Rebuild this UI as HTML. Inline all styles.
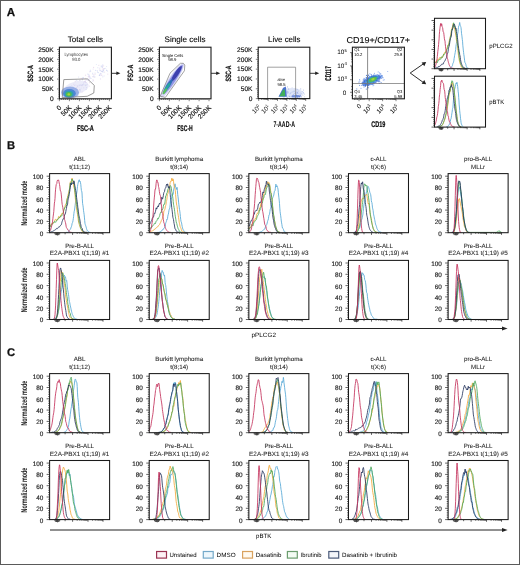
<!DOCTYPE html>
<html><head><meta charset="utf-8"><title>Figure</title>
<style>html,body{margin:0;padding:0;background:#fff;}svg{display:block;}</style></head>
<body><svg style="will-change:transform" width="520" height="565" viewBox="0 0 520 565" font-family='"Liberation Sans", sans-serif' text-rendering="geometricPrecision">
<defs><filter id="bl1" x="-20%" y="-20%" width="140%" height="140%"><feGaussianBlur stdDeviation="0.45"/></filter></defs>
<rect width="520" height="565" fill="#fff"/>
<rect x="0.5" y="0.5" width="519" height="564" fill="none" stroke="#5a5a5a" stroke-width="1"/>
<text x="6.8" y="16" font-size="11.6" font-weight="bold" fill="#111" stroke="#111" stroke-width="0.25">A</text>
<text x="85.4" y="42" font-size="8" text-anchor="middle" textLength="35.4" lengthAdjust="spacingAndGlyphs" stroke="#222" stroke-width="0.12">Total cells</text>
<text x="185" y="42" font-size="8" text-anchor="middle" textLength="41" lengthAdjust="spacingAndGlyphs" stroke="#222" stroke-width="0.12">Single cells</text>
<text x="284.2" y="42" font-size="8" text-anchor="middle" textLength="32.4" lengthAdjust="spacingAndGlyphs" stroke="#222" stroke-width="0.12">Live cells</text>
<text x="378.2" y="42.6" font-size="8.6" text-anchor="middle" textLength="63.5" lengthAdjust="spacingAndGlyphs" stroke="#222" stroke-width="0.12">CD19+/CD117+</text>
<g filter="url(#bl1)">
<circle cx="80.1" cy="90.4" r="0.6" fill="#b8bfec" opacity="0.45"/>
<circle cx="101.8" cy="75.4" r="0.6" fill="#d8b8dc" opacity="0.45"/>
<circle cx="75.7" cy="91.1" r="0.6" fill="#cbbfe8" opacity="0.45"/>
<circle cx="62.8" cy="95.5" r="0.6" fill="#b8bfec" opacity="0.45"/>
<circle cx="101.1" cy="66.0" r="0.6" fill="#b8bfec" opacity="0.45"/>
<circle cx="81.7" cy="85.2" r="0.6" fill="#b8bfec" opacity="0.45"/>
<circle cx="89.5" cy="82.7" r="0.6" fill="#d8b8dc" opacity="0.45"/>
<circle cx="67.0" cy="97.8" r="0.6" fill="#cbbfe8" opacity="0.45"/>
<circle cx="66.6" cy="91.2" r="0.6" fill="#b8bfec" opacity="0.45"/>
<circle cx="88.0" cy="80.7" r="0.6" fill="#cbbfe8" opacity="0.45"/>
<circle cx="79.8" cy="80.4" r="0.6" fill="#c6d0f2" opacity="0.45"/>
<circle cx="86.2" cy="80.0" r="0.6" fill="#cbbfe8" opacity="0.45"/>
<circle cx="93.5" cy="80.7" r="0.6" fill="#d8b8dc" opacity="0.45"/>
<circle cx="83.0" cy="84.8" r="0.6" fill="#d8b8dc" opacity="0.45"/>
<circle cx="107.5" cy="71.0" r="0.6" fill="#aebaea" opacity="0.45"/>
<circle cx="69.5" cy="91.0" r="0.6" fill="#b8bfec" opacity="0.45"/>
<circle cx="90.6" cy="71.2" r="0.6" fill="#aebaea" opacity="0.45"/>
<circle cx="76.2" cy="89.1" r="0.6" fill="#c6d0f2" opacity="0.45"/>
<circle cx="68.9" cy="94.7" r="0.6" fill="#b8bfec" opacity="0.45"/>
<circle cx="65.2" cy="88.5" r="0.6" fill="#c6d0f2" opacity="0.45"/>
<circle cx="72.6" cy="90.7" r="0.6" fill="#b8bfec" opacity="0.45"/>
<circle cx="101.0" cy="73.4" r="0.6" fill="#c6d0f2" opacity="0.45"/>
<circle cx="66.7" cy="91.6" r="0.6" fill="#cbbfe8" opacity="0.45"/>
<circle cx="83.8" cy="82.2" r="0.6" fill="#cbbfe8" opacity="0.45"/>
<circle cx="76.9" cy="80.7" r="0.6" fill="#c6d0f2" opacity="0.45"/>
<circle cx="99.7" cy="75.2" r="0.6" fill="#aebaea" opacity="0.45"/>
<circle cx="91.1" cy="78.3" r="0.6" fill="#b8bfec" opacity="0.45"/>
<circle cx="71.6" cy="92.8" r="0.6" fill="#c6d0f2" opacity="0.45"/>
<circle cx="99.9" cy="75.2" r="0.6" fill="#cbbfe8" opacity="0.45"/>
<circle cx="79.0" cy="87.0" r="0.6" fill="#cbbfe8" opacity="0.45"/>
<circle cx="88.9" cy="75.9" r="0.6" fill="#b8bfec" opacity="0.45"/>
<circle cx="88.3" cy="76.4" r="0.6" fill="#d8b8dc" opacity="0.45"/>
<circle cx="79.4" cy="85.4" r="0.6" fill="#c6d0f2" opacity="0.45"/>
<circle cx="68.5" cy="94.3" r="0.6" fill="#cbbfe8" opacity="0.45"/>
<circle cx="67.5" cy="91.1" r="0.6" fill="#d8b8dc" opacity="0.45"/>
<circle cx="72.6" cy="92.9" r="0.6" fill="#b8bfec" opacity="0.45"/>
<circle cx="67.7" cy="96.4" r="0.6" fill="#aebaea" opacity="0.45"/>
<circle cx="101.4" cy="66.8" r="0.6" fill="#b8bfec" opacity="0.45"/>
<circle cx="103.0" cy="71.9" r="0.6" fill="#c6d0f2" opacity="0.45"/>
<circle cx="80.2" cy="91.2" r="0.6" fill="#aebaea" opacity="0.45"/>
<circle cx="82.8" cy="78.1" r="0.6" fill="#cbbfe8" opacity="0.45"/>
<circle cx="102.3" cy="69.0" r="0.6" fill="#d8b8dc" opacity="0.45"/>
<circle cx="102.5" cy="67.4" r="0.6" fill="#b8bfec" opacity="0.45"/>
<circle cx="93.0" cy="79.5" r="0.6" fill="#cbbfe8" opacity="0.45"/>
<circle cx="79.6" cy="89.7" r="0.6" fill="#d8b8dc" opacity="0.45"/>
<circle cx="78.8" cy="92.4" r="0.6" fill="#cbbfe8" opacity="0.45"/>
<circle cx="99.9" cy="68.0" r="0.6" fill="#cbbfe8" opacity="0.45"/>
<circle cx="67.5" cy="89.9" r="0.6" fill="#b8bfec" opacity="0.45"/>
<circle cx="95.2" cy="74.1" r="0.6" fill="#d8b8dc" opacity="0.45"/>
<circle cx="97.5" cy="71.9" r="0.6" fill="#aebaea" opacity="0.45"/>
<circle cx="102.7" cy="71.1" r="0.6" fill="#cbbfe8" opacity="0.45"/>
<circle cx="81.9" cy="85.7" r="0.6" fill="#d8b8dc" opacity="0.45"/>
<circle cx="95.0" cy="73.0" r="0.6" fill="#b8bfec" opacity="0.45"/>
<circle cx="101.2" cy="74.8" r="0.6" fill="#cbbfe8" opacity="0.45"/>
<circle cx="86.4" cy="87.7" r="0.6" fill="#aebaea" opacity="0.45"/>
<circle cx="72.2" cy="90.8" r="0.6" fill="#c6d0f2" opacity="0.45"/>
<circle cx="85.4" cy="82.3" r="0.6" fill="#cbbfe8" opacity="0.45"/>
<circle cx="81.2" cy="78.4" r="0.6" fill="#d8b8dc" opacity="0.45"/>
<circle cx="103.6" cy="65.8" r="0.6" fill="#d8b8dc" opacity="0.45"/>
<circle cx="92.4" cy="81.0" r="0.6" fill="#b8bfec" opacity="0.45"/>
<circle cx="89.0" cy="79.3" r="0.6" fill="#cbbfe8" opacity="0.45"/>
<circle cx="99.3" cy="75.3" r="0.6" fill="#aebaea" opacity="0.45"/>
<circle cx="85.3" cy="78.4" r="0.6" fill="#d8b8dc" opacity="0.45"/>
<circle cx="86.1" cy="89.3" r="0.6" fill="#aebaea" opacity="0.45"/>
<circle cx="98.8" cy="65.3" r="0.6" fill="#d8b8dc" opacity="0.45"/>
<circle cx="84.7" cy="81.6" r="0.6" fill="#d8b8dc" opacity="0.45"/>
<circle cx="64.3" cy="90.4" r="0.6" fill="#cbbfe8" opacity="0.45"/>
<circle cx="89.8" cy="76.6" r="0.6" fill="#cbbfe8" opacity="0.45"/>
<circle cx="83.3" cy="77.8" r="0.6" fill="#aebaea" opacity="0.45"/>
<circle cx="89.3" cy="75.8" r="0.6" fill="#b8bfec" opacity="0.45"/>
<circle cx="102.9" cy="71.9" r="0.6" fill="#b8bfec" opacity="0.45"/>
<circle cx="92.6" cy="73.9" r="0.6" fill="#b8bfec" opacity="0.45"/>
<circle cx="79.9" cy="80.3" r="0.6" fill="#d8b8dc" opacity="0.45"/>
<circle cx="71.8" cy="93.7" r="0.6" fill="#c6d0f2" opacity="0.45"/>
<circle cx="85.4" cy="85.6" r="0.6" fill="#aebaea" opacity="0.45"/>
<circle cx="104.3" cy="68.6" r="0.6" fill="#c6d0f2" opacity="0.45"/>
<circle cx="72.1" cy="93.9" r="0.6" fill="#b8bfec" opacity="0.45"/>
<circle cx="90.3" cy="77.9" r="0.6" fill="#aebaea" opacity="0.45"/>
<circle cx="98.3" cy="72.6" r="0.6" fill="#aebaea" opacity="0.45"/>
<circle cx="75.8" cy="85.0" r="0.6" fill="#cbbfe8" opacity="0.45"/>
<circle cx="100.5" cy="78.9" r="0.6" fill="#cbbfe8" opacity="0.45"/>
<circle cx="106.5" cy="66.5" r="0.6" fill="#c6d0f2" opacity="0.45"/>
<circle cx="103.2" cy="70.2" r="0.6" fill="#aebaea" opacity="0.45"/>
<circle cx="77.3" cy="85.7" r="0.6" fill="#d8b8dc" opacity="0.45"/>
<circle cx="82.4" cy="79.3" r="0.6" fill="#d8b8dc" opacity="0.45"/>
<circle cx="89.1" cy="78.1" r="0.6" fill="#cbbfe8" opacity="0.45"/>
<circle cx="106.7" cy="70.4" r="0.6" fill="#b8bfec" opacity="0.45"/>
<circle cx="104.1" cy="75.9" r="0.6" fill="#c6d0f2" opacity="0.45"/>
<circle cx="96.4" cy="64.5" r="0.6" fill="#c6d0f2" opacity="0.45"/>
<circle cx="73.7" cy="88.8" r="0.6" fill="#aebaea" opacity="0.45"/>
<circle cx="72.0" cy="94.5" r="0.6" fill="#c6d0f2" opacity="0.45"/>
<circle cx="101.5" cy="71.5" r="0.6" fill="#b8bfec" opacity="0.45"/>
<circle cx="102.8" cy="76.8" r="0.6" fill="#b8bfec" opacity="0.45"/>
<circle cx="75.4" cy="88.2" r="0.6" fill="#d8b8dc" opacity="0.45"/>
<circle cx="85.2" cy="81.2" r="0.6" fill="#b8bfec" opacity="0.45"/>
<circle cx="86.2" cy="82.5" r="0.6" fill="#cbbfe8" opacity="0.45"/>
<circle cx="77.9" cy="95.3" r="0.6" fill="#aebaea" opacity="0.45"/>
<circle cx="87.2" cy="84.3" r="0.6" fill="#cbbfe8" opacity="0.45"/>
<circle cx="78.6" cy="77.0" r="0.6" fill="#b8bfec" opacity="0.45"/>
<circle cx="64.2" cy="90.2" r="0.6" fill="#cbbfe8" opacity="0.45"/>
<circle cx="85.7" cy="84.9" r="0.6" fill="#c6d0f2" opacity="0.45"/>
<circle cx="85.5" cy="75.2" r="0.6" fill="#d8b8dc" opacity="0.45"/>
<circle cx="77.4" cy="89.2" r="0.6" fill="#cbbfe8" opacity="0.45"/>
<circle cx="97.8" cy="67.7" r="0.6" fill="#c6d0f2" opacity="0.45"/>
<circle cx="86.3" cy="85.1" r="0.6" fill="#c6d0f2" opacity="0.45"/>
<circle cx="99.4" cy="69.0" r="0.6" fill="#cbbfe8" opacity="0.45"/>
<circle cx="94.9" cy="76.9" r="0.6" fill="#aebaea" opacity="0.45"/>
<circle cx="82.1" cy="91.9" r="0.6" fill="#d8b8dc" opacity="0.45"/>
<circle cx="83.7" cy="87.8" r="0.6" fill="#cbbfe8" opacity="0.45"/>
<circle cx="81.9" cy="85.4" r="0.6" fill="#c6d0f2" opacity="0.45"/>
<circle cx="74.5" cy="85.3" r="0.6" fill="#b8bfec" opacity="0.45"/>
<circle cx="68.5" cy="90.8" r="0.6" fill="#d8b8dc" opacity="0.45"/>
<circle cx="68.3" cy="94.3" r="0.6" fill="#cbbfe8" opacity="0.45"/>
<circle cx="73.2" cy="90.9" r="0.6" fill="#cbbfe8" opacity="0.45"/>
<circle cx="90.3" cy="70.2" r="0.6" fill="#c6d0f2" opacity="0.45"/>
<circle cx="95.5" cy="70.3" r="0.6" fill="#aebaea" opacity="0.45"/>
<circle cx="93.9" cy="74.6" r="0.6" fill="#d8b8dc" opacity="0.45"/>
<circle cx="89.8" cy="71.7" r="0.6" fill="#cbbfe8" opacity="0.45"/>
<circle cx="102.3" cy="65.9" r="0.6" fill="#b8bfec" opacity="0.45"/>
<circle cx="93.2" cy="69.0" r="0.6" fill="#cbbfe8" opacity="0.45"/>
<circle cx="71.7" cy="94.0" r="0.6" fill="#b8bfec" opacity="0.45"/>
<circle cx="78.9" cy="85.2" r="0.6" fill="#b8bfec" opacity="0.45"/>
<circle cx="88.8" cy="74.4" r="0.6" fill="#b8bfec" opacity="0.45"/>
<circle cx="89.5" cy="86.1" r="0.6" fill="#d8b8dc" opacity="0.45"/>
<circle cx="63.0" cy="91.6" r="0.6" fill="#c6d0f2" opacity="0.45"/>
<circle cx="76.7" cy="89.4" r="0.6" fill="#cbbfe8" opacity="0.45"/>
<circle cx="71.7" cy="85.6" r="0.6" fill="#c6d0f2" opacity="0.45"/>
<circle cx="69.3" cy="91.4" r="0.6" fill="#b8bfec" opacity="0.45"/>
<circle cx="89.2" cy="77.2" r="0.6" fill="#cbbfe8" opacity="0.45"/>
<circle cx="75.3" cy="81.7" r="0.6" fill="#d8b8dc" opacity="0.45"/>
<circle cx="88.9" cy="79.8" r="0.6" fill="#aebaea" opacity="0.45"/>
<circle cx="106.5" cy="70.2" r="0.6" fill="#c6d0f2" opacity="0.45"/>
<circle cx="72.9" cy="86.7" r="0.6" fill="#c6d0f2" opacity="0.45"/>
<circle cx="100.0" cy="74.1" r="0.6" fill="#aebaea" opacity="0.45"/>
<circle cx="105.6" cy="68.3" r="0.6" fill="#c6d0f2" opacity="0.45"/>
<circle cx="100.7" cy="73.3" r="0.6" fill="#cbbfe8" opacity="0.45"/>
<circle cx="71.3" cy="96.1" r="0.6" fill="#aebaea" opacity="0.45"/>
<circle cx="107.8" cy="74.1" r="0.6" fill="#d8b8dc" opacity="0.45"/>
<circle cx="77.9" cy="89.6" r="0.6" fill="#c6d0f2" opacity="0.45"/>
<circle cx="101.0" cy="70.8" r="0.6" fill="#b8bfec" opacity="0.45"/>
<circle cx="102.6" cy="66.1" r="0.6" fill="#cbbfe8" opacity="0.45"/>
<circle cx="80.4" cy="85.0" r="0.6" fill="#aebaea" opacity="0.45"/>
<circle cx="64.1" cy="88.3" r="0.6" fill="#b8bfec" opacity="0.45"/>
<circle cx="103.6" cy="70.1" r="0.6" fill="#aebaea" opacity="0.45"/>
<circle cx="77.4" cy="89.5" r="0.6" fill="#d8b8dc" opacity="0.45"/>
<circle cx="71.7" cy="90.3" r="0.6" fill="#b8bfec" opacity="0.45"/>
<circle cx="80.0" cy="89.1" r="0.6" fill="#cbbfe8" opacity="0.45"/>
<circle cx="74.1" cy="92.4" r="0.6" fill="#cbbfe8" opacity="0.45"/>
<circle cx="97.2" cy="70.5" r="0.6" fill="#b8bfec" opacity="0.45"/>
<circle cx="93.6" cy="67.4" r="0.6" fill="#d8b8dc" opacity="0.45"/>
<circle cx="86.9" cy="79.1" r="0.6" fill="#c6d0f2" opacity="0.45"/>
<circle cx="83.0" cy="77.8" r="0.6" fill="#aebaea" opacity="0.45"/>
<circle cx="87.6" cy="79.6" r="0.6" fill="#cbbfe8" opacity="0.45"/>
<circle cx="82.4" cy="84.7" r="0.6" fill="#aebaea" opacity="0.45"/>
<circle cx="81.3" cy="88.0" r="0.6" fill="#c6d0f2" opacity="0.45"/>
<circle cx="68.3" cy="90.7" r="0.6" fill="#d8b8dc" opacity="0.45"/>
<circle cx="99.9" cy="70.6" r="0.6" fill="#aebaea" opacity="0.45"/>
<circle cx="104.3" cy="68.7" r="0.6" fill="#cbbfe8" opacity="0.45"/>
<circle cx="76.0" cy="92.4" r="0.6" fill="#aebaea" opacity="0.45"/>
<circle cx="73.8" cy="93.1" r="0.6" fill="#b8bfec" opacity="0.45"/>
<circle cx="92.8" cy="76.6" r="0.6" fill="#d8b8dc" opacity="0.45"/>
<circle cx="72.2" cy="95.1" r="0.6" fill="#c6d0f2" opacity="0.45"/>
<circle cx="77.2" cy="87.1" r="0.6" fill="#d8b8dc" opacity="0.45"/>
<circle cx="87.7" cy="74.1" r="0.6" fill="#b8bfec" opacity="0.45"/>
<circle cx="75.4" cy="91.2" r="0.6" fill="#c6d0f2" opacity="0.45"/>
<circle cx="80.0" cy="89.3" r="0.6" fill="#b8bfec" opacity="0.45"/>
<circle cx="64.8" cy="94.3" r="0.6" fill="#c6d0f2" opacity="0.45"/>
<circle cx="103.5" cy="68.9" r="0.6" fill="#d8b8dc" opacity="0.45"/>
<circle cx="102.2" cy="71.4" r="0.6" fill="#b8bfec" opacity="0.45"/>
<circle cx="78.0" cy="96.6" r="0.6" fill="#b8bfec" opacity="0.45"/>
<circle cx="102.8" cy="64.6" r="0.6" fill="#c6d0f2" opacity="0.45"/>
<circle cx="67.6" cy="92.5" r="0.6" fill="#cbbfe8" opacity="0.45"/>
<circle cx="77.6" cy="86.3" r="0.6" fill="#aebaea" opacity="0.45"/>
<circle cx="101.8" cy="66.0" r="0.6" fill="#c6d0f2" opacity="0.45"/>
<circle cx="94.2" cy="77.0" r="0.6" fill="#d8b8dc" opacity="0.45"/>
<circle cx="104.5" cy="72.1" r="0.6" fill="#d8b8dc" opacity="0.45"/>
<circle cx="73.4" cy="93.6" r="0.6" fill="#cbbfe8" opacity="0.45"/>
<circle cx="84.2" cy="84.8" r="0.6" fill="#c6d0f2" opacity="0.45"/>
<circle cx="93.4" cy="76.7" r="0.6" fill="#c6d0f2" opacity="0.45"/>
<circle cx="100.4" cy="70.0" r="0.6" fill="#cbbfe8" opacity="0.45"/>
<circle cx="93.9" cy="75.8" r="0.6" fill="#b8bfec" opacity="0.45"/>
<circle cx="92.7" cy="73.0" r="0.6" fill="#c6d0f2" opacity="0.45"/>
<circle cx="73.8" cy="84.2" r="0.6" fill="#d8b8dc" opacity="0.45"/>
<circle cx="64.8" cy="93.2" r="0.6" fill="#cbbfe8" opacity="0.45"/>
<circle cx="74.6" cy="94.6" r="0.6" fill="#aebaea" opacity="0.45"/>
<circle cx="65.6" cy="88.7" r="0.6" fill="#cbbfe8" opacity="0.45"/>
<circle cx="85.2" cy="81.3" r="0.6" fill="#d8b8dc" opacity="0.45"/>
<circle cx="68.5" cy="92.6" r="0.6" fill="#d8b8dc" opacity="0.45"/>
<circle cx="71.0" cy="91.6" r="0.6" fill="#c6d0f2" opacity="0.45"/>
<circle cx="82.3" cy="79.9" r="0.6" fill="#b8bfec" opacity="0.45"/>
<circle cx="76.4" cy="87.7" r="0.6" fill="#b8bfec" opacity="0.45"/>
<circle cx="76.2" cy="80.0" r="0.6" fill="#aebaea" opacity="0.45"/>
<circle cx="83.5" cy="83.9" r="0.6" fill="#b8bfec" opacity="0.45"/>
<circle cx="80.2" cy="85.0" r="0.6" fill="#cbbfe8" opacity="0.45"/>
<ellipse cx="76" cy="88" rx="13" ry="6.5" fill="#d4d4f2" opacity="0.45" transform="rotate(-15 76 88)"/>
<ellipse cx="70" cy="92.6" rx="9" ry="6" fill="#7d9ce0" opacity="0.75"/>
<ellipse cx="69.4" cy="93.4" rx="6.4" ry="4.5" fill="#4a84d4" opacity="0.95"/>
<ellipse cx="69" cy="94" rx="4.4" ry="3.2" fill="#2fa0b0"/>
<ellipse cx="68.8" cy="94.3" rx="2.9" ry="2.2" fill="#52bd4e"/>
<ellipse cx="68.8" cy="94.4" rx="1.4" ry="1.1" fill="#a6d43a"/>
</g>
<path d="M63.8 79.6 L87.4 78.9 L94.3 85.4 L93.8 93 L87.2 96.3 L62.2 97.6 Z" fill="none" stroke="#7a7a7a" stroke-width="0.75"/>
<text x="76.2" y="55.9" font-size="4.6" text-anchor="middle" textLength="23.5" lengthAdjust="spacingAndGlyphs" fill="#333" >Lymphocytes</text>
<text x="76.3" y="60.9" font-size="4.6" text-anchor="middle" textLength="8.3" lengthAdjust="spacingAndGlyphs" fill="#333" >93.0</text>
<rect x="59.4" y="47.2" width="52" height="51.6" fill="none" stroke="#1a1a1a" stroke-width="1.1"/>
<text x="53.7" y="101.1" font-size="6.6" text-anchor="end" stroke="#222" stroke-width="0.15">0</text>
<text x="53.7" y="91.24" font-size="6.6" text-anchor="end" stroke="#222" stroke-width="0.15">50K</text>
<text x="53.7" y="81.38" font-size="6.6" text-anchor="end" stroke="#222" stroke-width="0.15">100K</text>
<text x="53.7" y="71.52" font-size="6.6" text-anchor="end" stroke="#222" stroke-width="0.15">150K</text>
<text x="53.7" y="61.66" font-size="6.6" text-anchor="end" stroke="#222" stroke-width="0.15">200K</text>
<text x="53.7" y="51.8" font-size="6.6" text-anchor="end" stroke="#222" stroke-width="0.15">250K</text>
<text transform="translate(62,108.2) rotate(-45)" x="0" y="0" font-size="6.7" text-anchor="end" stroke="#222" stroke-width="0.15">0</text>
<text transform="translate(72,108.2) rotate(-45)" x="0" y="0" font-size="6.7" text-anchor="end" stroke="#222" stroke-width="0.15">50K</text>
<text transform="translate(82,108.2) rotate(-45)" x="0" y="0" font-size="6.7" text-anchor="end" stroke="#222" stroke-width="0.15">100K</text>
<text transform="translate(92,108.2) rotate(-45)" x="0" y="0" font-size="6.7" text-anchor="end" stroke="#222" stroke-width="0.15">150K</text>
<text transform="translate(102,108.2) rotate(-45)" x="0" y="0" font-size="6.7" text-anchor="end" stroke="#222" stroke-width="0.15">200K</text>
<text transform="translate(112,108.2) rotate(-45)" x="0" y="0" font-size="6.7" text-anchor="end" stroke="#222" stroke-width="0.15">250K</text>
<path d="M57 98.8H59.4M58.2 96.83H59.4M58.2 94.86H59.4M58.2 92.88H59.4M58.2 90.91H59.4M57 88.94H59.4M58.2 86.97H59.4M58.2 85H59.4M58.2 83.02H59.4M58.2 81.05H59.4M57 79.08H59.4M58.2 77.11H59.4M58.2 75.14H59.4M58.2 73.16H59.4M58.2 71.19H59.4M57 69.22H59.4M58.2 67.25H59.4M58.2 65.28H59.4M58.2 63.3H59.4M58.2 61.33H59.4M57 59.36H59.4M58.2 57.39H59.4M58.2 55.42H59.4M58.2 53.44H59.4M58.2 51.47H59.4M57 49.5H59.4M59.4 98.8V101.2M61.4 98.8V100M63.4 98.8V100M65.4 98.8V100M67.4 98.8V100M69.4 98.8V101.2M71.4 98.8V100M73.4 98.8V100M75.4 98.8V100M77.4 98.8V100M79.4 98.8V101.2M81.4 98.8V100M83.4 98.8V100M85.4 98.8V100M87.4 98.8V100M89.4 98.8V101.2M91.4 98.8V100M93.4 98.8V100M95.4 98.8V100M97.4 98.8V100M99.4 98.8V101.2M101.4 98.8V100M103.4 98.8V100M105.4 98.8V100M107.4 98.8V100M109.4 98.8V101.2" stroke="#222" stroke-width="0.55" fill="none"/>
<text transform="translate(33.2,73.5) rotate(-90)" x="0" y="0" font-size="7.8" text-anchor="middle" font-weight="bold" textLength="16.5" lengthAdjust="spacingAndGlyphs" stroke="#222" stroke-width="0.2">SSC-A</text>
<text x="85.4" y="130.9" font-size="8.2" text-anchor="middle" font-weight="bold" textLength="17" lengthAdjust="spacingAndGlyphs" stroke="#222" stroke-width="0.2">FSC-A</text>
<line x1="111.4" y1="73.3" x2="117.2" y2="73.3" stroke="#222" stroke-width="0.9" />
<path d="M116.4 71.5 L120.4 73.3 L116.4 75.1 Z" fill="#222"/>
<g filter="url(#bl1)">
<ellipse cx="172.2" cy="80.4" rx="20.5" ry="4" fill="#cfd0f4" opacity="0.85" transform="rotate(-56.3 172.2 80.4)"/>
<ellipse cx="172.8" cy="79.6" rx="17.5" ry="2.9" fill="#8a8fe0" opacity="0.9" transform="rotate(-56.3 172.8 79.6)"/>
<ellipse cx="176.6" cy="73.6" rx="9" ry="2" fill="#3d3fae" opacity="1" transform="rotate(-56.3 176.6 73.6)"/>
<ellipse cx="168.6" cy="85" rx="7" ry="1.7" fill="#2f6fb8" opacity="1" transform="rotate(-56.3 168.6 85)"/>
<ellipse cx="167" cy="87.5" rx="5.5" ry="1.5" fill="#29a3a2" opacity="1" transform="rotate(-56.3 167 87.5)"/>
<ellipse cx="164.8" cy="91.4" rx="3.4" ry="1.2" fill="#5cc05a" opacity="1" transform="rotate(-56.3 164.8 91.4)"/>
</g>
<path d="M160.2 96.3 L170 73.2 L180.4 63.3 L183.3 63.3 L184.8 65 L184.4 70.8 L165.4 97.4 Z" fill="none" stroke="#7a7a7a" stroke-width="0.7"/>
<text x="172.6" y="56.6" font-size="4.3" text-anchor="middle" textLength="21.4" lengthAdjust="spacingAndGlyphs" >Single Cells</text>
<text x="172.3" y="61.4" font-size="4.3" text-anchor="middle" textLength="8.3" lengthAdjust="spacingAndGlyphs" >98.9</text>
<rect x="159.4" y="47.2" width="51.6" height="51.6" fill="none" stroke="#1a1a1a" stroke-width="1.1"/>
<text x="153.7" y="101.1" font-size="6.6" text-anchor="end" stroke="#222" stroke-width="0.15">0</text>
<text x="153.7" y="91.24" font-size="6.6" text-anchor="end" stroke="#222" stroke-width="0.15">50K</text>
<text x="153.7" y="81.38" font-size="6.6" text-anchor="end" stroke="#222" stroke-width="0.15">100K</text>
<text x="153.7" y="71.52" font-size="6.6" text-anchor="end" stroke="#222" stroke-width="0.15">150K</text>
<text x="153.7" y="61.66" font-size="6.6" text-anchor="end" stroke="#222" stroke-width="0.15">200K</text>
<text x="153.7" y="51.8" font-size="6.6" text-anchor="end" stroke="#222" stroke-width="0.15">250K</text>
<text transform="translate(162,108.2) rotate(-45)" x="0" y="0" font-size="6.7" text-anchor="end" stroke="#222" stroke-width="0.15">0</text>
<text transform="translate(171.92,108.2) rotate(-45)" x="0" y="0" font-size="6.7" text-anchor="end" stroke="#222" stroke-width="0.15">50K</text>
<text transform="translate(181.84,108.2) rotate(-45)" x="0" y="0" font-size="6.7" text-anchor="end" stroke="#222" stroke-width="0.15">100K</text>
<text transform="translate(191.76,108.2) rotate(-45)" x="0" y="0" font-size="6.7" text-anchor="end" stroke="#222" stroke-width="0.15">150K</text>
<text transform="translate(201.68,108.2) rotate(-45)" x="0" y="0" font-size="6.7" text-anchor="end" stroke="#222" stroke-width="0.15">200K</text>
<text transform="translate(211.6,108.2) rotate(-45)" x="0" y="0" font-size="6.7" text-anchor="end" stroke="#222" stroke-width="0.15">250K</text>
<path d="M157 98.8H159.4M158.2 96.83H159.4M158.2 94.86H159.4M158.2 92.88H159.4M158.2 90.91H159.4M157 88.94H159.4M158.2 86.97H159.4M158.2 85H159.4M158.2 83.02H159.4M158.2 81.05H159.4M157 79.08H159.4M158.2 77.11H159.4M158.2 75.14H159.4M158.2 73.16H159.4M158.2 71.19H159.4M157 69.22H159.4M158.2 67.25H159.4M158.2 65.28H159.4M158.2 63.3H159.4M158.2 61.33H159.4M157 59.36H159.4M158.2 57.39H159.4M158.2 55.42H159.4M158.2 53.44H159.4M158.2 51.47H159.4M157 49.5H159.4M159.4 98.8V101.2M161.38 98.8V100M163.37 98.8V100M165.35 98.8V100M167.34 98.8V100M169.32 98.8V101.2M171.3 98.8V100M173.29 98.8V100M175.27 98.8V100M177.26 98.8V100M179.24 98.8V101.2M181.22 98.8V100M183.21 98.8V100M185.19 98.8V100M187.18 98.8V100M189.16 98.8V101.2M191.14 98.8V100M193.13 98.8V100M195.11 98.8V100M197.1 98.8V100M199.08 98.8V101.2M201.06 98.8V100M203.05 98.8V100M205.03 98.8V100M207.02 98.8V100M209 98.8V101.2" stroke="#222" stroke-width="0.55" fill="none"/>
<text transform="translate(133.1,72.8) rotate(-90)" x="0" y="0" font-size="7.8" text-anchor="middle" font-weight="bold" textLength="16" lengthAdjust="spacingAndGlyphs" stroke="#222" stroke-width="0.2">FSC-A</text>
<text x="185" y="130.7" font-size="8.2" text-anchor="middle" font-weight="bold" textLength="15.5" lengthAdjust="spacingAndGlyphs" stroke="#222" stroke-width="0.2">FSC-H</text>
<line x1="211" y1="73.3" x2="217" y2="73.3" stroke="#222" stroke-width="0.9" />
<path d="M216.2 71.5 L220.2 73.3 L216.2 75.1 Z" fill="#222"/>
<g filter="url(#bl1)">
<ellipse cx="292" cy="93" rx="11" ry="5" fill="#c6d2f2" opacity="0.55"/>
<circle cx="291.4" cy="96.1" r="0.55" fill="#b4c2ee" opacity="0.5"/>
<circle cx="301.1" cy="93.6" r="0.55" fill="#8fa8e0" opacity="0.5"/>
<circle cx="298.5" cy="91.1" r="0.55" fill="#a9b6e8" opacity="0.5"/>
<circle cx="287.2" cy="92.9" r="0.55" fill="#a9b6e8" opacity="0.5"/>
<circle cx="283.7" cy="93.4" r="0.55" fill="#a9b6e8" opacity="0.5"/>
<circle cx="283.9" cy="88.1" r="0.55" fill="#8fa8e0" opacity="0.5"/>
<circle cx="300.7" cy="88.9" r="0.55" fill="#6d8ad8" opacity="0.5"/>
<circle cx="299.4" cy="96.9" r="0.55" fill="#b4c2ee" opacity="0.5"/>
<circle cx="291.0" cy="92.7" r="0.55" fill="#8fa8e0" opacity="0.5"/>
<circle cx="288.8" cy="95.7" r="0.55" fill="#b4c2ee" opacity="0.5"/>
<circle cx="303.3" cy="92.3" r="0.55" fill="#8fa8e0" opacity="0.5"/>
<circle cx="283.5" cy="91.6" r="0.55" fill="#a9b6e8" opacity="0.5"/>
<circle cx="298.7" cy="93.8" r="0.55" fill="#a9b6e8" opacity="0.5"/>
<circle cx="300.4" cy="97.0" r="0.55" fill="#a9b6e8" opacity="0.5"/>
<circle cx="285.9" cy="94.1" r="0.55" fill="#8fa8e0" opacity="0.5"/>
<circle cx="300.7" cy="95.9" r="0.55" fill="#6d8ad8" opacity="0.5"/>
<circle cx="296.4" cy="92.6" r="0.55" fill="#b4c2ee" opacity="0.5"/>
<circle cx="293.1" cy="96.2" r="0.55" fill="#8fa8e0" opacity="0.5"/>
<circle cx="294.3" cy="93.2" r="0.55" fill="#6d8ad8" opacity="0.5"/>
<circle cx="288.4" cy="88.9" r="0.55" fill="#8fa8e0" opacity="0.5"/>
<circle cx="293.6" cy="94.5" r="0.55" fill="#6d8ad8" opacity="0.5"/>
<circle cx="304.6" cy="96.8" r="0.55" fill="#8fa8e0" opacity="0.5"/>
<circle cx="288.8" cy="89.3" r="0.55" fill="#8fa8e0" opacity="0.5"/>
<circle cx="292.3" cy="97.4" r="0.55" fill="#a9b6e8" opacity="0.5"/>
<circle cx="286.8" cy="90.2" r="0.55" fill="#a9b6e8" opacity="0.5"/>
<circle cx="296.6" cy="95.4" r="0.55" fill="#8fa8e0" opacity="0.5"/>
<circle cx="300.2" cy="92.2" r="0.55" fill="#b4c2ee" opacity="0.5"/>
<circle cx="295.5" cy="93.0" r="0.55" fill="#b4c2ee" opacity="0.5"/>
<circle cx="287.4" cy="91.7" r="0.55" fill="#6d8ad8" opacity="0.5"/>
<circle cx="288.2" cy="92.1" r="0.55" fill="#6d8ad8" opacity="0.5"/>
<circle cx="290.2" cy="93.2" r="0.55" fill="#6d8ad8" opacity="0.5"/>
<circle cx="294.2" cy="91.5" r="0.55" fill="#8fa8e0" opacity="0.5"/>
<circle cx="297.4" cy="97.4" r="0.55" fill="#8fa8e0" opacity="0.5"/>
<circle cx="283.1" cy="96.8" r="0.55" fill="#6d8ad8" opacity="0.5"/>
<circle cx="301.5" cy="97.0" r="0.55" fill="#8fa8e0" opacity="0.5"/>
<circle cx="302.3" cy="91.5" r="0.55" fill="#8fa8e0" opacity="0.5"/>
<circle cx="287.2" cy="97.3" r="0.55" fill="#6d8ad8" opacity="0.5"/>
<circle cx="303.5" cy="93.0" r="0.55" fill="#6d8ad8" opacity="0.5"/>
<circle cx="292.9" cy="91.9" r="0.55" fill="#8fa8e0" opacity="0.5"/>
<circle cx="285.3" cy="94.9" r="0.55" fill="#b4c2ee" opacity="0.5"/>
<circle cx="287.8" cy="93.0" r="0.55" fill="#6d8ad8" opacity="0.5"/>
<circle cx="284.0" cy="97.5" r="0.55" fill="#8fa8e0" opacity="0.5"/>
<circle cx="296.2" cy="95.3" r="0.55" fill="#6d8ad8" opacity="0.5"/>
<circle cx="300.9" cy="96.4" r="0.55" fill="#a9b6e8" opacity="0.5"/>
<circle cx="297.9" cy="90.9" r="0.55" fill="#b4c2ee" opacity="0.5"/>
<circle cx="284.7" cy="88.0" r="0.55" fill="#a9b6e8" opacity="0.5"/>
<circle cx="295.1" cy="88.9" r="0.55" fill="#8fa8e0" opacity="0.5"/>
<circle cx="300.5" cy="95.4" r="0.55" fill="#6d8ad8" opacity="0.5"/>
<circle cx="297.1" cy="89.5" r="0.55" fill="#6d8ad8" opacity="0.5"/>
<circle cx="291.8" cy="92.0" r="0.55" fill="#b4c2ee" opacity="0.5"/>
<circle cx="297.7" cy="93.4" r="0.55" fill="#8fa8e0" opacity="0.5"/>
<circle cx="289.9" cy="94.7" r="0.55" fill="#b4c2ee" opacity="0.5"/>
<circle cx="292.1" cy="87.6" r="0.55" fill="#b4c2ee" opacity="0.5"/>
<circle cx="297.2" cy="93.2" r="0.55" fill="#a9b6e8" opacity="0.5"/>
<circle cx="287.5" cy="86.9" r="0.55" fill="#6d8ad8" opacity="0.5"/>
<circle cx="292.3" cy="96.4" r="0.55" fill="#a9b6e8" opacity="0.5"/>
<circle cx="295.7" cy="92.9" r="0.55" fill="#6d8ad8" opacity="0.5"/>
<circle cx="285.9" cy="88.6" r="0.55" fill="#6d8ad8" opacity="0.5"/>
<circle cx="297.1" cy="97.0" r="0.55" fill="#8fa8e0" opacity="0.5"/>
<circle cx="295.6" cy="97.1" r="0.55" fill="#6d8ad8" opacity="0.5"/>
<circle cx="286.2" cy="92.1" r="0.55" fill="#6d8ad8" opacity="0.5"/>
<circle cx="303.4" cy="89.8" r="0.55" fill="#a9b6e8" opacity="0.5"/>
<circle cx="299.6" cy="96.2" r="0.55" fill="#6d8ad8" opacity="0.5"/>
<circle cx="289.6" cy="96.5" r="0.55" fill="#8fa8e0" opacity="0.5"/>
<circle cx="304.5" cy="94.0" r="0.55" fill="#8fa8e0" opacity="0.5"/>
<circle cx="296.4" cy="95.2" r="0.55" fill="#8fa8e0" opacity="0.5"/>
<circle cx="302.9" cy="95.1" r="0.55" fill="#6d8ad8" opacity="0.5"/>
<circle cx="297.1" cy="96.6" r="0.55" fill="#a9b6e8" opacity="0.5"/>
<circle cx="296.5" cy="91.1" r="0.55" fill="#a9b6e8" opacity="0.5"/>
<circle cx="287.0" cy="91.4" r="0.55" fill="#a9b6e8" opacity="0.5"/>
<circle cx="303.6" cy="90.5" r="0.55" fill="#b4c2ee" opacity="0.5"/>
<circle cx="285.7" cy="91.7" r="0.55" fill="#6d8ad8" opacity="0.5"/>
<circle cx="283.9" cy="94.6" r="0.55" fill="#8fa8e0" opacity="0.5"/>
<circle cx="297.7" cy="92.5" r="0.55" fill="#a9b6e8" opacity="0.5"/>
<circle cx="296.2" cy="94.5" r="0.55" fill="#b4c2ee" opacity="0.5"/>
<circle cx="297.3" cy="92.4" r="0.55" fill="#6d8ad8" opacity="0.5"/>
<circle cx="292.4" cy="95.3" r="0.55" fill="#a9b6e8" opacity="0.5"/>
<circle cx="294.1" cy="90.9" r="0.55" fill="#8fa8e0" opacity="0.5"/>
<circle cx="296.6" cy="94.0" r="0.55" fill="#6d8ad8" opacity="0.5"/>
<circle cx="292.8" cy="95.0" r="0.55" fill="#a9b6e8" opacity="0.5"/>
<circle cx="301.4" cy="96.4" r="0.55" fill="#a9b6e8" opacity="0.5"/>
<circle cx="285.4" cy="90.1" r="0.55" fill="#a9b6e8" opacity="0.5"/>
<circle cx="291.0" cy="96.3" r="0.55" fill="#8fa8e0" opacity="0.5"/>
<circle cx="283.9" cy="90.2" r="0.55" fill="#b4c2ee" opacity="0.5"/>
<circle cx="300.1" cy="94.2" r="0.55" fill="#8fa8e0" opacity="0.5"/>
<circle cx="299.5" cy="96.9" r="0.55" fill="#6d8ad8" opacity="0.5"/>
<circle cx="283.6" cy="89.0" r="0.55" fill="#8fa8e0" opacity="0.5"/>
<circle cx="287.3" cy="97.4" r="0.55" fill="#a9b6e8" opacity="0.5"/>
<circle cx="289.3" cy="96.4" r="0.55" fill="#6d8ad8" opacity="0.5"/>
<circle cx="298.1" cy="95.8" r="0.55" fill="#6d8ad8" opacity="0.5"/>
<path d="M278.5 96.8 L283 88 L285.8 86.6 L286.8 96.8 Z" fill="#4a6fd0"/>
<path d="M279.4 96.3 L283 89.8 L284.8 89.5 L285.3 96.3 Z" fill="#3fae5a"/>
<ellipse cx="296" cy="96.3" rx="4.5" ry="1.3" fill="#4a6fd0" opacity="0.7"/>
</g>
<path d="M267.6 98.6 V67.2 H295.6 V98.6" fill="none" stroke="#7a7a7a" stroke-width="0.7"/>
<text x="281.3" y="81.3" font-size="4.3" text-anchor="middle" textLength="7.5" lengthAdjust="spacingAndGlyphs" >alive</text>
<text x="281.5" y="86.2" font-size="4.3" text-anchor="middle" textLength="8.1" lengthAdjust="spacingAndGlyphs" >98.5</text>
<rect x="258.2" y="47.2" width="51.6" height="51.4" fill="none" stroke="#1a1a1a" stroke-width="1.1"/>
<text x="252.5" y="100.9" font-size="6.6" text-anchor="end" stroke="#222" stroke-width="0.15">0</text>
<text x="252.5" y="91.08" font-size="6.6" text-anchor="end" stroke="#222" stroke-width="0.15">50K</text>
<text x="252.5" y="81.26" font-size="6.6" text-anchor="end" stroke="#222" stroke-width="0.15">100K</text>
<text x="252.5" y="71.44" font-size="6.6" text-anchor="end" stroke="#222" stroke-width="0.15">150K</text>
<text x="252.5" y="61.62" font-size="6.6" text-anchor="end" stroke="#222" stroke-width="0.15">200K</text>
<text x="252.5" y="51.8" font-size="6.6" text-anchor="end" stroke="#222" stroke-width="0.15">250K</text>
<path d="M255.8 98.6H258.2M257 96.64H258.2M257 94.67H258.2M257 92.71H258.2M257 90.74H258.2M255.8 88.78H258.2M257 86.82H258.2M257 84.85H258.2M257 82.89H258.2M257 80.92H258.2M255.8 78.96H258.2M257 77H258.2M257 75.03H258.2M257 73.07H258.2M257 71.1H258.2M255.8 69.14H258.2M257 67.18H258.2M257 65.21H258.2M257 63.25H258.2M257 61.28H258.2M255.8 59.32H258.2M257 57.36H258.2M257 55.39H258.2M257 53.43H258.2M257 51.46H258.2M255.8 49.5H258.2" stroke="#222" stroke-width="0.55" fill="none"/>
<text transform="translate(261.1,107.4) rotate(-45)" x="0" y="0" font-size="6.4" text-anchor="end" fill="#2a2a2a">10<tspan dy="-2.43" font-size="4.3">0</tspan></text>
<text transform="translate(270.5,107.4) rotate(-45)" x="0" y="0" font-size="6.4" text-anchor="end" fill="#2a2a2a">10<tspan dy="-2.43" font-size="4.3">1</tspan></text>
<text transform="translate(279.9,107.4) rotate(-45)" x="0" y="0" font-size="6.4" text-anchor="end" fill="#2a2a2a">10<tspan dy="-2.43" font-size="4.3">2</tspan></text>
<text transform="translate(289.3,107.4) rotate(-45)" x="0" y="0" font-size="6.4" text-anchor="end" fill="#2a2a2a">10<tspan dy="-2.43" font-size="4.3">3</tspan></text>
<text transform="translate(298.7,107.4) rotate(-45)" x="0" y="0" font-size="6.4" text-anchor="end" fill="#2a2a2a">10<tspan dy="-2.43" font-size="4.3">4</tspan></text>
<text transform="translate(308.1,107.4) rotate(-45)" x="0" y="0" font-size="6.4" text-anchor="end" fill="#2a2a2a">10<tspan dy="-2.43" font-size="4.3">5</tspan></text>
<path d="M258.7 98.6V101M261.53 98.6V99.8M263.18 98.6V99.8M264.36 98.6V99.8M265.27 98.6V99.8M266.01 98.6V99.8M266.64 98.6V99.8M267.19 98.6V99.8M267.67 98.6V99.8M268.1 98.6V101M270.93 98.6V99.8M272.58 98.6V99.8M273.76 98.6V99.8M274.67 98.6V99.8M275.41 98.6V99.8M276.04 98.6V99.8M276.59 98.6V99.8M277.07 98.6V99.8M277.5 98.6V101M280.33 98.6V99.8M281.98 98.6V99.8M283.16 98.6V99.8M284.07 98.6V99.8M284.81 98.6V99.8M285.44 98.6V99.8M285.99 98.6V99.8M286.47 98.6V99.8M286.9 98.6V101M289.73 98.6V99.8M291.38 98.6V99.8M292.56 98.6V99.8M293.47 98.6V99.8M294.21 98.6V99.8M294.84 98.6V99.8M295.39 98.6V99.8M295.87 98.6V99.8M296.3 98.6V101M299.13 98.6V99.8M300.78 98.6V99.8M301.96 98.6V99.8M302.87 98.6V99.8M303.61 98.6V99.8M304.24 98.6V99.8M304.79 98.6V99.8M305.27 98.6V99.8M305.7 98.6V101" stroke="#222" stroke-width="0.55" fill="none"/>
<text transform="translate(230.8,73.5) rotate(-90)" x="0" y="0" font-size="7.8" text-anchor="middle" font-weight="bold" textLength="16" lengthAdjust="spacingAndGlyphs" stroke="#222" stroke-width="0.2">SSC-A</text>
<text x="284.2" y="127.3" font-size="8.2" text-anchor="middle" font-weight="bold" textLength="21.5" lengthAdjust="spacingAndGlyphs" >7-AAD-A</text>
<line x1="309.8" y1="73.3" x2="316" y2="73.3" stroke="#222" stroke-width="0.9" />
<path d="M315.2 71.5 L319.2 73.3 L315.2 75.1 Z" fill="#222"/>
<g filter="url(#bl1)">
<ellipse cx="371.5" cy="80.2" rx="10.5" ry="4.3" fill="#5a86dc" opacity="0.75" transform="rotate(-24 371.5 80.2)"/>
<ellipse cx="372.3" cy="79.6" rx="6.8" ry="3.0" fill="#3aa0c0" transform="rotate(-24 372.3 79.6)"/>
<ellipse cx="372.8" cy="79.3" rx="4.2" ry="2.1" fill="#58bf50" transform="rotate(-24 372.8 79.3)"/>
<ellipse cx="373" cy="79.2" rx="1.8" ry="1.1" fill="#a4d23c" transform="rotate(-24 373 79.2)"/>
<circle cx="359.6" cy="85.4" r="0.55" fill="#5f8fe6" opacity="0.85"/>
<circle cx="364.6" cy="81.3" r="0.55" fill="#3a6fd6" opacity="0.85"/>
<circle cx="378.2" cy="71.9" r="0.55" fill="#86a6ee" opacity="0.85"/>
<circle cx="364.5" cy="82.1" r="0.55" fill="#3a6fd6" opacity="0.85"/>
<circle cx="378.9" cy="76.7" r="0.55" fill="#3a6fd6" opacity="0.85"/>
<circle cx="365.1" cy="85.9" r="0.55" fill="#86a6ee" opacity="0.85"/>
<circle cx="359.9" cy="81.0" r="0.55" fill="#86a6ee" opacity="0.85"/>
<circle cx="359.6" cy="79.7" r="0.55" fill="#3a6fd6" opacity="0.85"/>
<circle cx="380.7" cy="73.7" r="0.55" fill="#3a6fd6" opacity="0.85"/>
<circle cx="376.9" cy="80.7" r="0.55" fill="#3a6fd6" opacity="0.85"/>
<circle cx="366.2" cy="83.9" r="0.55" fill="#3a6fd6" opacity="0.85"/>
<circle cx="374.0" cy="82.9" r="0.55" fill="#3a6fd6" opacity="0.85"/>
<circle cx="364.7" cy="81.5" r="0.55" fill="#3a6fd6" opacity="0.85"/>
<circle cx="374.9" cy="82.2" r="0.55" fill="#3a6fd6" opacity="0.85"/>
<circle cx="363.1" cy="79.9" r="0.55" fill="#86a6ee" opacity="0.85"/>
<circle cx="379.2" cy="77.0" r="0.55" fill="#3a6fd6" opacity="0.85"/>
<circle cx="378.8" cy="75.3" r="0.55" fill="#3a6fd6" opacity="0.85"/>
<circle cx="373.7" cy="84.9" r="0.55" fill="#5f8fe6" opacity="0.85"/>
<circle cx="364.7" cy="80.7" r="0.55" fill="#3a6fd6" opacity="0.85"/>
<circle cx="363.8" cy="83.2" r="0.55" fill="#3a6fd6" opacity="0.85"/>
<circle cx="366.0" cy="80.6" r="0.55" fill="#3a6fd6" opacity="0.85"/>
<circle cx="378.9" cy="78.4" r="0.55" fill="#3a6fd6" opacity="0.85"/>
<circle cx="379.9" cy="76.3" r="0.55" fill="#3a6fd6" opacity="0.85"/>
<circle cx="365.1" cy="83.5" r="0.55" fill="#3a6fd6" opacity="0.85"/>
<circle cx="379.5" cy="72.9" r="0.55" fill="#86a6ee" opacity="0.85"/>
<circle cx="371.9" cy="76.9" r="0.55" fill="#3a6fd6" opacity="0.85"/>
<circle cx="372.2" cy="83.7" r="0.55" fill="#3a6fd6" opacity="0.85"/>
<circle cx="368.7" cy="75.1" r="0.55" fill="#3a6fd6" opacity="0.85"/>
<circle cx="366.9" cy="84.6" r="0.55" fill="#3a6fd6" opacity="0.85"/>
<circle cx="365.3" cy="86.5" r="0.55" fill="#3a6fd6" opacity="0.85"/>
<circle cx="381.4" cy="75.2" r="0.55" fill="#3a6fd6" opacity="0.85"/>
<circle cx="361.9" cy="85.4" r="0.55" fill="#3a6fd6" opacity="0.85"/>
<circle cx="377.4" cy="74.5" r="0.55" fill="#86a6ee" opacity="0.85"/>
<circle cx="379.7" cy="77.6" r="0.55" fill="#3a6fd6" opacity="0.85"/>
<circle cx="364.9" cy="80.1" r="0.55" fill="#3a6fd6" opacity="0.85"/>
<circle cx="373.9" cy="74.7" r="0.55" fill="#3a6fd6" opacity="0.85"/>
<circle cx="382.0" cy="77.6" r="0.55" fill="#3a6fd6" opacity="0.85"/>
<circle cx="381.9" cy="76.6" r="0.55" fill="#3a6fd6" opacity="0.85"/>
<circle cx="379.9" cy="78.8" r="0.55" fill="#3a6fd6" opacity="0.85"/>
<circle cx="366.6" cy="80.2" r="0.55" fill="#3a6fd6" opacity="0.85"/>
<circle cx="379.1" cy="80.3" r="0.55" fill="#3a6fd6" opacity="0.85"/>
<circle cx="367.9" cy="87.9" r="0.55" fill="#3a6fd6" opacity="0.85"/>
<circle cx="369.5" cy="76.4" r="0.55" fill="#5f8fe6" opacity="0.85"/>
<circle cx="363.7" cy="85.4" r="0.55" fill="#3a6fd6" opacity="0.85"/>
<circle cx="368.0" cy="85.1" r="0.55" fill="#3a6fd6" opacity="0.85"/>
<circle cx="369.9" cy="73.7" r="0.55" fill="#5f8fe6" opacity="0.85"/>
<circle cx="366.4" cy="77.8" r="0.55" fill="#86a6ee" opacity="0.85"/>
<circle cx="359.0" cy="82.1" r="0.55" fill="#3a6fd6" opacity="0.85"/>
<circle cx="373.0" cy="85.8" r="0.55" fill="#86a6ee" opacity="0.85"/>
<circle cx="374.4" cy="73.2" r="0.55" fill="#5f8fe6" opacity="0.85"/>
<circle cx="372.0" cy="76.0" r="0.55" fill="#3a6fd6" opacity="0.85"/>
<circle cx="371.9" cy="76.4" r="0.55" fill="#3a6fd6" opacity="0.85"/>
<circle cx="364.0" cy="86.9" r="0.55" fill="#5f8fe6" opacity="0.85"/>
<circle cx="365.4" cy="84.7" r="0.55" fill="#3a6fd6" opacity="0.85"/>
<circle cx="366.1" cy="84.1" r="0.55" fill="#3a6fd6" opacity="0.85"/>
<circle cx="381.1" cy="82.5" r="0.55" fill="#3a6fd6" opacity="0.85"/>
<circle cx="373.2" cy="82.4" r="0.55" fill="#3a6fd6" opacity="0.85"/>
<circle cx="362.5" cy="83.4" r="0.55" fill="#3a6fd6" opacity="0.85"/>
<circle cx="370.2" cy="77.0" r="0.55" fill="#3a6fd6" opacity="0.85"/>
<circle cx="378.8" cy="81.2" r="0.55" fill="#3a6fd6" opacity="0.85"/>
<circle cx="364.0" cy="84.5" r="0.55" fill="#3a6fd6" opacity="0.85"/>
<circle cx="368.9" cy="84.6" r="0.55" fill="#3a6fd6" opacity="0.85"/>
<circle cx="368.3" cy="78.7" r="0.55" fill="#3a6fd6" opacity="0.85"/>
<circle cx="372.2" cy="84.3" r="0.55" fill="#3a6fd6" opacity="0.85"/>
<circle cx="373.7" cy="76.0" r="0.55" fill="#3a6fd6" opacity="0.85"/>
<circle cx="366.5" cy="75.4" r="0.55" fill="#3a6fd6" opacity="0.85"/>
<circle cx="369.6" cy="83.9" r="0.55" fill="#3a6fd6" opacity="0.85"/>
<circle cx="379.3" cy="83.3" r="0.55" fill="#3a6fd6" opacity="0.85"/>
<circle cx="375.2" cy="76.6" r="0.55" fill="#3a6fd6" opacity="0.85"/>
<circle cx="382.0" cy="75.9" r="0.55" fill="#86a6ee" opacity="0.85"/>
<circle cx="368.2" cy="78.7" r="0.55" fill="#3a6fd6" opacity="0.85"/>
<circle cx="366.7" cy="80.2" r="0.55" fill="#3a6fd6" opacity="0.85"/>
<circle cx="377.1" cy="80.5" r="0.55" fill="#3a6fd6" opacity="0.85"/>
<circle cx="365.2" cy="85.4" r="0.55" fill="#3a6fd6" opacity="0.85"/>
<circle cx="362.9" cy="82.1" r="0.55" fill="#3a6fd6" opacity="0.85"/>
<circle cx="367.6" cy="76.6" r="0.55" fill="#3a6fd6" opacity="0.85"/>
<circle cx="366.5" cy="77.5" r="0.55" fill="#3a6fd6" opacity="0.85"/>
<circle cx="366.1" cy="77.3" r="0.55" fill="#5f8fe6" opacity="0.85"/>
<circle cx="371.7" cy="76.1" r="0.55" fill="#3a6fd6" opacity="0.85"/>
<circle cx="366.8" cy="83.6" r="0.55" fill="#3a6fd6" opacity="0.85"/>
<circle cx="364.0" cy="78.2" r="0.55" fill="#5f8fe6" opacity="0.85"/>
<circle cx="381.6" cy="76.0" r="0.55" fill="#5f8fe6" opacity="0.85"/>
<circle cx="378.2" cy="78.0" r="0.55" fill="#3a6fd6" opacity="0.85"/>
<circle cx="377.9" cy="81.3" r="0.55" fill="#5f8fe6" opacity="0.85"/>
<circle cx="365.0" cy="81.6" r="0.55" fill="#3a6fd6" opacity="0.85"/>
<circle cx="369.1" cy="78.2" r="0.55" fill="#3a6fd6" opacity="0.85"/>
<circle cx="363.7" cy="79.9" r="0.55" fill="#3a6fd6" opacity="0.85"/>
<circle cx="368.0" cy="85.4" r="0.55" fill="#3a6fd6" opacity="0.85"/>
<circle cx="356.8" cy="88.9" r="0.55" fill="#5f8fe6" opacity="0.85"/>
<circle cx="365.5" cy="85.6" r="0.55" fill="#3a6fd6" opacity="0.85"/>
<circle cx="384.4" cy="79.7" r="0.55" fill="#86a6ee" opacity="0.85"/>
<circle cx="383.0" cy="77.7" r="0.55" fill="#3a6fd6" opacity="0.85"/>
<circle cx="368.5" cy="75.3" r="0.55" fill="#3a6fd6" opacity="0.85"/>
<circle cx="387.7" cy="71.5" r="0.55" fill="#86a6ee" opacity="0.85"/>
<circle cx="365.0" cy="79.8" r="0.55" fill="#3a6fd6" opacity="0.85"/>
<circle cx="364.9" cy="78.9" r="0.55" fill="#86a6ee" opacity="0.85"/>
<circle cx="380.0" cy="76.5" r="0.55" fill="#3a6fd6" opacity="0.85"/>
<circle cx="370.6" cy="83.4" r="0.55" fill="#3a6fd6" opacity="0.85"/>
<circle cx="365.3" cy="84.6" r="0.55" fill="#3a6fd6" opacity="0.85"/>
<circle cx="380.0" cy="74.2" r="0.55" fill="#5f8fe6" opacity="0.85"/>
<circle cx="378.0" cy="79.0" r="0.55" fill="#3a6fd6" opacity="0.85"/>
<circle cx="367.9" cy="87.4" r="0.55" fill="#3a6fd6" opacity="0.85"/>
<circle cx="374.0" cy="75.9" r="0.55" fill="#3a6fd6" opacity="0.85"/>
<circle cx="378.5" cy="76.0" r="0.55" fill="#3a6fd6" opacity="0.85"/>
<circle cx="379.8" cy="81.2" r="0.55" fill="#3a6fd6" opacity="0.85"/>
<circle cx="378.8" cy="81.8" r="0.55" fill="#3a6fd6" opacity="0.85"/>
<circle cx="376.2" cy="76.2" r="0.55" fill="#3a6fd6" opacity="0.85"/>
<circle cx="381.3" cy="78.2" r="0.55" fill="#3a6fd6" opacity="0.85"/>
<circle cx="375.7" cy="76.1" r="0.55" fill="#3a6fd6" opacity="0.85"/>
<circle cx="376.3" cy="80.4" r="0.55" fill="#3a6fd6" opacity="0.85"/>
<circle cx="377.4" cy="78.6" r="0.55" fill="#3a6fd6" opacity="0.85"/>
<circle cx="376.2" cy="80.5" r="0.55" fill="#3a6fd6" opacity="0.85"/>
<circle cx="364.9" cy="83.2" r="0.55" fill="#3a6fd6" opacity="0.85"/>
<circle cx="373.8" cy="76.7" r="0.55" fill="#3a6fd6" opacity="0.85"/>
<circle cx="363.7" cy="82.2" r="0.55" fill="#3a6fd6" opacity="0.85"/>
<circle cx="361.0" cy="88.2" r="0.55" fill="#5f8fe6" opacity="0.85"/>
<circle cx="380.3" cy="77.5" r="0.55" fill="#3a6fd6" opacity="0.85"/>
<circle cx="381.1" cy="75.9" r="0.55" fill="#5f8fe6" opacity="0.85"/>
<circle cx="365.3" cy="82.7" r="0.55" fill="#3a6fd6" opacity="0.85"/>
<circle cx="368.7" cy="77.8" r="0.55" fill="#3a6fd6" opacity="0.85"/>
<circle cx="367.6" cy="86.4" r="0.55" fill="#86a6ee" opacity="0.85"/>
<circle cx="367.9" cy="85.6" r="0.55" fill="#3a6fd6" opacity="0.85"/>
<circle cx="361.5" cy="83.0" r="0.55" fill="#86a6ee" opacity="0.85"/>
<circle cx="368.6" cy="83.9" r="0.55" fill="#3a6fd6" opacity="0.85"/>
<circle cx="366.3" cy="89.1" r="0.55" fill="#3a6fd6" opacity="0.85"/>
<circle cx="375.9" cy="82.1" r="0.55" fill="#3a6fd6" opacity="0.85"/>
<circle cx="383.3" cy="80.0" r="0.55" fill="#5f8fe6" opacity="0.85"/>
<circle cx="367.6" cy="76.5" r="0.55" fill="#3a6fd6" opacity="0.85"/>
<circle cx="373.1" cy="76.8" r="0.55" fill="#3a6fd6" opacity="0.85"/>
<circle cx="364.9" cy="83.1" r="0.55" fill="#3a6fd6" opacity="0.85"/>
<circle cx="366.4" cy="78.9" r="0.55" fill="#3a6fd6" opacity="0.85"/>
<circle cx="379.1" cy="77.7" r="0.55" fill="#3a6fd6" opacity="0.85"/>
<circle cx="364.3" cy="78.9" r="0.55" fill="#86a6ee" opacity="0.85"/>
<circle cx="371.2" cy="74.6" r="0.55" fill="#3a6fd6" opacity="0.85"/>
<circle cx="382.4" cy="75.8" r="0.55" fill="#5f8fe6" opacity="0.85"/>
</g>
<line x1="367.6" y1="47.2" x2="367.6" y2="98.8" stroke="#666" stroke-width="0.75" />
<line x1="352.4" y1="83.5" x2="404.4" y2="83.5" stroke="#777" stroke-width="0.75" />
<text x="354.2" y="51.4" font-size="4.2" >Q1</text>
<text x="354.2" y="55.8" font-size="4.2" >10.2</text>
<text x="402.3" y="51.4" font-size="4.2" text-anchor="end" >Q2</text>
<text x="402.3" y="55.8" font-size="4.2" text-anchor="end" >29.8</text>
<text x="354.2" y="93.4" font-size="4.2" >Q4</text>
<text x="354.2" y="97.6" font-size="4.2" >3.45</text>
<text x="402.3" y="93.4" font-size="4.2" text-anchor="end" >Q3</text>
<text x="402.3" y="97.6" font-size="4.2" text-anchor="end" >5.98</text>
<rect x="352.4" y="47.2" width="52" height="51.6" fill="none" stroke="#1a1a1a" stroke-width="1.1"/>
<text x="346.4" y="94.5" font-size="6.4" text-anchor="end" >0</text>
<text x="346.8" y="81.3" font-size="6.4" text-anchor="end">10<tspan dy="-2.43" font-size="4.3">3</tspan></text>
<text x="346.8" y="67.5" font-size="6.4" text-anchor="end">10<tspan dy="-2.43" font-size="4.3">4</tspan></text>
<text x="346.8" y="54.2" font-size="6.4" text-anchor="end">10<tspan dy="-2.43" font-size="4.3">5</tspan></text>
<text transform="translate(361.8,106.4) rotate(-45)" x="0" y="0" font-size="6.4" text-anchor="end" >0</text>
<text transform="translate(372.4,107.2) rotate(-45)" x="0" y="0" font-size="6.4" text-anchor="end">10<tspan dy="-2.43" font-size="4.3">3</tspan></text>
<text transform="translate(385.8,107.2) rotate(-45)" x="0" y="0" font-size="6.4" text-anchor="end">10<tspan dy="-2.43" font-size="4.3">4</tspan></text>
<text transform="translate(399.2,107.2) rotate(-45)" x="0" y="0" font-size="6.4" text-anchor="end">10<tspan dy="-2.43" font-size="4.3">5</tspan></text>
<path d="M350 92.3H352.4M350 79.7H352.4M350 65.9H352.4M350 52.6H352.4M351.2 95.5H352.4M351.2 89.5H352.4M351.2 86.5H352.4M351.2 75.55H352.4M351.2 73.12H352.4M351.2 71.39H352.4M351.2 70.05H352.4M351.2 68.96H352.4M351.2 68.04H352.4M351.2 67.24H352.4M351.2 66.53H352.4M351.2 61.9H352.4M351.2 59.55H352.4M351.2 57.89H352.4M351.2 56.6H352.4M351.2 55.55H352.4M351.2 54.66H352.4M351.2 53.89H352.4M351.2 53.21H352.4M359 98.8V101.2M369.2 98.8V101.2M382.6 98.8V101.2M396 98.8V101.2M354.5 98.8V100M356 98.8V100M357.5 98.8V100M360.5 98.8V100M362 98.8V100M364 98.8V100M373.23 98.8V100M375.59 98.8V100M377.27 98.8V100M378.57 98.8V100M379.63 98.8V100M380.52 98.8V100M381.3 98.8V100M381.99 98.8V100M386.63 98.8V100M388.99 98.8V100M390.67 98.8V100M391.97 98.8V100M393.03 98.8V100M393.92 98.8V100M394.7 98.8V100M395.39 98.8V100" stroke="#222" stroke-width="0.55" fill="none"/>
<text transform="translate(330.9,73.5) rotate(-90)" x="0" y="0" font-size="8.4" text-anchor="middle" font-weight="bold" textLength="14.6" lengthAdjust="spacingAndGlyphs" stroke="#222" stroke-width="0.2">CD117</text>
<text x="378.3" y="127.3" font-size="8.2" text-anchor="middle" font-weight="bold" textLength="14.2" lengthAdjust="spacingAndGlyphs" stroke="#222" stroke-width="0.2">CD19</text>
<path d="M410.2 73 L424.5 63.1 M410.2 73 L424.5 83.3" stroke="#222" stroke-width="0.95" fill="none"/>
<path d="M426.2 62 L421.6 62.6 L424.3 66.3 Z M426.2 84.3 L421.6 83.7 L424.3 80 Z" fill="#222"/>
<g fill="none" stroke-linejoin="round">
<polyline points="448.5,68.4 448.8,68.4 449.0,68.4 449.3,68.4 449.5,68.3 449.8,68.3 450.1,68.2 450.3,68.0 450.6,67.8 450.8,67.5 451.1,67.4 451.3,67.4 451.6,67.1 451.8,66.5 452.1,66.0 452.4,65.6 452.6,64.7 452.9,63.4 453.1,62.8 453.4,62.6 453.6,61.8 453.9,60.3 454.1,58.6 454.4,57.0 454.6,55.5 454.9,54.2 455.2,52.5 455.4,51.0 455.7,49.6 455.9,46.8 456.2,44.5 456.4,43.4 456.7,41.5 456.9,38.6 457.2,36.4 457.4,35.2 457.7,33.7 458.0,31.7 458.2,29.3 458.5,27.5 458.7,26.1 459.0,25.4 459.2,25.3 459.5,23.3 459.7,22.5 460.0,24.3 460.3,25.6 460.5,26.2 460.8,26.7 461.0,27.7 461.3,30.3 461.5,33.3 461.8,35.1 462.0,36.9 462.3,39.4 462.6,41.8 462.8,45.2 463.1,48.0 463.3,50.1 463.6,52.4 463.8,54.5 464.1,56.1 464.3,57.9 464.6,60.3 464.8,62.1 465.1,62.7 465.4,63.0 465.6,63.7 465.9,64.6 466.1,65.7 466.4,66.5 466.6,66.9 466.9,67.4 467.1,67.9 467.4,68.1 467.6,68.2 467.9,68.4 468.2,68.4 468.4,68.4 468.7,68.4 468.9,68.4" stroke="#55a8d6" stroke-width="0.85"/>
<polyline points="434.5,63.8 434.8,63.0 435.0,62.8 435.3,62.6 435.5,61.9 435.8,61.7 436.0,61.8 436.3,61.5 436.5,60.9 436.8,60.4 437.1,60.5 437.3,60.5 437.6,60.2 437.8,59.5 438.1,58.8 438.3,59.0 438.6,59.6 438.8,59.4 439.1,58.9 439.3,58.5 439.6,57.8 439.9,57.4 440.1,57.9 440.4,58.2 440.6,57.9 440.9,57.4 441.1,57.1 441.4,57.5 441.6,58.0 441.9,58.0 442.1,57.0 442.4,56.7 442.7,56.8 442.9,55.9 443.2,55.3 443.4,54.8 443.7,54.0 443.9,54.1 444.2,54.1 444.4,53.2 444.7,52.3 445.0,51.9 445.2,51.9 445.5,51.9 445.7,51.6 446.0,50.7 446.2,50.0 446.5,49.8 446.7,48.9 447.0,47.9 447.2,47.7 447.5,47.1 447.8,45.9 448.0,45.0 448.3,44.9 448.5,45.4 448.8,44.6 449.0,42.6 449.3,40.8 449.5,39.4 449.8,38.5 450.1,38.0 450.3,36.7 450.6,34.9 450.8,34.3 451.1,32.9 451.3,30.4 451.6,29.2 451.8,29.1 452.1,28.0 452.4,26.9 452.6,26.8 452.9,25.1 453.1,23.4 453.4,23.6 453.6,24.4 453.9,25.7 454.1,27.8 454.4,29.0 454.6,28.8 454.9,29.8 455.2,32.1 455.4,32.9 455.7,34.0 455.9,35.6 456.2,37.3 456.4,39.7 456.7,41.4 456.9,42.1 457.2,43.1 457.4,45.6 457.7,48.6 458.0,50.9 458.2,53.3 458.5,55.7 458.7,56.5 459.0,57.9 459.2,60.1 459.5,61.3 459.7,62.2 460.0,63.5 460.3,64.3 460.5,64.6 460.8,65.2 461.0,66.1 461.3,67.0 461.5,67.3 461.8,67.1 462.0,67.3 462.3,67.6 462.6,67.5 462.8,67.7 463.1,68.1 463.3,68.3 463.6,68.4 463.8,68.4 464.1,68.4 464.3,68.4 464.6,68.4 464.8,68.4" stroke="#f2a93a" stroke-width="0.85"/>
<polyline points="434.5,63.1 434.8,63.1 435.0,62.6 435.3,62.3 435.5,62.5 435.8,62.4 436.0,62.2 436.3,62.1 436.5,62.1 436.8,61.9 437.1,62.1 437.3,62.7 437.6,62.1 437.8,60.6 438.1,60.5 438.3,60.6 438.6,60.5 438.8,60.4 439.1,59.9 439.3,59.5 439.6,59.3 439.9,59.3 440.1,59.0 440.4,59.0 440.6,59.3 440.9,59.0 441.1,57.6 441.4,56.8 441.6,56.9 441.9,57.0 442.1,57.3 442.4,57.4 442.7,56.7 442.9,56.2 443.2,56.0 443.4,55.1 443.7,54.2 443.9,54.4 444.2,54.6 444.4,54.2 444.7,53.8 445.0,53.3 445.2,53.2 445.5,52.9 445.7,52.1 446.0,52.2 446.2,52.0 446.5,50.8 446.7,49.6 447.0,49.1 447.2,49.1 447.5,48.7 447.8,47.2 448.0,45.6 448.3,44.9 448.5,45.2 448.8,45.1 449.0,43.9 449.3,42.5 449.5,41.4 449.8,40.5 450.1,39.2 450.3,37.3 450.6,35.9 450.8,35.7 451.1,35.2 451.3,33.0 451.6,30.8 451.8,29.4 452.1,29.4 452.4,29.8 452.6,28.9 452.9,27.4 453.1,25.5 453.4,23.8 453.6,22.8 453.9,24.4 454.1,27.1 454.4,26.9 454.6,25.8 454.9,26.8 455.2,28.0 455.4,28.6 455.7,29.9 455.9,31.4 456.2,33.4 456.4,35.5 456.7,37.2 456.9,39.6 457.2,41.6 457.4,43.3 457.7,45.7 458.0,47.2 458.2,48.7 458.5,50.9 458.7,52.9 459.0,55.4 459.2,57.5 459.5,58.8 459.7,60.2 460.0,61.5 460.3,62.3 460.5,63.1 460.8,63.9 461.0,64.7 461.3,65.2 461.5,65.5 461.8,65.9 462.0,66.7 462.3,67.2 462.6,67.3 462.8,67.4 463.1,67.5 463.3,67.8 463.6,68.2 463.8,68.3 464.1,68.3 464.3,68.4 464.6,68.4 464.8,68.4" stroke="#4aa85a" stroke-width="0.85"/>
<polyline points="434.5,68.1 434.8,68.0 435.0,68.0 435.3,68.0 435.5,67.9 435.8,67.8 436.0,67.6 436.3,67.3 436.5,67.3 436.8,67.3 437.1,67.2 437.3,67.2 437.6,67.5 437.8,67.6 438.1,67.4 438.3,67.0 438.6,66.4 438.8,66.6 439.1,66.9 439.3,66.6 439.6,66.5 439.9,66.3 440.1,65.8 440.4,65.5 440.6,65.7 440.9,65.3 441.1,64.8 441.4,64.6 441.6,64.3 441.9,63.9 442.1,63.9 442.4,64.1 442.7,64.2 442.9,64.0 443.2,64.1 443.4,63.8 443.7,62.6 443.9,62.0 444.2,61.7 444.4,61.5 444.7,61.2 445.0,60.7 445.2,60.1 445.5,59.4 445.7,59.0 446.0,58.6 446.2,58.0 446.5,57.4 446.7,56.1 447.0,54.9 447.2,54.4 447.5,53.6 447.8,52.9 448.0,51.8 448.3,49.8 448.5,48.3 448.8,47.1 449.0,46.5 449.3,45.9 449.5,44.2 449.8,42.3 450.1,40.2 450.3,38.9 450.6,38.2 450.8,37.5 451.1,37.2 451.3,36.1 451.6,33.2 451.8,31.1 452.1,30.3 452.4,29.1 452.6,28.3 452.9,27.6 453.1,26.1 453.4,24.9 453.6,24.7 453.9,24.3 454.1,24.1 454.4,24.1 454.6,24.8 454.9,26.0 455.2,26.6 455.4,28.5 455.7,29.2 455.9,28.2 456.2,29.1 456.4,31.5 456.7,33.3 456.9,34.3 457.2,35.8 457.4,37.5 457.7,39.7 458.0,42.8 458.2,45.1 458.5,47.0 458.7,48.7 459.0,50.5 459.2,51.8 459.5,53.1 459.7,54.6 460.0,55.8 460.3,57.5 460.5,59.5 460.8,61.1 461.0,62.1 461.3,63.2 461.5,64.0 461.8,64.6 462.0,65.2 462.3,65.6 462.6,66.1 462.8,66.5 463.1,66.7 463.3,66.9 463.6,67.2 463.8,67.6 464.1,67.9 464.3,68.1 464.6,68.0 464.8,68.1 465.1,68.2 465.4,68.4 465.6,68.4 465.9,68.4 466.1,68.4 466.4,68.4 466.6,68.4 466.9,68.4" stroke="#27365e" stroke-width="0.85"/>
<polyline points="434.5,67.4 434.8,67.3 435.0,67.1 435.3,66.4 435.5,65.6 435.8,65.1 436.0,64.1 436.3,62.6 436.5,61.4 436.8,60.4 437.1,58.6 437.3,56.4 437.6,54.1 437.8,51.5 438.1,49.5 438.3,47.5 438.6,44.6 438.8,41.9 439.1,38.9 439.3,34.8 439.6,31.3 439.9,28.9 440.1,27.1 440.4,25.0 440.6,23.5 440.9,24.4 441.1,25.7 441.4,24.8 441.6,23.7 441.9,24.8 442.1,27.0 442.4,27.4 442.7,27.7 442.9,30.0 443.2,31.9 443.4,32.2 443.7,32.4 443.9,34.2 444.2,36.8 444.4,38.8 444.7,40.0 445.0,41.1 445.2,43.7 445.5,46.3 445.7,48.1 446.0,50.2 446.2,51.4 446.5,52.2 446.7,54.0 447.0,56.3 447.2,58.0 447.5,58.7 447.8,59.5 448.0,60.7 448.3,61.8 448.5,62.7 448.8,63.5 449.0,64.4 449.3,65.0 449.5,65.6 449.8,66.3 450.1,66.5 450.3,66.7 450.6,67.0 450.8,67.3 451.1,67.6 451.3,67.8 451.6,68.1 451.8,68.3 452.1,68.2 452.4,68.1 452.6,68.3 452.9,68.4 453.1,68.4 453.4,68.4 453.6,68.4" stroke="#c4325c" stroke-width="0.85"/>
</g>
<rect x="434.5" y="18.3" width="51" height="50.4" fill="none" stroke="#1a1a1a" stroke-width="1.05"/>
<path d="M431.5 68.7H434.5M433.1 66.77H434.5M433.1 64.85H434.5M433.1 62.92H434.5M433.1 60.99H434.5M431.5 59.06H434.5M433.1 57.14H434.5M433.1 55.21H434.5M433.1 53.28H434.5M433.1 51.35H434.5M431.5 49.43H434.5M433.1 47.5H434.5M433.1 45.57H434.5M433.1 43.65H434.5M433.1 41.72H434.5M431.5 39.79H434.5M433.1 37.86H434.5M433.1 35.94H434.5M433.1 34.01H434.5M433.1 32.08H434.5M431.5 30.15H434.5M433.1 28.23H434.5M433.1 26.3H434.5M433.1 24.37H434.5M433.1 22.44H434.5M431.5 20.52H434.5M441.3 68.7V71.5M454.05 68.7V70.9M467.14 68.7V70.9M479.89 68.7V70.9M439 68.7V70.3M439.69 68.7V71.1M440.37 68.7V71.1M440.88 68.7V71.1M441.81 68.7V71.1M442.4 68.7V71.1M443.08 68.7V70.3M447.68 68.7V70.3M457.94 68.7V69.8M460.21 68.7V69.8M461.83 68.7V69.8M463.08 68.7V69.8M464.1 68.7V69.8M464.97 68.7V69.8M465.72 68.7V69.8M466.38 68.7V69.8M471.03 68.7V69.8M473.3 68.7V69.8M474.92 68.7V69.8M476.17 68.7V69.8M477.19 68.7V69.8M478.06 68.7V69.8M478.81 68.7V69.8M479.47 68.7V69.8" stroke="#222" stroke-width="0.7" fill="none"/>
<g fill="none" stroke-linejoin="round">
<polyline points="446.2,126.8 446.5,126.8 446.7,126.8 447.0,126.8 447.2,126.8 447.5,126.7 447.8,126.5 448.0,126.2 448.3,125.9 448.5,125.4 448.8,124.8 449.0,124.6 449.3,124.6 449.5,124.4 449.8,124.0 450.1,122.9 450.3,121.3 450.6,119.9 450.8,119.0 451.1,118.5 451.3,117.2 451.6,115.3 451.8,113.9 452.1,112.2 452.4,109.6 452.6,108.4 452.9,107.9 453.1,104.9 453.4,100.6 453.6,98.6 453.9,97.3 454.1,94.0 454.4,91.0 454.6,89.2 454.9,88.3 455.2,87.5 455.4,86.4 455.7,84.9 455.9,83.3 456.2,83.4 456.4,84.0 456.7,83.2 456.9,82.3 457.2,83.2 457.4,84.6 457.7,86.5 458.0,89.6 458.2,91.8 458.5,93.9 458.7,97.3 459.0,101.0 459.2,104.9 459.5,108.0 459.7,110.6 460.0,113.5 460.3,116.1 460.5,118.3 460.8,120.3 461.0,122.3 461.3,123.9 461.5,124.5 461.8,124.6 462.0,125.3 462.3,125.8 462.6,126.1 462.8,126.6 463.1,126.8" stroke="#55a8d6" stroke-width="0.85"/>
<polyline points="438.6,126.8 438.8,126.8 439.1,126.8 439.3,126.8 439.6,126.8 439.9,126.6 440.1,126.4 440.4,126.3 440.6,126.3 440.9,126.3 441.1,126.2 441.4,125.8 441.6,125.6 441.9,125.5 442.1,125.2 442.4,124.9 442.7,124.5 442.9,124.1 443.2,123.7 443.4,123.1 443.7,122.2 443.9,121.5 444.2,121.0 444.4,120.3 444.7,119.7 445.0,119.1 445.2,117.7 445.5,116.2 445.7,115.3 446.0,114.1 446.2,112.5 446.5,111.7 446.7,110.3 447.0,109.3 447.2,108.7 447.5,106.8 447.8,104.9 448.0,103.1 448.3,100.7 448.5,99.0 448.8,96.9 449.0,94.9 449.3,94.7 449.5,93.9 449.8,91.9 450.1,91.4 450.3,91.2 450.6,88.4 450.8,85.9 451.1,85.2 451.3,83.7 451.6,82.8 451.8,82.9 452.1,82.7 452.4,82.6 452.6,83.9 452.9,85.4 453.1,86.1 453.4,87.2 453.6,87.1 453.9,87.7 454.1,90.6 454.4,93.2 454.6,95.3 454.9,98.0 455.2,100.8 455.4,103.8 455.7,106.5 455.9,108.8 456.2,111.0 456.4,113.1 456.7,115.1 456.9,116.9 457.2,118.9 457.4,120.7 457.7,122.1 458.0,122.9 458.2,123.5 458.5,123.9 458.7,124.5 459.0,125.3 459.2,125.8 459.5,126.2 459.7,126.4 460.0,126.5 460.3,126.6 460.5,126.6 460.8,126.8 461.0,126.8 461.3,126.8" stroke="#f2a93a" stroke-width="0.85"/>
<polyline points="438.1,126.8 438.3,126.8 438.6,126.8 438.8,126.8 439.1,126.8 439.3,126.7 439.6,126.8 439.9,126.8 440.1,126.6 440.4,126.4 440.6,126.4 440.9,126.3 441.1,125.9 441.4,125.6 441.6,125.5 441.9,125.6 442.1,125.1 442.4,124.6 442.7,124.2 442.9,123.6 443.2,123.2 443.4,122.6 443.7,122.0 443.9,121.3 444.2,120.5 444.4,119.7 444.7,118.7 445.0,118.1 445.2,117.6 445.5,116.7 445.7,115.2 446.0,114.1 446.2,113.7 446.5,112.6 446.7,109.9 447.0,107.3 447.2,105.9 447.5,104.8 447.8,102.7 448.0,100.9 448.3,99.7 448.5,96.7 448.8,94.4 449.0,93.6 449.3,92.3 449.5,91.3 449.8,91.7 450.1,90.8 450.3,88.1 450.6,87.0 450.8,86.9 451.1,85.8 451.3,83.7 451.6,81.8 451.8,80.8 452.1,81.2 452.4,81.1 452.6,81.2 452.9,82.8 453.1,83.4 453.4,83.7 453.6,84.7 453.9,86.7 454.1,90.1 454.4,92.8 454.6,94.7 454.9,97.3 455.2,100.2 455.4,102.5 455.7,104.8 455.9,108.1 456.2,110.9 456.4,112.4 456.7,114.1 456.9,116.6 457.2,118.4 457.4,119.8 457.7,121.4 458.0,122.5 458.2,123.4 458.5,124.5 458.7,124.9 459.0,124.9 459.2,125.3 459.5,125.8 459.7,126.1 460.0,126.3 460.3,126.5 460.5,126.7 460.8,126.7 461.0,126.7 461.3,126.8 461.5,126.8" stroke="#4aa85a" stroke-width="0.85"/>
<polyline points="436.8,126.8 437.1,126.8 437.3,126.8 437.6,126.7 437.8,126.5 438.1,126.3 438.3,126.1 438.6,126.1 438.8,126.0 439.1,125.8 439.3,125.8 439.6,126.1 439.9,125.7 440.1,125.1 440.4,124.7 440.6,124.1 440.9,123.8 441.1,123.5 441.4,122.9 441.6,122.4 441.9,121.7 442.1,120.9 442.4,120.2 442.7,119.9 442.9,119.4 443.2,118.5 443.4,118.0 443.7,117.1 443.9,115.2 444.2,113.7 444.4,113.6 444.7,113.3 445.0,112.0 445.2,110.5 445.5,108.2 445.7,106.5 446.0,105.4 446.2,104.0 446.5,103.4 446.7,102.6 447.0,100.0 447.2,98.4 447.5,98.4 447.8,97.1 448.0,95.7 448.3,95.2 448.5,94.5 448.8,92.4 449.0,90.1 449.3,90.1 449.5,90.1 449.8,88.4 450.1,87.3 450.3,87.0 450.6,86.7 450.8,87.0 451.1,87.2 451.3,85.5 451.6,84.6 451.8,86.7 452.1,87.4 452.4,87.3 452.6,88.8 452.9,90.2 453.1,92.3 453.4,95.4 453.6,97.7 453.9,99.3 454.1,101.3 454.4,103.6 454.6,106.1 454.9,109.0 455.2,110.7 455.4,111.6 455.7,113.4 455.9,115.8 456.2,118.0 456.4,119.5 456.7,120.7 456.9,121.7 457.2,122.2 457.4,123.0 457.7,123.7 458.0,124.3 458.2,124.8 458.5,125.2 458.7,125.7 459.0,126.2 459.2,126.4 459.5,126.6 459.7,126.8 460.0,126.8 460.3,126.8 460.5,126.8" stroke="#27365e" stroke-width="0.85"/>
<polyline points="434.5,125.4 434.8,125.0 435.0,124.5 435.3,124.0 435.5,123.2 435.8,122.4 436.0,121.6 436.3,120.8 436.5,119.2 436.8,117.1 437.1,116.4 437.3,115.5 437.6,113.5 437.8,112.0 438.1,109.6 438.3,106.7 438.6,105.1 438.8,103.4 439.1,100.6 439.3,97.2 439.6,94.7 439.9,92.5 440.1,89.6 440.4,87.4 440.6,85.4 440.9,82.1 441.1,81.1 441.4,81.4 441.6,80.3 441.9,80.0 442.1,81.1 442.4,82.2 442.7,82.6 442.9,82.8 443.2,83.2 443.4,83.4 443.7,84.9 443.9,87.8 444.2,89.6 444.4,89.8 444.7,91.1 445.0,94.5 445.2,97.5 445.5,99.5 445.7,101.4 446.0,103.0 446.2,104.9 446.5,106.5 446.7,108.3 447.0,110.4 447.2,111.0 447.5,111.6 447.8,114.1 448.0,115.9 448.3,116.2 448.5,117.3 448.8,119.0 449.0,120.1 449.3,121.0 449.5,121.8 449.8,122.1 450.1,122.6 450.3,123.6 450.6,124.1 450.8,124.3 451.1,124.8 451.3,125.4 451.6,125.9 451.8,126.1 452.1,126.2 452.4,126.3 452.6,126.4 452.9,126.5 453.1,126.6 453.4,126.7 453.6,126.7 453.9,126.7 454.1,126.8 454.4,126.8" stroke="#c4325c" stroke-width="0.85"/>
</g>
<rect x="434.5" y="76.2" width="51" height="50.9" fill="none" stroke="#1a1a1a" stroke-width="1.05"/>
<path d="M431.5 127.1H434.5M433.1 125.15H434.5M433.1 123.21H434.5M433.1 121.26H434.5M433.1 119.31H434.5M431.5 117.37H434.5M433.1 115.42H434.5M433.1 113.48H434.5M433.1 111.53H434.5M433.1 109.58H434.5M431.5 107.64H434.5M433.1 105.69H434.5M433.1 103.74H434.5M433.1 101.8H434.5M433.1 99.85H434.5M431.5 97.9H434.5M433.1 95.96H434.5M433.1 94.01H434.5M433.1 92.06H434.5M433.1 90.12H434.5M431.5 88.17H434.5M433.1 86.23H434.5M433.1 84.28H434.5M433.1 82.33H434.5M433.1 80.39H434.5M431.5 78.44H434.5M441.3 127.1V129.9M454.05 127.1V129.3M467.14 127.1V129.3M479.89 127.1V129.3M439 127.1V128.7M439.69 127.1V129.5M440.37 127.1V129.5M440.88 127.1V129.5M441.81 127.1V129.5M442.4 127.1V129.5M443.08 127.1V128.7M447.68 127.1V128.7M457.94 127.1V128.2M460.21 127.1V128.2M461.83 127.1V128.2M463.08 127.1V128.2M464.1 127.1V128.2M464.97 127.1V128.2M465.72 127.1V128.2M466.38 127.1V128.2M471.03 127.1V128.2M473.3 127.1V128.2M474.92 127.1V128.2M476.17 127.1V128.2M477.19 127.1V128.2M478.06 127.1V128.2M478.81 127.1V128.2M479.47 127.1V128.2" stroke="#222" stroke-width="0.7" fill="none"/>
<text x="489.3" y="48" font-size="6.2" textLength="23.3" lengthAdjust="spacingAndGlyphs" >pPLCG2</text>
<text x="489.3" y="104.2" font-size="6.2" textLength="14.8" lengthAdjust="spacingAndGlyphs" >pBTK</text>
<text x="6.9" y="148.8" font-size="11.2" font-weight="bold" fill="#111" stroke="#111" stroke-width="0.25">B</text>
<g fill="none" stroke-linejoin="round">
<polyline points="66.1,232.4 66.4,232.4 66.7,232.4 67.0,232.4 67.3,232.4 67.6,232.4 67.9,232.3 68.2,232.2 68.5,231.9 68.8,231.4 69.1,230.9 69.4,230.4 69.7,230.0 70.0,229.6 70.3,229.3 70.6,228.9 70.9,227.9 71.2,227.0 71.5,226.4 71.8,225.3 72.1,223.5 72.4,222.7 72.7,222.3 73.0,220.6 73.3,218.6 73.6,216.4 73.9,213.4 74.2,211.4 74.5,210.1 74.8,208.0 75.1,205.5 75.4,203.1 75.7,200.7 76.0,198.1 76.3,195.4 76.6,193.8 76.9,192.0 77.2,188.9 77.5,186.5 77.8,184.5 78.1,183.2 78.4,181.9 78.7,180.6 79.0,179.9 79.3,179.8 79.6,181.5 79.9,181.8 80.2,181.3 80.5,182.8 80.8,184.5 81.1,187.7 81.4,190.5 81.7,190.9 82.0,193.0 82.3,198.7 82.6,203.5 82.9,205.2 83.2,207.2 83.5,210.3 83.8,212.3 84.1,214.3 84.4,217.1 84.7,220.6 85.0,223.5 85.3,224.6 85.6,225.4 85.9,226.3 86.2,227.2 86.5,228.6 86.8,229.6 87.1,230.3 87.4,230.8 87.7,230.9 88.0,231.2 88.3,231.5 88.6,231.7 88.9,231.8 89.2,232.1 89.5,232.3 89.8,232.4 90.1,232.4 90.4,232.4" stroke="#55a8d6" stroke-width="0.85"/>
<polyline points="49.6,225.5 49.9,225.1 50.2,225.8 50.5,225.5 50.8,224.7 51.1,224.4 51.4,223.8 51.7,223.7 52.0,224.0 52.3,224.2 52.6,223.9 52.9,223.1 53.2,222.7 53.5,222.9 53.8,222.6 54.1,221.8 54.4,221.5 54.7,220.6 55.0,219.6 55.3,219.4 55.6,219.5 55.9,219.6 56.2,220.1 56.5,220.9 56.8,220.3 57.1,219.2 57.4,219.3 57.7,219.3 58.0,218.8 58.3,217.7 58.6,216.5 58.9,216.7 59.2,217.5 59.5,217.8 59.8,217.1 60.1,216.9 60.4,216.2 60.7,215.1 61.0,215.1 61.3,215.1 61.6,214.4 61.9,213.4 62.2,213.3 62.5,213.9 62.8,213.4 63.1,212.8 63.4,212.2 63.7,210.4 64.0,209.1 64.3,208.6 64.6,207.9 64.9,206.7 65.2,205.4 65.5,204.5 65.8,203.9 66.1,203.7 66.4,202.8 66.7,200.8 67.0,199.2 67.3,198.0 67.6,197.2 67.9,195.8 68.2,194.1 68.5,193.2 68.8,191.9 69.1,190.5 69.4,189.3 69.7,187.5 70.0,184.2 70.3,181.8 70.6,181.6 70.9,181.2 71.2,180.8 71.5,180.5 71.8,179.0 72.1,178.1 72.4,180.2 72.7,181.6 73.0,181.6 73.3,183.4 73.6,185.8 73.9,187.4 74.2,188.2 74.5,189.5 74.8,192.1 75.1,195.9 75.4,199.2 75.7,200.7 76.0,202.9 76.3,206.4 76.6,209.1 76.9,210.8 77.2,212.6 77.5,214.4 77.8,216.1 78.1,218.5 78.4,221.0 78.7,222.2 79.0,223.1 79.3,224.7 79.6,225.8 79.9,226.5 80.2,227.3 80.5,227.9 80.8,228.6 81.1,229.4 81.4,229.9 81.7,230.6 82.0,231.3 82.3,231.4 82.6,231.4 82.9,231.5 83.2,231.9 83.5,232.1 83.8,232.2 84.1,232.4 84.4,232.4" stroke="#f2a93a" stroke-width="0.85"/>
<polyline points="49.6,226.9 49.9,226.2 50.2,225.9 50.5,226.5 50.8,226.3 51.1,225.3 51.4,224.6 51.7,224.1 52.0,223.8 52.3,223.9 52.6,223.8 52.9,223.6 53.2,223.1 53.5,222.7 53.8,222.9 54.1,222.5 54.4,221.6 54.7,221.5 55.0,221.9 55.3,222.0 55.6,222.3 55.9,221.9 56.2,221.1 56.5,220.9 56.8,220.4 57.1,219.7 57.4,219.7 57.7,219.2 58.0,219.0 58.3,219.1 58.6,218.6 58.9,217.7 59.2,217.5 59.5,217.5 59.8,217.1 60.1,217.1 60.4,217.1 60.7,216.1 61.0,215.7 61.3,215.9 61.6,216.1 61.9,215.7 62.2,214.6 62.5,214.1 62.8,213.7 63.1,213.1 63.4,212.2 63.7,210.6 64.0,209.7 64.3,209.1 64.6,207.9 64.9,207.3 65.2,207.1 65.5,206.9 65.8,206.7 66.1,206.3 66.4,204.4 66.7,201.8 67.0,200.3 67.3,198.7 67.6,198.1 67.9,197.2 68.2,195.8 68.5,196.1 68.8,195.0 69.1,192.4 69.4,190.2 69.7,188.2 70.0,185.4 70.3,183.0 70.6,182.8 70.9,183.8 71.2,184.5 71.5,182.9 71.8,179.8 72.1,179.0 72.4,179.8 72.7,180.5 73.0,180.6 73.3,181.1 73.6,181.8 73.9,181.7 74.2,183.3 74.5,187.2 74.8,190.6 75.1,192.4 75.4,194.3 75.7,197.3 76.0,199.0 76.3,201.0 76.6,204.3 76.9,206.3 77.2,208.1 77.5,210.6 77.8,212.8 78.1,214.8 78.4,216.5 78.7,218.0 79.0,220.8 79.3,223.4 79.6,224.0 79.9,224.3 80.2,225.9 80.5,227.7 80.8,228.5 81.1,228.7 81.4,229.0 81.7,229.9 82.0,230.4 82.3,230.6 82.6,231.0 82.9,231.4 83.2,231.6 83.5,231.8 83.8,232.1 84.1,232.3 84.4,232.4 84.7,232.4 85.0,232.4 85.3,232.4 85.6,232.4" stroke="#4aa85a" stroke-width="0.85"/>
<polyline points="49.6,232.0 49.9,232.1 50.2,232.2 50.5,232.0 50.8,231.9 51.1,231.7 51.4,231.6 51.7,231.6 52.0,231.6 52.3,231.5 52.6,231.4 52.9,231.2 53.2,231.0 53.5,230.9 53.8,230.8 54.1,230.6 54.4,230.2 54.7,230.1 55.0,229.8 55.3,229.6 55.6,229.7 55.9,229.5 56.2,228.9 56.5,228.4 56.8,228.5 57.1,228.6 57.4,228.6 57.7,228.4 58.0,227.9 58.3,227.3 58.6,227.1 58.9,227.1 59.2,227.2 59.5,226.9 59.8,226.2 60.1,225.8 60.4,225.6 60.7,225.4 61.0,225.1 61.3,224.7 61.6,223.7 61.9,222.3 62.2,221.3 62.5,220.5 62.8,219.5 63.1,219.0 63.4,218.7 63.7,219.1 64.0,219.0 64.3,216.7 64.6,214.7 64.9,214.7 65.2,214.3 65.5,213.1 65.8,211.6 66.1,209.9 66.4,208.7 66.7,206.7 67.0,204.9 67.3,205.1 67.6,204.2 67.9,200.9 68.2,198.9 68.5,198.0 68.8,196.5 69.1,194.7 69.4,193.2 69.7,191.5 70.0,189.3 70.3,187.6 70.6,184.9 70.9,183.3 71.2,184.4 71.5,184.8 71.8,183.4 72.1,182.6 72.4,182.9 72.7,183.1 73.0,183.7 73.3,184.0 73.6,182.3 73.9,180.8 74.2,181.6 74.5,183.9 74.8,185.6 75.1,186.7 75.4,188.9 75.7,190.7 76.0,192.0 76.3,194.5 76.6,197.5 76.9,199.9 77.2,201.7 77.5,204.2 77.8,207.2 78.1,209.0 78.4,211.2 78.7,214.0 79.0,215.7 79.3,217.1 79.6,218.4 79.9,219.9 80.2,222.0 80.5,223.5 80.8,224.8 81.1,226.4 81.4,227.4 81.7,227.7 82.0,228.0 82.3,228.8 82.6,230.2 82.9,230.8 83.2,230.9 83.5,231.2 83.8,231.5 84.1,231.7 84.4,232.0 84.7,232.1 85.0,232.3 85.3,232.3 85.6,232.3 85.9,232.4 86.2,232.3 86.5,232.3 86.8,232.4 87.1,232.4" stroke="#27365e" stroke-width="0.85"/>
<polyline points="49.6,230.9 49.9,230.6 50.2,230.3 50.5,230.2 50.8,229.3 51.1,228.1 51.4,227.1 51.7,225.9 52.0,224.5 52.3,223.0 52.6,221.1 52.9,218.7 53.2,216.1 53.5,213.9 53.8,211.3 54.1,207.1 54.4,203.1 54.7,201.5 55.0,198.5 55.3,192.9 55.6,189.2 55.9,186.9 56.2,184.6 56.5,184.1 56.8,183.6 57.1,181.3 57.4,180.5 57.7,181.0 58.0,180.3 58.3,179.8 58.6,180.1 58.9,181.3 59.2,183.0 59.5,184.5 59.8,186.2 60.1,189.1 60.4,191.0 60.7,191.3 61.0,192.5 61.3,194.9 61.6,198.1 61.9,201.8 62.2,204.5 62.5,205.8 62.8,207.5 63.1,209.8 63.4,211.8 63.7,213.7 64.0,216.1 64.3,218.5 64.6,219.7 64.9,220.5 65.2,221.7 65.5,222.7 65.8,224.0 66.1,226.2 66.4,227.5 66.7,227.8 67.0,228.3 67.3,228.9 67.6,229.6 67.9,230.0 68.2,230.0 68.5,230.1 68.8,230.6 69.1,231.5 69.4,231.9 69.7,232.0 70.0,232.1 70.3,232.2 70.6,232.3 70.9,232.2 71.2,232.3 71.5,232.4 71.8,232.4" stroke="#c4325c" stroke-width="0.85"/>
</g>
<rect x="49.6" y="173.6" width="60" height="59.1" fill="none" stroke="#1a1a1a" stroke-width="1.05"/>
<path d="M46.6 232.7H49.6M48.2 230.44H49.6M48.2 228.18H49.6M48.2 225.92H49.6M48.2 223.66H49.6M46.6 221.4H49.6M48.2 219.14H49.6M48.2 216.88H49.6M48.2 214.62H49.6M48.2 212.36H49.6M46.6 210.1H49.6M48.2 207.84H49.6M48.2 205.58H49.6M48.2 203.32H49.6M48.2 201.06H49.6M46.6 198.8H49.6M48.2 196.54H49.6M48.2 194.28H49.6M48.2 192.02H49.6M48.2 189.76H49.6M46.6 187.5H49.6M48.2 185.24H49.6M48.2 182.98H49.6M48.2 180.72H49.6M48.2 178.46H49.6M46.6 176.2H49.6M57.6 232.7V235.5M72.6 232.7V234.9M88 232.7V234.9M103 232.7V234.9M54.9 232.7V234.3M55.7 232.7V235.1M56.5 232.7V235.1M57.1 232.7V235.1M58.2 232.7V235.1M58.9 232.7V235.1M59.7 232.7V234.3M65.1 232.7V234.3M77.18 232.7V233.8M79.85 232.7V233.8M81.75 232.7V233.8M83.22 232.7V233.8M84.43 232.7V233.8M85.45 232.7V233.8M86.33 232.7V233.8M87.1 232.7V233.8M92.58 232.7V233.8M95.25 232.7V233.8M97.15 232.7V233.8M98.62 232.7V233.8M99.83 232.7V233.8M100.85 232.7V233.8M101.73 232.7V233.8M102.5 232.7V233.8" stroke="#222" stroke-width="0.7" fill="none"/>
<text x="43.3" y="235.6" font-size="6.4" text-anchor="end" fill="#2a2a2a" stroke="#2a2a2a" stroke-width="0.18">0</text>
<text x="43.3" y="224.3" font-size="6.4" text-anchor="end" fill="#2a2a2a" stroke="#2a2a2a" stroke-width="0.18">20</text>
<text x="43.3" y="213" font-size="6.4" text-anchor="end" fill="#2a2a2a" stroke="#2a2a2a" stroke-width="0.18">40</text>
<text x="43.3" y="201.7" font-size="6.4" text-anchor="end" fill="#2a2a2a" stroke="#2a2a2a" stroke-width="0.18">60</text>
<text x="43.3" y="190.4" font-size="6.4" text-anchor="end" fill="#2a2a2a" stroke="#2a2a2a" stroke-width="0.18">80</text>
<text x="43.3" y="179.1" font-size="6.4" text-anchor="end" fill="#2a2a2a" stroke="#2a2a2a" stroke-width="0.18">100</text>
<text x="79.6" y="161.2" font-size="6.2" text-anchor="middle" fill="#2a2a2a" stroke="#2a2a2a" stroke-width="0.08">ABL</text>
<text x="79.6" y="168.6" font-size="6.2" text-anchor="middle" fill="#2a2a2a" stroke="#2a2a2a" stroke-width="0.08">t(11;12)</text>
<g fill="none" stroke-linejoin="round">
<polyline points="157.3,232.4 157.6,232.4 157.9,232.4 158.2,232.4 158.5,232.4 158.8,232.3 159.1,232.1 159.4,232.1 159.7,232.2 160.0,232.1 160.3,231.7 160.6,231.6 160.9,231.6 161.2,231.4 161.5,231.0 161.8,230.5 162.1,230.0 162.4,229.7 162.7,229.9 163.0,229.8 163.3,229.3 163.6,228.5 163.9,228.2 164.2,228.2 164.5,227.5 164.8,227.0 165.1,226.5 165.4,224.9 165.7,223.2 166.0,222.3 166.3,221.7 166.6,220.5 166.9,219.1 167.2,219.4 167.5,218.7 167.8,216.2 168.1,214.8 168.4,214.0 168.7,212.2 169.0,210.2 169.3,209.1 169.6,208.3 169.9,207.3 170.2,204.7 170.5,201.1 170.8,199.3 171.1,199.5 171.4,199.4 171.7,196.7 172.0,193.9 172.3,193.9 172.6,194.3 172.9,194.6 173.2,194.2 173.5,191.4 173.8,188.7 174.1,187.7 174.4,186.7 174.7,184.9 175.0,183.8 175.3,185.1 175.6,186.9 175.9,187.7 176.2,189.0 176.5,189.4 176.8,187.7 177.1,187.3 177.4,190.7 177.7,194.5 178.0,196.7 178.3,199.0 178.6,202.2 178.9,204.8 179.2,207.1 179.5,209.4 179.8,211.1 180.1,213.5 180.4,216.6 180.7,219.3 181.0,221.3 181.3,222.1 181.6,223.0 181.9,224.9 182.2,226.5 182.5,227.9 182.8,228.9 183.1,229.6 183.4,230.2 183.7,230.4 184.0,230.8 184.3,231.4 184.6,231.9 184.9,232.2 185.2,232.3 185.5,232.3 185.8,232.3 186.1,232.4 186.4,232.4 186.7,232.4 187.0,232.4 187.3,232.4" stroke="#55a8d6" stroke-width="0.85"/>
<polyline points="149.2,231.7 149.5,231.7 149.8,231.8 150.1,231.8 150.4,231.6 150.7,231.4 151.0,231.3 151.3,231.3 151.6,231.1 151.9,230.9 152.2,231.0 152.5,230.8 152.8,230.6 153.1,230.5 153.4,230.3 153.7,230.3 154.0,229.8 154.3,229.3 154.6,229.3 154.9,229.4 155.2,228.9 155.5,228.4 155.8,228.3 156.1,228.2 156.4,227.6 156.7,227.3 157.0,227.1 157.3,227.0 157.6,227.0 157.9,226.5 158.2,225.8 158.5,225.5 158.8,225.3 159.1,225.0 159.4,224.8 159.7,224.4 160.0,223.5 160.3,222.8 160.6,222.5 160.9,221.9 161.2,220.8 161.5,220.3 161.8,219.9 162.1,219.2 162.4,218.4 162.7,217.2 163.0,216.2 163.3,215.8 163.6,213.3 163.9,210.9 164.2,210.7 164.5,210.2 164.8,209.4 165.1,208.4 165.4,206.0 165.7,205.5 166.0,204.4 166.3,201.3 166.6,200.6 166.9,199.3 167.2,196.2 167.5,194.3 167.8,193.9 168.1,192.9 168.4,190.8 168.7,190.3 169.0,189.5 169.3,187.9 169.6,186.8 169.9,184.5 170.2,182.2 170.5,181.5 170.8,181.8 171.1,181.6 171.4,180.2 171.7,178.2 172.0,178.6 172.3,181.0 172.6,180.4 172.9,178.8 173.2,179.3 173.5,181.2 173.8,184.1 174.1,185.7 174.4,187.2 174.7,188.5 175.0,188.8 175.3,190.6 175.6,194.4 175.9,197.9 176.2,201.2 176.5,204.0 176.8,205.4 177.1,206.7 177.4,209.5 177.7,212.5 178.0,214.0 178.3,215.7 178.6,217.7 178.9,219.8 179.2,222.1 179.5,223.7 179.8,224.9 180.1,226.4 180.4,227.3 180.7,227.6 181.0,228.4 181.3,229.6 181.6,230.6 181.9,231.1 182.2,231.1 182.5,231.2 182.8,231.5 183.1,231.8 183.4,231.8 183.7,231.9 184.0,232.1 184.3,232.3 184.6,232.4 184.9,232.3 185.2,232.4 185.5,232.4" stroke="#f2a93a" stroke-width="0.85"/>
<polyline points="149.2,229.2 149.5,229.1 149.8,229.1 150.1,228.8 150.4,228.7 150.7,228.1 151.0,227.1 151.3,227.0 151.6,227.4 151.9,226.8 152.2,226.0 152.5,226.2 152.8,226.0 153.1,225.3 153.4,225.0 153.7,224.9 154.0,224.4 154.3,223.6 154.6,223.2 154.9,223.4 155.2,223.9 155.5,223.5 155.8,222.2 156.1,221.3 156.4,221.0 156.7,220.9 157.0,220.4 157.3,219.6 157.6,218.5 157.9,218.4 158.2,219.1 158.5,218.4 158.8,217.5 159.1,216.9 159.4,216.5 159.7,215.6 160.0,214.0 160.3,213.3 160.6,212.6 160.9,212.0 161.2,212.4 161.5,210.9 161.8,208.9 162.1,209.3 162.4,209.7 162.7,209.2 163.0,208.4 163.3,206.6 163.6,204.8 163.9,204.2 164.2,204.3 164.5,204.3 164.8,203.0 165.1,201.1 165.4,198.4 165.7,196.0 166.0,195.9 166.3,195.1 166.6,193.3 166.9,193.0 167.2,192.6 167.5,190.9 167.8,189.5 168.1,189.0 168.4,188.3 168.7,187.7 169.0,187.9 169.3,188.2 169.6,187.9 169.9,186.7 170.2,185.5 170.5,185.7 170.8,186.3 171.1,186.8 171.4,188.8 171.7,191.1 172.0,192.4 172.3,194.2 172.6,196.2 172.9,198.3 173.2,201.5 173.5,204.2 173.8,205.7 174.1,207.6 174.4,209.2 174.7,211.4 175.0,214.2 175.3,216.2 175.6,218.0 175.9,219.8 176.2,221.8 176.5,223.0 176.8,223.7 177.1,225.1 177.4,226.2 177.7,227.2 178.0,228.4 178.3,229.1 178.6,229.3 178.9,229.8 179.2,230.7 179.5,231.3 179.8,231.7 180.1,231.8 180.4,231.9 180.7,232.2 181.0,232.3 181.3,232.3 181.6,232.2 181.9,232.3 182.2,232.4" stroke="#4aa85a" stroke-width="0.85"/>
<polyline points="149.2,224.7 149.5,224.4 149.8,224.3 150.1,223.6 150.4,223.0 150.7,222.6 151.0,221.6 151.3,220.9 151.6,220.4 151.9,219.7 152.2,218.6 152.5,217.8 152.8,217.4 153.1,217.3 153.4,217.2 153.7,216.2 154.0,214.4 154.3,213.1 154.6,213.0 154.9,213.4 155.2,212.6 155.5,211.3 155.8,209.9 156.1,207.8 156.4,207.9 156.7,209.1 157.0,208.3 157.3,207.5 157.6,206.6 157.9,205.9 158.2,207.0 158.5,206.5 158.8,204.8 159.1,204.3 159.4,203.4 159.7,203.4 160.0,204.2 160.3,203.5 160.6,202.6 160.9,202.5 161.2,201.6 161.5,199.3 161.8,197.2 162.1,197.9 162.4,199.2 162.7,198.5 163.0,197.4 163.3,195.8 163.6,193.8 163.9,192.4 164.2,192.2 164.5,191.6 164.8,189.9 165.1,188.7 165.4,188.4 165.7,188.0 166.0,186.9 166.3,185.0 166.6,184.3 166.9,185.1 167.2,185.3 167.5,183.9 167.8,184.1 168.1,186.9 168.4,187.8 168.7,186.5 169.0,186.5 169.3,186.6 169.6,187.0 169.9,190.2 170.2,194.2 170.5,197.6 170.8,199.6 171.1,200.6 171.4,203.9 171.7,207.3 172.0,209.6 172.3,211.9 172.6,214.8 172.9,217.4 173.2,218.4 173.5,219.6 173.8,221.8 174.1,223.6 174.4,225.0 174.7,227.0 175.0,228.7 175.3,229.2 175.6,229.2 175.9,229.8 176.2,230.8 176.5,231.2 176.8,231.4 177.1,231.9 177.4,232.1 177.7,232.1 178.0,232.2 178.3,232.1 178.6,232.2 178.9,232.4 179.2,232.4" stroke="#27365e" stroke-width="0.85"/>
<polyline points="149.2,232.1 149.5,231.9 149.8,231.8 150.1,231.6 150.4,230.6 150.7,229.4 151.0,228.8 151.3,227.8 151.6,226.1 151.9,223.9 152.2,222.4 152.5,220.7 152.8,217.3 153.1,214.1 153.4,210.2 153.7,205.0 154.0,200.9 154.3,197.9 154.6,194.9 154.9,191.0 155.2,189.0 155.5,189.1 155.8,187.1 156.1,183.5 156.4,181.3 156.7,180.1 157.0,179.8 157.3,181.2 157.6,182.3 157.9,182.2 158.2,184.0 158.5,186.5 158.8,187.6 159.1,189.3 159.4,191.6 159.7,193.7 160.0,194.9 160.3,195.4 160.6,196.7 160.9,200.2 161.2,203.6 161.5,206.1 161.8,209.8 162.1,212.9 162.4,212.8 162.7,213.5 163.0,216.9 163.3,219.3 163.6,221.2 163.9,222.8 164.2,223.3 164.5,224.7 164.8,226.3 165.1,226.8 165.4,227.6 165.7,228.6 166.0,229.2 166.3,229.7 166.6,230.3 166.9,230.7 167.2,230.9 167.5,231.1 167.8,231.4 168.1,231.7 168.4,231.8 168.7,232.0 169.0,232.4 169.3,232.4 169.6,232.4 169.9,232.3 170.2,232.4 170.5,232.4 170.8,232.4" stroke="#c4325c" stroke-width="0.85"/>
</g>
<rect x="149.23" y="173.6" width="60" height="59.1" fill="none" stroke="#1a1a1a" stroke-width="1.05"/>
<path d="M146.23 232.7H149.23M147.83 230.44H149.23M147.83 228.18H149.23M147.83 225.92H149.23M147.83 223.66H149.23M146.23 221.4H149.23M147.83 219.14H149.23M147.83 216.88H149.23M147.83 214.62H149.23M147.83 212.36H149.23M146.23 210.1H149.23M147.83 207.84H149.23M147.83 205.58H149.23M147.83 203.32H149.23M147.83 201.06H149.23M146.23 198.8H149.23M147.83 196.54H149.23M147.83 194.28H149.23M147.83 192.02H149.23M147.83 189.76H149.23M146.23 187.5H149.23M147.83 185.24H149.23M147.83 182.98H149.23M147.83 180.72H149.23M147.83 178.46H149.23M146.23 176.2H149.23M157.23 232.7V235.5M172.23 232.7V234.9M187.63 232.7V234.9M202.63 232.7V234.9M154.53 232.7V234.3M155.33 232.7V235.1M156.13 232.7V235.1M156.73 232.7V235.1M157.83 232.7V235.1M158.53 232.7V235.1M159.33 232.7V234.3M164.73 232.7V234.3M176.81 232.7V233.8M179.48 232.7V233.8M181.38 232.7V233.8M182.85 232.7V233.8M184.06 232.7V233.8M185.08 232.7V233.8M185.96 232.7V233.8M186.73 232.7V233.8M192.21 232.7V233.8M194.88 232.7V233.8M196.78 232.7V233.8M198.25 232.7V233.8M199.46 232.7V233.8M200.48 232.7V233.8M201.36 232.7V233.8M202.13 232.7V233.8" stroke="#222" stroke-width="0.7" fill="none"/>
<text x="142.93" y="235.6" font-size="6.4" text-anchor="end" fill="#2a2a2a" stroke="#2a2a2a" stroke-width="0.18">0</text>
<text x="142.93" y="224.3" font-size="6.4" text-anchor="end" fill="#2a2a2a" stroke="#2a2a2a" stroke-width="0.18">20</text>
<text x="142.93" y="213" font-size="6.4" text-anchor="end" fill="#2a2a2a" stroke="#2a2a2a" stroke-width="0.18">40</text>
<text x="142.93" y="201.7" font-size="6.4" text-anchor="end" fill="#2a2a2a" stroke="#2a2a2a" stroke-width="0.18">60</text>
<text x="142.93" y="190.4" font-size="6.4" text-anchor="end" fill="#2a2a2a" stroke="#2a2a2a" stroke-width="0.18">80</text>
<text x="142.93" y="179.1" font-size="6.4" text-anchor="end" fill="#2a2a2a" stroke="#2a2a2a" stroke-width="0.18">100</text>
<text x="179.23" y="161.2" font-size="6.2" text-anchor="middle" fill="#2a2a2a" stroke="#2a2a2a" stroke-width="0.08">Burkitt lymphoma</text>
<text x="179.23" y="168.6" font-size="6.2" text-anchor="middle" fill="#2a2a2a" stroke="#2a2a2a" stroke-width="0.08">t(8;14)</text>
<g fill="none" stroke-linejoin="round">
<polyline points="258.5,232.4 258.8,232.4 259.1,232.3 259.4,232.3 259.7,232.2 260.0,232.0 260.3,231.9 260.6,232.0 260.9,231.9 261.2,231.7 261.5,231.6 261.8,231.4 262.1,231.1 262.4,230.8 262.7,230.7 263.0,230.5 263.3,230.3 263.6,230.0 263.9,229.5 264.2,229.2 264.5,229.1 264.8,229.1 265.1,228.2 265.4,226.8 265.7,226.3 266.0,225.7 266.3,225.1 266.6,224.8 266.9,224.1 267.2,223.0 267.5,221.6 267.8,220.6 268.1,220.0 268.4,218.8 268.7,216.7 269.0,215.0 269.3,214.7 269.6,214.0 269.9,211.7 270.2,209.5 270.5,208.5 270.8,208.1 271.1,206.0 271.4,202.8 271.7,201.3 272.0,201.2 272.3,199.6 272.6,197.8 272.9,197.5 273.2,196.7 273.5,195.9 273.8,194.9 274.1,193.0 274.4,191.4 274.7,191.1 275.0,190.9 275.3,188.6 275.6,185.5 275.9,184.2 276.2,185.3 276.5,186.8 276.8,186.2 277.1,185.8 277.4,187.2 277.7,187.7 278.0,189.1 278.3,192.3 278.6,195.0 278.9,197.7 279.2,200.1 279.5,203.5 279.8,208.1 280.1,211.6 280.4,213.9 280.7,215.8 281.0,218.3 281.3,221.0 281.6,222.9 281.9,224.6 282.2,226.8 282.5,228.1 282.8,228.3 283.1,228.5 283.4,229.3 283.7,230.2 284.0,231.1 284.3,231.8 284.6,232.0 284.9,232.0 285.2,232.2 285.5,232.3 285.8,232.3 286.1,232.4 286.4,232.4" stroke="#55a8d6" stroke-width="0.85"/>
<polyline points="248.9,229.1 249.2,228.5 249.5,227.7 249.8,227.2 250.1,227.4 250.4,227.4 250.7,227.3 251.0,226.7 251.3,225.2 251.6,224.3 251.9,224.2 252.2,223.8 252.5,223.3 252.8,223.0 253.1,222.7 253.4,221.8 253.7,220.6 254.0,220.0 254.3,220.2 254.6,220.4 254.9,219.6 255.2,218.4 255.5,218.6 255.8,218.9 256.1,217.6 256.4,215.6 256.7,214.3 257.0,213.6 257.3,213.4 257.6,213.8 257.9,213.3 258.2,212.1 258.5,211.7 258.8,210.7 259.1,209.9 259.4,209.1 259.7,207.9 260.0,207.7 260.3,206.9 260.6,204.9 260.9,203.3 261.2,203.3 261.5,203.8 261.8,202.4 262.1,199.5 262.4,198.8 262.7,200.2 263.0,199.4 263.3,196.7 263.6,194.9 263.9,193.8 264.2,192.7 264.5,192.6 264.8,192.1 265.1,191.1 265.4,189.6 265.7,187.1 266.0,186.7 266.3,187.2 266.6,185.7 266.9,184.5 267.2,183.8 267.5,182.5 267.8,181.8 268.1,182.9 268.4,183.7 268.7,182.7 269.0,182.5 269.3,183.5 269.6,184.3 269.9,185.8 270.2,188.1 270.5,190.1 270.8,191.5 271.1,193.6 271.4,195.9 271.7,197.4 272.0,199.5 272.3,202.7 272.6,206.8 272.9,210.4 273.2,213.0 273.5,215.4 273.8,217.2 274.1,218.7 274.4,220.1 274.7,221.2 275.0,223.0 275.3,225.7 275.6,227.2 275.9,227.3 276.2,227.9 276.5,229.1 276.8,229.9 277.1,230.6 277.4,231.1 277.7,231.5 278.0,231.8 278.3,231.9 278.6,232.1 278.9,232.2 279.2,232.2 279.5,232.2 279.8,232.4 280.1,232.4" stroke="#f2a93a" stroke-width="0.85"/>
<polyline points="248.9,229.2 249.2,228.9 249.5,228.7 249.8,228.5 250.1,228.2 250.4,227.8 250.7,227.6 251.0,227.1 251.3,226.6 251.6,225.9 251.9,224.9 252.2,224.6 252.5,225.0 252.8,225.6 253.1,225.7 253.4,224.7 253.7,222.8 254.0,221.9 254.3,222.0 254.6,221.7 254.9,221.1 255.2,220.8 255.5,220.5 255.8,220.3 256.1,220.0 256.4,219.3 256.7,218.3 257.0,217.0 257.3,216.4 257.6,215.9 257.9,215.2 258.2,214.8 258.5,214.3 258.8,213.6 259.1,212.1 259.4,210.0 259.7,210.2 260.0,210.4 260.3,208.4 260.6,207.7 260.9,207.7 261.2,207.1 261.5,205.9 261.8,203.6 262.1,203.1 262.4,203.0 262.7,201.1 263.0,199.4 263.3,198.3 263.6,198.2 263.9,197.5 264.2,195.7 264.5,195.3 264.8,195.0 265.1,194.0 265.4,194.3 265.7,193.1 266.0,190.9 266.3,189.2 266.6,187.9 266.9,187.3 267.2,186.9 267.5,186.9 267.8,186.3 268.1,185.3 268.4,184.7 268.7,183.7 269.0,184.7 269.3,186.2 269.6,185.6 269.9,187.2 270.2,190.9 270.5,192.5 270.8,192.9 271.1,193.1 271.4,194.3 271.7,197.3 272.0,200.2 272.3,202.7 272.6,205.8 272.9,209.2 273.2,212.0 273.5,214.1 273.8,215.5 274.1,217.0 274.4,219.6 274.7,221.8 275.0,223.2 275.3,224.4 275.6,225.5 275.9,226.5 276.2,227.7 276.5,228.9 276.8,229.5 277.1,230.2 277.4,231.0 277.7,231.4 278.0,231.5 278.3,231.6 278.6,231.9 278.9,232.1 279.2,232.2 279.5,232.3 279.8,232.4 280.1,232.4" stroke="#4aa85a" stroke-width="0.85"/>
<polyline points="248.9,226.1 249.2,225.8 249.5,225.8 249.8,225.0 250.1,223.3 250.4,222.6 250.7,222.2 251.0,220.9 251.3,220.3 251.6,220.6 251.9,220.2 252.2,219.3 252.5,218.4 252.8,218.0 253.1,217.6 253.4,216.2 253.7,214.6 254.0,214.4 254.3,214.3 254.6,213.0 254.9,211.6 255.2,211.3 255.5,211.2 255.8,210.7 256.1,210.3 256.4,210.6 256.7,210.9 257.0,210.0 257.3,209.3 257.6,209.0 257.9,207.1 258.2,205.0 258.5,204.1 258.8,203.8 259.1,203.7 259.4,203.3 259.7,202.3 260.0,202.0 260.3,202.7 260.6,202.2 260.9,201.5 261.2,200.8 261.5,199.7 261.8,198.9 262.1,197.5 262.4,195.4 262.7,193.0 263.0,191.9 263.3,192.8 263.6,192.9 263.9,191.6 264.2,189.8 264.5,188.4 264.8,188.3 265.1,187.0 265.4,185.6 265.7,186.2 266.0,184.6 266.3,181.6 266.6,181.1 266.9,182.8 267.2,184.3 267.5,184.6 267.8,184.3 268.1,184.3 268.4,184.3 268.7,184.3 269.0,187.2 269.3,191.1 269.6,192.9 269.9,194.9 270.2,198.1 270.5,200.6 270.8,202.2 271.1,204.6 271.4,206.2 271.7,207.1 272.0,208.8 272.3,211.3 272.6,214.6 272.9,217.1 273.2,218.8 273.5,220.2 273.8,222.0 274.1,224.1 274.4,225.3 274.7,226.5 275.0,227.7 275.3,227.8 275.6,228.3 275.9,229.8 276.2,230.5 276.5,230.5 276.8,230.9 277.1,231.5 277.4,232.0 277.7,232.2 278.0,232.2 278.3,232.3 278.6,232.4 278.9,232.4 279.2,232.4" stroke="#27365e" stroke-width="0.85"/>
<polyline points="248.9,232.4 249.2,232.1 249.5,231.9 249.8,231.6 250.1,231.3 250.4,230.9 250.7,230.7 251.0,230.1 251.3,229.0 251.6,227.8 251.9,226.3 252.2,224.7 252.5,223.4 252.8,221.1 253.1,218.0 253.4,214.9 253.7,211.8 254.0,209.4 254.3,207.0 254.6,203.6 254.9,199.2 255.2,194.6 255.5,190.5 255.8,186.7 256.1,183.3 256.4,179.8 256.7,178.4 257.0,178.6 257.3,178.2 257.6,178.8 257.9,179.8 258.2,181.0 258.5,182.1 258.8,182.4 259.1,184.0 259.4,186.1 259.7,187.5 260.0,189.2 260.3,190.7 260.6,192.5 260.9,196.2 261.2,198.9 261.5,200.2 261.8,203.5 262.1,207.6 262.4,210.0 262.7,211.5 263.0,212.9 263.3,215.0 263.6,217.0 263.9,218.7 264.2,220.8 264.5,223.0 264.8,224.5 265.1,225.1 265.4,225.5 265.7,225.9 266.0,226.9 266.3,228.5 266.6,229.6 266.9,230.1 267.2,230.6 267.5,230.7 267.8,230.9 268.1,231.4 268.4,231.8 268.7,232.0 269.0,232.1 269.3,232.2 269.6,232.3 269.9,232.3 270.2,232.3 270.5,232.3 270.8,232.4" stroke="#c4325c" stroke-width="0.85"/>
</g>
<rect x="248.86" y="173.6" width="60" height="59.1" fill="none" stroke="#1a1a1a" stroke-width="1.05"/>
<path d="M245.86 232.7H248.86M247.46 230.44H248.86M247.46 228.18H248.86M247.46 225.92H248.86M247.46 223.66H248.86M245.86 221.4H248.86M247.46 219.14H248.86M247.46 216.88H248.86M247.46 214.62H248.86M247.46 212.36H248.86M245.86 210.1H248.86M247.46 207.84H248.86M247.46 205.58H248.86M247.46 203.32H248.86M247.46 201.06H248.86M245.86 198.8H248.86M247.46 196.54H248.86M247.46 194.28H248.86M247.46 192.02H248.86M247.46 189.76H248.86M245.86 187.5H248.86M247.46 185.24H248.86M247.46 182.98H248.86M247.46 180.72H248.86M247.46 178.46H248.86M245.86 176.2H248.86M256.86 232.7V235.5M271.86 232.7V234.9M287.26 232.7V234.9M302.26 232.7V234.9M254.16 232.7V234.3M254.96 232.7V235.1M255.76 232.7V235.1M256.36 232.7V235.1M257.46 232.7V235.1M258.16 232.7V235.1M258.96 232.7V234.3M264.36 232.7V234.3M276.44 232.7V233.8M279.11 232.7V233.8M281.01 232.7V233.8M282.48 232.7V233.8M283.69 232.7V233.8M284.71 232.7V233.8M285.59 232.7V233.8M286.36 232.7V233.8M291.84 232.7V233.8M294.51 232.7V233.8M296.41 232.7V233.8M297.88 232.7V233.8M299.09 232.7V233.8M300.11 232.7V233.8M300.99 232.7V233.8M301.76 232.7V233.8" stroke="#222" stroke-width="0.7" fill="none"/>
<text x="242.56" y="235.6" font-size="6.4" text-anchor="end" fill="#2a2a2a" stroke="#2a2a2a" stroke-width="0.18">0</text>
<text x="242.56" y="224.3" font-size="6.4" text-anchor="end" fill="#2a2a2a" stroke="#2a2a2a" stroke-width="0.18">20</text>
<text x="242.56" y="213" font-size="6.4" text-anchor="end" fill="#2a2a2a" stroke="#2a2a2a" stroke-width="0.18">40</text>
<text x="242.56" y="201.7" font-size="6.4" text-anchor="end" fill="#2a2a2a" stroke="#2a2a2a" stroke-width="0.18">60</text>
<text x="242.56" y="190.4" font-size="6.4" text-anchor="end" fill="#2a2a2a" stroke="#2a2a2a" stroke-width="0.18">80</text>
<text x="242.56" y="179.1" font-size="6.4" text-anchor="end" fill="#2a2a2a" stroke="#2a2a2a" stroke-width="0.18">100</text>
<text x="278.86" y="161.2" font-size="6.2" text-anchor="middle" fill="#2a2a2a" stroke="#2a2a2a" stroke-width="0.08">Burkitt lymphoma</text>
<text x="278.86" y="168.6" font-size="6.2" text-anchor="middle" fill="#2a2a2a" stroke="#2a2a2a" stroke-width="0.08">t(8;14)</text>
<g fill="none" stroke-linejoin="round">
<polyline points="353.9,232.4 354.2,232.4 354.5,232.4 354.8,232.4 355.1,232.4 355.4,232.3 355.7,232.3 356.0,232.3 356.3,232.2 356.6,231.8 356.9,231.6 357.2,231.6 357.5,231.3 357.8,230.9 358.1,230.3 358.4,229.6 358.7,229.4 359.0,229.1 359.3,228.8 359.6,228.1 359.9,227.0 360.2,225.9 360.5,224.9 360.8,224.0 361.1,222.6 361.4,220.6 361.7,219.5 362.0,218.8 362.3,217.5 362.6,216.1 362.9,214.1 363.2,211.4 363.5,208.7 363.8,205.9 364.1,204.0 364.4,202.9 364.7,201.2 365.0,198.4 365.3,196.2 365.6,195.5 365.9,195.0 366.2,193.1 366.5,191.5 366.8,191.3 367.1,189.4 367.4,187.4 367.7,186.6 368.0,186.2 368.3,186.7 368.6,187.3 368.9,188.2 369.2,189.4 369.5,190.9 369.8,192.3 370.1,193.2 370.4,193.6 370.7,194.7 371.0,197.1 371.3,200.4 371.6,202.1 371.9,202.3 372.2,204.8 372.5,207.9 372.8,208.9 373.1,210.4 373.4,213.2 373.7,214.9 374.0,216.2 374.3,218.0 374.6,219.4 374.9,220.7 375.2,222.3 375.5,223.9 375.8,224.9 376.1,225.5 376.4,226.3 376.7,227.5 377.0,228.6 377.3,229.1 377.6,229.7 377.9,230.1 378.2,230.5 378.5,231.2 378.8,231.5 379.1,231.6 379.4,231.7 379.7,232.1 380.0,232.3 380.3,232.1 380.6,232.2 380.9,232.3 381.2,232.3 381.5,232.4" stroke="#55a8d6" stroke-width="0.85"/>
<polyline points="355.7,232.4 356.0,232.4 356.3,232.3 356.6,232.4 356.9,232.1 357.2,231.4 357.5,230.5 357.8,229.6 358.1,228.3 358.4,226.6 358.7,224.5 359.0,222.2 359.3,218.8 359.6,215.4 359.9,212.0 360.2,209.1 360.5,207.1 360.8,204.3 361.1,201.9 361.4,200.8 361.7,199.9 362.0,199.0 362.3,198.6 362.6,198.9 362.9,198.5 363.2,198.3 363.5,198.8 363.8,198.4 364.1,197.7 364.4,196.4 364.7,195.1 365.0,195.2 365.3,195.3 365.6,195.2 365.9,195.2 366.2,195.0 366.5,194.4 366.8,194.4 367.1,196.7 367.4,198.8 367.7,200.0 368.0,202.7 368.3,204.0 368.6,203.4 368.9,204.4 369.2,206.0 369.5,208.1 369.8,211.4 370.1,214.0 370.4,215.8 370.7,217.1 371.0,217.6 371.3,218.5 371.6,220.3 371.9,222.4 372.2,224.7 372.5,226.3 372.8,227.0 373.1,227.7 373.4,228.8 373.7,229.5 374.0,230.0 374.3,230.6 374.6,231.0 374.9,231.3 375.2,231.5 375.5,231.7 375.8,231.8 376.1,232.1 376.4,232.3 376.7,232.2 377.0,232.3 377.3,232.4 377.6,232.4 377.9,232.4" stroke="#f2a93a" stroke-width="0.85"/>
<polyline points="355.4,232.4 355.7,232.4 356.0,232.4 356.3,232.4 356.6,232.1 356.9,232.0 357.2,231.9 357.5,231.7 357.8,230.9 358.1,229.7 358.4,228.9 358.7,228.5 359.0,228.1 359.3,227.0 359.6,225.3 359.9,223.8 360.2,222.7 360.5,221.1 360.8,218.5 361.1,215.3 361.4,212.0 361.7,209.9 362.0,207.7 362.3,204.5 362.6,202.8 362.9,200.2 363.2,196.1 363.5,192.3 363.8,188.7 364.1,185.7 364.4,184.1 364.7,184.0 365.0,183.9 365.3,184.7 365.6,185.9 365.9,185.8 366.2,185.4 366.5,185.0 366.8,185.5 367.1,188.1 367.4,191.0 367.7,192.3 368.0,193.2 368.3,195.4 368.6,197.9 368.9,200.0 369.2,202.4 369.5,205.6 369.8,209.4 370.1,212.5 370.4,214.3 370.7,216.2 371.0,218.6 371.3,220.5 371.6,222.1 371.9,223.4 372.2,224.4 372.5,225.5 372.8,227.0 373.1,228.3 373.4,229.1 373.7,229.5 374.0,230.0 374.3,230.7 374.6,231.0 374.9,231.5 375.2,231.8 375.5,231.9 375.8,232.0 376.1,232.2 376.4,232.2 376.7,232.3 377.0,232.4 377.3,232.4 377.6,232.4 377.9,232.4" stroke="#4aa85a" stroke-width="0.85"/>
<polyline points="354.5,232.4 354.8,232.4 355.1,232.1 355.4,231.6 355.7,231.5 356.0,231.4 356.3,230.9 356.6,229.9 356.9,228.4 357.2,226.3 357.5,224.9 357.8,223.3 358.1,220.1 358.4,216.9 358.7,213.9 359.0,209.9 359.3,207.3 359.6,204.7 359.9,200.4 360.2,195.2 360.5,189.9 360.8,186.6 361.1,184.2 361.4,182.9 361.7,183.8 362.0,184.2 362.3,182.7 362.6,181.8 362.9,184.2 363.2,187.8 363.5,189.6 363.8,189.6 364.1,191.4 364.4,195.3 364.7,197.8 365.0,199.4 365.3,202.3 365.6,204.7 365.9,206.3 366.2,208.8 366.5,212.5 366.8,215.2 367.1,216.4 367.4,217.8 367.7,219.9 368.0,221.9 368.3,223.9 368.6,225.4 368.9,226.6 369.2,227.6 369.5,228.6 369.8,229.4 370.1,229.9 370.4,230.4 370.7,230.7 371.0,230.9 371.3,231.1 371.6,231.5 371.9,231.9 372.2,232.0 372.5,232.2 372.8,232.4 373.1,232.4" stroke="#27365e" stroke-width="0.85"/>
<polyline points="355.7,232.4 356.0,232.1 356.3,231.0 356.6,228.7 356.9,224.3 357.2,217.5 357.5,208.8 357.8,198.5 358.1,189.2 358.4,182.8 358.7,180.1 359.0,180.4 359.3,182.4 359.6,187.1 359.9,194.3 360.2,202.7 360.5,211.2 360.8,218.1 361.1,222.5 361.4,226.0 361.7,228.7 362.0,230.4 362.3,231.5 362.6,232.1 362.9,232.3 363.2,232.4 363.5,232.4" stroke="#c4325c" stroke-width="0.85"/>
</g>
<rect x="348.49" y="173.6" width="60" height="59.1" fill="none" stroke="#1a1a1a" stroke-width="1.05"/>
<path d="M345.49 232.7H348.49M347.09 230.44H348.49M347.09 228.18H348.49M347.09 225.92H348.49M347.09 223.66H348.49M345.49 221.4H348.49M347.09 219.14H348.49M347.09 216.88H348.49M347.09 214.62H348.49M347.09 212.36H348.49M345.49 210.1H348.49M347.09 207.84H348.49M347.09 205.58H348.49M347.09 203.32H348.49M347.09 201.06H348.49M345.49 198.8H348.49M347.09 196.54H348.49M347.09 194.28H348.49M347.09 192.02H348.49M347.09 189.76H348.49M345.49 187.5H348.49M347.09 185.24H348.49M347.09 182.98H348.49M347.09 180.72H348.49M347.09 178.46H348.49M345.49 176.2H348.49M356.49 232.7V235.5M371.49 232.7V234.9M386.89 232.7V234.9M401.89 232.7V234.9M353.79 232.7V234.3M354.59 232.7V235.1M355.39 232.7V235.1M355.99 232.7V235.1M357.09 232.7V235.1M357.79 232.7V235.1M358.59 232.7V234.3M363.99 232.7V234.3M376.07 232.7V233.8M378.74 232.7V233.8M380.64 232.7V233.8M382.11 232.7V233.8M383.32 232.7V233.8M384.34 232.7V233.8M385.22 232.7V233.8M385.99 232.7V233.8M391.47 232.7V233.8M394.14 232.7V233.8M396.04 232.7V233.8M397.51 232.7V233.8M398.72 232.7V233.8M399.74 232.7V233.8M400.62 232.7V233.8M401.39 232.7V233.8" stroke="#222" stroke-width="0.7" fill="none"/>
<text x="342.19" y="235.6" font-size="6.4" text-anchor="end" fill="#2a2a2a" stroke="#2a2a2a" stroke-width="0.18">0</text>
<text x="342.19" y="224.3" font-size="6.4" text-anchor="end" fill="#2a2a2a" stroke="#2a2a2a" stroke-width="0.18">20</text>
<text x="342.19" y="213" font-size="6.4" text-anchor="end" fill="#2a2a2a" stroke="#2a2a2a" stroke-width="0.18">40</text>
<text x="342.19" y="201.7" font-size="6.4" text-anchor="end" fill="#2a2a2a" stroke="#2a2a2a" stroke-width="0.18">60</text>
<text x="342.19" y="190.4" font-size="6.4" text-anchor="end" fill="#2a2a2a" stroke="#2a2a2a" stroke-width="0.18">80</text>
<text x="342.19" y="179.1" font-size="6.4" text-anchor="end" fill="#2a2a2a" stroke="#2a2a2a" stroke-width="0.18">100</text>
<text x="378.49" y="161.2" font-size="6.2" text-anchor="middle" fill="#2a2a2a" stroke="#2a2a2a" stroke-width="0.08">c-ALL</text>
<text x="378.49" y="168.6" font-size="6.2" text-anchor="middle" fill="#2a2a2a" stroke="#2a2a2a" stroke-width="0.08">t(X;6)</text>
<g fill="none" stroke-linejoin="round">
<polyline points="452.0,232.4 452.3,232.4 452.6,232.3 452.9,232.2 453.2,231.6 453.5,230.8 453.8,230.1 454.1,229.6 454.4,228.8 454.7,226.9 455.0,224.3 455.3,221.8 455.6,218.9 455.9,215.8 456.2,213.3 456.5,210.6 456.8,208.2 457.1,204.3 457.4,199.4 457.7,195.8 458.0,192.3 458.3,189.7 458.6,189.2 458.9,188.8 459.2,187.4 459.5,187.2 459.8,188.5 460.1,189.9 460.4,191.7 460.7,194.0 461.0,196.0 461.3,197.3 461.6,199.4 461.9,202.4 462.2,205.6 462.5,209.0 462.8,211.7 463.1,213.7 463.4,216.1 463.7,218.1 464.0,220.2 464.3,222.7 464.6,224.8 464.9,226.1 465.2,226.9 465.5,227.8 465.8,229.0 466.1,229.6 466.4,230.0 466.7,230.5 467.0,230.9 467.3,231.3 467.6,231.6 467.9,231.9 468.2,232.1 468.5,232.4 468.8,232.3 469.1,232.3 469.4,232.4 469.7,232.4" stroke="#55a8d6" stroke-width="0.85"/>
<polyline points="452.6,232.4 452.9,232.4 453.2,232.3 453.5,232.4 453.8,232.1 454.1,231.6 454.4,230.7 454.7,229.6 455.0,228.4 455.3,226.8 455.6,224.8 455.9,223.2 456.2,221.3 456.5,218.3 456.8,215.1 457.1,211.9 457.4,208.6 457.7,206.9 458.0,205.1 458.3,201.9 458.6,199.7 458.9,199.0 459.2,198.6 459.5,198.7 459.8,200.4 460.1,202.0 460.4,203.2 460.7,205.0 461.0,206.4 461.3,208.1 461.6,209.7 461.9,210.8 462.2,212.2 462.5,214.8 462.8,217.5 463.1,219.3 463.4,220.7 463.7,222.0 464.0,223.7 464.3,226.1 464.6,226.8 464.9,227.1 465.2,228.0 465.5,228.6 465.8,229.5 466.1,230.4 466.4,231.1 466.7,231.5 467.0,231.5 467.3,231.7 467.6,232.0 467.9,232.2 468.2,232.3 468.5,232.4 468.8,232.4 469.1,232.4" stroke="#f2a93a" stroke-width="0.85"/>
<polyline points="452.6,232.4 452.9,232.3 453.2,232.1 453.5,231.9 453.8,231.5 454.1,230.9 454.4,230.2 454.7,228.9 455.0,227.2 455.3,224.8 455.6,221.9 455.9,218.8 456.2,215.5 456.5,211.2 456.8,206.0 457.1,201.4 457.4,197.6 457.7,194.0 458.0,190.3 458.3,187.0 458.6,184.4 458.9,181.9 459.2,181.5 459.5,182.5 459.8,183.5 460.1,185.5 460.4,187.9 460.7,190.2 461.0,192.1 461.3,194.8 461.6,196.9 461.9,199.1 462.2,204.0 462.5,207.1 462.8,208.6 463.1,211.1 463.4,213.7 463.7,216.2 464.0,218.4 464.3,220.6 464.6,223.2 464.9,225.2 465.2,227.1 465.5,228.1 465.8,228.4 466.1,229.1 466.4,229.8 466.7,230.5 467.0,231.2 467.3,231.5 467.6,231.7 467.9,231.9 468.2,232.2 468.5,232.4 468.8,232.4 469.1,232.4 469.4,232.4 469.7,232.4 470.0,232.4 470.3,232.4 470.6,232.4 470.9,232.4 471.2,232.4 471.5,232.4 471.8,232.4 472.1,232.4 472.4,232.4 472.7,232.4 473.0,232.4 473.3,232.4 473.6,232.4 473.9,232.4 474.2,232.4 474.5,232.4 474.8,232.4 475.1,232.4 475.4,232.4 475.7,232.4 476.0,232.4 476.3,232.4 476.6,232.4 476.9,232.4 477.2,232.4 477.5,232.4 477.8,232.4 478.1,232.4 478.4,232.4 478.7,232.4 479.0,232.4 479.3,232.4 479.6,232.4 479.9,232.4 480.2,232.4 480.5,232.4 480.8,232.4 481.1,232.4 481.4,232.4 481.7,232.4 482.0,232.4 482.3,232.4 482.6,232.4 482.9,232.4 483.2,232.4 483.5,232.4 483.8,232.4 484.1,232.4 484.4,232.4 484.7,232.4 485.0,232.4 485.3,232.4 485.6,232.4 485.9,232.4 486.2,232.4 486.5,232.4 486.8,232.4 487.1,232.4 487.4,232.4 487.7,232.4 488.0,232.4 488.3,232.4 488.6,232.4 488.9,232.4 489.2,232.4 489.5,232.4 489.8,232.4 490.1,232.4 490.4,232.4 490.7,232.4 491.0,232.4 491.3,232.4 491.6,232.4 491.9,232.4 492.2,232.4 492.5,232.4 492.8,232.4 493.1,232.4 493.4,232.4 493.7,232.4 494.0,232.4 494.3,232.4 494.6,232.4 494.9,232.4 495.2,232.4 495.5,232.4 495.8,232.4 496.1,232.4 496.4,232.3 496.7,232.2 497.0,231.9 497.3,231.6 497.6,231.4 497.9,231.4 498.2,231.3 498.5,231.2 498.8,231.0 499.1,230.7 499.4,230.9 499.7,231.5 500.0,231.9 500.3,231.8 500.6,231.8 500.9,232.0 501.2,232.2 501.5,232.4 501.8,232.4" stroke="#4aa85a" stroke-width="0.85"/>
<polyline points="451.7,232.4 452.0,232.4 452.3,232.4 452.6,232.3 452.9,232.2 453.2,231.9 453.5,231.4 453.8,230.7 454.1,229.7 454.4,228.7 454.7,227.2 455.0,225.1 455.3,222.6 455.6,219.5 455.9,216.5 456.2,213.8 456.5,209.4 456.8,203.2 457.1,197.7 457.4,193.4 457.7,188.9 458.0,184.8 458.3,182.9 458.6,181.8 458.9,180.8 459.2,181.3 459.5,182.0 459.8,181.7 460.1,182.5 460.4,185.6 460.7,189.2 461.0,191.6 461.3,194.1 461.6,198.3 461.9,201.8 462.2,203.7 462.5,206.4 462.8,209.2 463.1,211.6 463.4,215.7 463.7,219.1 464.0,220.3 464.3,221.4 464.6,223.0 464.9,224.6 465.2,225.8 465.5,226.9 465.8,228.3 466.1,229.6 466.4,230.5 466.7,231.1 467.0,231.4 467.3,231.6 467.6,231.9 467.9,231.9 468.2,232.2 468.5,232.3 468.8,232.4 469.1,232.4" stroke="#27365e" stroke-width="0.85"/>
<polyline points="452.9,232.4 453.2,232.4 453.5,232.0 453.8,231.0 454.1,228.4 454.4,223.3 454.7,216.3 455.0,206.7 455.3,195.3 455.6,185.1 455.9,177.7 456.2,175.4 456.5,177.8 456.8,182.7 457.1,189.0 457.4,196.5 457.7,203.3 458.0,209.5 458.3,216.0 458.6,221.4 458.9,224.8 459.2,227.5 459.5,229.4 459.8,230.8 460.1,231.8 460.4,232.3 460.7,232.4 461.0,232.4 461.3,232.4" stroke="#c4325c" stroke-width="0.85"/>
</g>
<rect x="448.12" y="173.6" width="60" height="59.1" fill="none" stroke="#1a1a1a" stroke-width="1.05"/>
<path d="M445.12 232.7H448.12M446.72 230.44H448.12M446.72 228.18H448.12M446.72 225.92H448.12M446.72 223.66H448.12M445.12 221.4H448.12M446.72 219.14H448.12M446.72 216.88H448.12M446.72 214.62H448.12M446.72 212.36H448.12M445.12 210.1H448.12M446.72 207.84H448.12M446.72 205.58H448.12M446.72 203.32H448.12M446.72 201.06H448.12M445.12 198.8H448.12M446.72 196.54H448.12M446.72 194.28H448.12M446.72 192.02H448.12M446.72 189.76H448.12M445.12 187.5H448.12M446.72 185.24H448.12M446.72 182.98H448.12M446.72 180.72H448.12M446.72 178.46H448.12M445.12 176.2H448.12M456.12 232.7V235.5M471.12 232.7V234.9M486.52 232.7V234.9M501.52 232.7V234.9M453.42 232.7V234.3M454.22 232.7V235.1M455.02 232.7V235.1M455.62 232.7V235.1M456.72 232.7V235.1M457.42 232.7V235.1M458.22 232.7V234.3M463.62 232.7V234.3M475.7 232.7V233.8M478.37 232.7V233.8M480.27 232.7V233.8M481.74 232.7V233.8M482.95 232.7V233.8M483.97 232.7V233.8M484.85 232.7V233.8M485.62 232.7V233.8M491.1 232.7V233.8M493.77 232.7V233.8M495.67 232.7V233.8M497.14 232.7V233.8M498.35 232.7V233.8M499.37 232.7V233.8M500.25 232.7V233.8M501.02 232.7V233.8" stroke="#222" stroke-width="0.7" fill="none"/>
<text x="441.82" y="235.6" font-size="6.4" text-anchor="end" fill="#2a2a2a" stroke="#2a2a2a" stroke-width="0.18">0</text>
<text x="441.82" y="224.3" font-size="6.4" text-anchor="end" fill="#2a2a2a" stroke="#2a2a2a" stroke-width="0.18">20</text>
<text x="441.82" y="213" font-size="6.4" text-anchor="end" fill="#2a2a2a" stroke="#2a2a2a" stroke-width="0.18">40</text>
<text x="441.82" y="201.7" font-size="6.4" text-anchor="end" fill="#2a2a2a" stroke="#2a2a2a" stroke-width="0.18">60</text>
<text x="441.82" y="190.4" font-size="6.4" text-anchor="end" fill="#2a2a2a" stroke="#2a2a2a" stroke-width="0.18">80</text>
<text x="441.82" y="179.1" font-size="6.4" text-anchor="end" fill="#2a2a2a" stroke="#2a2a2a" stroke-width="0.18">100</text>
<text x="478.12" y="161.2" font-size="6.2" text-anchor="middle" fill="#2a2a2a" stroke="#2a2a2a" stroke-width="0.08">pro-B-ALL</text>
<text x="478.12" y="168.6" font-size="6.2" text-anchor="middle" fill="#2a2a2a" stroke="#2a2a2a" stroke-width="0.08">MLLr</text>
<text transform="translate(27.2,203.15) rotate(-90)" x="0" y="0" font-size="8.4" text-anchor="middle" font-weight="bold" textLength="44.8" lengthAdjust="spacingAndGlyphs" fill="#2a2a2a" >Normalized mode</text>
<g fill="none" stroke-linejoin="round">
<polyline points="53.2,319.2 53.5,319.2 53.8,319.2 54.1,319.2 54.4,319.0 54.7,318.7 55.0,318.5 55.3,318.3 55.6,317.9 55.9,317.5 56.2,317.1 56.5,316.6 56.8,316.4 57.1,316.1 57.4,315.1 57.7,313.9 58.0,312.5 58.3,311.4 58.6,310.3 58.9,308.2 59.2,305.4 59.5,303.6 59.8,302.1 60.1,300.6 60.4,299.2 60.7,296.1 61.0,293.1 61.3,291.2 61.6,289.4 61.9,288.3 62.2,287.5 62.5,285.3 62.8,281.5 63.1,278.9 63.4,279.2 63.7,279.0 64.0,276.7 64.3,275.2 64.6,275.8 64.9,276.5 65.2,276.6 65.5,277.0 65.8,278.8 66.1,281.1 66.4,281.1 66.7,280.6 67.0,283.0 67.3,286.9 67.6,289.3 67.9,290.8 68.2,292.7 68.5,294.4 68.8,296.7 69.1,299.8 69.4,301.6 69.7,302.4 70.0,304.1 70.3,305.9 70.6,307.1 70.9,308.3 71.2,309.9 71.5,311.2 71.8,312.3 72.1,313.7 72.4,314.7 72.7,315.1 73.0,315.7 73.3,316.5 73.6,317.1 73.9,317.4 74.2,317.9 74.5,318.3 74.8,318.5 75.1,318.6 75.4,318.7 75.7,318.8 76.0,318.9 76.3,319.0 76.6,319.1 76.9,319.2 77.2,319.2" stroke="#55a8d6" stroke-width="0.85"/>
<polyline points="55.0,319.2 55.3,319.1 55.6,319.0 55.9,318.9 56.2,318.5 56.5,317.9 56.8,316.9 57.1,315.6 57.4,313.9 57.7,312.2 58.0,309.9 58.3,306.7 58.6,303.6 58.9,299.8 59.2,295.2 59.5,290.4 59.8,284.9 60.1,281.7 60.4,281.3 60.7,277.7 61.0,272.1 61.3,270.6 61.6,271.9 61.9,273.0 62.2,272.7 62.5,272.6 62.8,274.3 63.1,275.8 63.4,276.2 63.7,277.4 64.0,280.4 64.3,283.8 64.6,285.8 64.9,287.3 65.2,290.7 65.5,294.6 65.8,297.0 66.1,298.9 66.4,300.6 66.7,302.6 67.0,304.4 67.3,305.6 67.6,307.2 67.9,308.7 68.2,310.3 68.5,312.4 68.8,313.7 69.1,314.7 69.4,316.2 69.7,317.3 70.0,317.5 70.3,317.4 70.6,317.8 70.9,318.2 71.2,318.2 71.5,318.4 71.8,319.0 72.1,319.2 72.4,319.1 72.7,319.2 73.0,319.2 73.3,319.1 73.6,319.2 73.9,319.2" stroke="#f2a93a" stroke-width="0.85"/>
<polyline points="53.8,319.2 54.1,319.2 54.4,319.2 54.7,319.2 55.0,319.2 55.3,318.9 55.6,318.6 55.9,318.5 56.2,318.5 56.5,318.2 56.8,317.6 57.1,316.5 57.4,315.5 57.7,314.8 58.0,313.2 58.3,311.6 58.6,310.2 58.9,307.7 59.2,304.1 59.5,299.9 59.8,296.8 60.1,294.8 60.4,292.3 60.7,289.6 61.0,286.0 61.3,282.3 61.6,279.6 61.9,277.0 62.2,274.9 62.5,273.4 62.8,272.8 63.1,274.0 63.4,275.8 63.7,276.8 64.0,277.3 64.3,278.5 64.6,280.3 64.9,281.7 65.2,283.5 65.5,285.1 65.8,287.2 66.1,290.1 66.4,292.5 66.7,294.9 67.0,296.7 67.3,298.1 67.6,301.3 67.9,304.2 68.2,305.0 68.5,306.3 68.8,308.4 69.1,310.3 69.4,311.8 69.7,312.5 70.0,312.8 70.3,313.5 70.6,315.1 70.9,316.4 71.2,317.1 71.5,317.6 71.8,318.1 72.1,318.4 72.4,318.5 72.7,318.7 73.0,318.9 73.3,319.0 73.6,319.1 73.9,319.2 74.2,319.2 74.5,319.2" stroke="#4aa85a" stroke-width="0.85"/>
<polyline points="55.6,319.2 55.9,319.2 56.2,318.6 56.5,317.5 56.8,316.5 57.1,315.3 57.4,312.8 57.7,308.8 58.0,304.3 58.3,299.6 58.6,294.5 58.9,288.5 59.2,282.2 59.5,275.8 59.8,271.0 60.1,269.1 60.4,268.2 60.7,268.0 61.0,269.4 61.3,271.1 61.6,272.7 61.9,274.4 62.2,276.7 62.5,280.3 62.8,284.4 63.1,287.3 63.4,289.9 63.7,293.3 64.0,297.0 64.3,299.9 64.6,302.2 64.9,304.7 65.2,307.1 65.5,308.9 65.8,310.5 66.1,312.6 66.4,314.9 66.7,316.1 67.0,316.6 67.3,317.1 67.6,317.8 67.9,318.3 68.2,318.4 68.5,318.5 68.8,318.7 69.1,319.1 69.4,319.2 69.7,319.2" stroke="#27365e" stroke-width="0.85"/>
<polyline points="53.5,319.2 53.8,319.2 54.1,318.9 54.4,318.2 54.7,316.9 55.0,314.7 55.3,310.7 55.6,305.1 55.9,297.5 56.2,288.6 56.5,279.7 56.8,270.1 57.1,263.6 57.4,263.0 57.7,265.0 58.0,267.1 58.3,268.7 58.6,270.3 58.9,273.1 59.2,277.0 59.5,281.8 59.8,285.9 60.1,289.2 60.4,292.7 60.7,296.6 61.0,300.6 61.3,303.9 61.6,306.2 61.9,308.6 62.2,310.9 62.5,312.9 62.8,314.8 63.1,316.0 63.4,316.8 63.7,317.4 64.0,318.0 64.3,318.6 64.6,319.0 64.9,319.2" stroke="#c4325c" stroke-width="0.85"/>
</g>
<rect x="49.6" y="260.4" width="60" height="59.1" fill="none" stroke="#1a1a1a" stroke-width="1.05"/>
<path d="M46.6 319.5H49.6M48.2 317.24H49.6M48.2 314.98H49.6M48.2 312.72H49.6M48.2 310.46H49.6M46.6 308.2H49.6M48.2 305.94H49.6M48.2 303.68H49.6M48.2 301.42H49.6M48.2 299.16H49.6M46.6 296.9H49.6M48.2 294.64H49.6M48.2 292.38H49.6M48.2 290.12H49.6M48.2 287.86H49.6M46.6 285.6H49.6M48.2 283.34H49.6M48.2 281.08H49.6M48.2 278.82H49.6M48.2 276.56H49.6M46.6 274.3H49.6M48.2 272.04H49.6M48.2 269.78H49.6M48.2 267.52H49.6M48.2 265.26H49.6M46.6 263H49.6M57.6 319.5V322.3M72.6 319.5V321.7M88 319.5V321.7M103 319.5V321.7M54.9 319.5V321.1M55.7 319.5V321.9M56.5 319.5V321.9M57.1 319.5V321.9M58.2 319.5V321.9M58.9 319.5V321.9M59.7 319.5V321.1M65.1 319.5V321.1M77.18 319.5V320.6M79.85 319.5V320.6M81.75 319.5V320.6M83.22 319.5V320.6M84.43 319.5V320.6M85.45 319.5V320.6M86.33 319.5V320.6M87.1 319.5V320.6M92.58 319.5V320.6M95.25 319.5V320.6M97.15 319.5V320.6M98.62 319.5V320.6M99.83 319.5V320.6M100.85 319.5V320.6M101.73 319.5V320.6M102.5 319.5V320.6" stroke="#222" stroke-width="0.7" fill="none"/>
<text x="43.3" y="322.4" font-size="6.4" text-anchor="end" fill="#2a2a2a" stroke="#2a2a2a" stroke-width="0.18">0</text>
<text x="43.3" y="311.1" font-size="6.4" text-anchor="end" fill="#2a2a2a" stroke="#2a2a2a" stroke-width="0.18">20</text>
<text x="43.3" y="299.8" font-size="6.4" text-anchor="end" fill="#2a2a2a" stroke="#2a2a2a" stroke-width="0.18">40</text>
<text x="43.3" y="288.5" font-size="6.4" text-anchor="end" fill="#2a2a2a" stroke="#2a2a2a" stroke-width="0.18">60</text>
<text x="43.3" y="277.2" font-size="6.4" text-anchor="end" fill="#2a2a2a" stroke="#2a2a2a" stroke-width="0.18">80</text>
<text x="43.3" y="265.9" font-size="6.4" text-anchor="end" fill="#2a2a2a" stroke="#2a2a2a" stroke-width="0.18">100</text>
<text x="79.6" y="248" font-size="6.2" text-anchor="middle" fill="#2a2a2a" stroke="#2a2a2a" stroke-width="0.08">Pre-B-ALL</text>
<text x="79.6" y="255.4" font-size="6.3" text-anchor="middle" textLength="59.5" lengthAdjust="spacingAndGlyphs" fill="#2a2a2a" stroke="#2a2a2a" stroke-width="0.08">E2A-PBX1 t(1;19) #1</text>
<g fill="none" stroke-linejoin="round">
<polyline points="153.7,319.2 154.0,319.1 154.3,318.9 154.6,318.8 154.9,318.7 155.2,318.3 155.5,317.6 155.8,317.1 156.1,316.6 156.4,315.9 156.7,315.3 157.0,314.4 157.3,312.5 157.6,310.5 157.9,308.8 158.2,306.9 158.5,304.4 158.8,301.4 159.1,298.8 159.4,295.5 159.7,291.4 160.0,288.9 160.3,287.3 160.6,284.1 160.9,280.2 161.2,277.9 161.5,275.2 161.8,271.8 162.1,270.4 162.4,270.7 162.7,271.9 163.0,272.6 163.3,272.5 163.6,273.8 163.9,275.4 164.2,275.5 164.5,275.0 164.8,277.9 165.1,282.4 165.4,284.3 165.7,285.3 166.0,287.6 166.3,291.1 166.6,294.0 166.9,296.5 167.2,299.4 167.5,301.7 167.8,303.1 168.1,304.9 168.4,306.8 168.7,308.6 169.0,310.8 169.3,312.5 169.6,313.3 169.9,314.0 170.2,314.6 170.5,315.2 170.8,315.9 171.1,316.6 171.4,317.1 171.7,317.5 172.0,318.0 172.3,318.3 172.6,318.6 172.9,319.0 173.2,319.2 173.5,319.2 173.8,319.1 174.1,319.2 174.4,319.2 174.7,319.2" stroke="#55a8d6" stroke-width="0.85"/>
<polyline points="153.1,319.2 153.4,319.1 153.7,318.9 154.0,318.7 154.3,318.5 154.6,318.1 154.9,317.4 155.2,316.6 155.5,315.1 155.8,313.6 156.1,312.9 156.4,311.3 156.7,308.3 157.0,305.4 157.3,302.5 157.6,298.9 157.9,296.1 158.2,293.7 158.5,290.5 158.8,287.7 159.1,284.8 159.4,282.3 159.7,280.6 160.0,279.8 160.3,279.0 160.6,277.6 160.9,278.1 161.2,278.9 161.5,278.4 161.8,279.5 162.1,282.0 162.4,283.2 162.7,284.0 163.0,285.1 163.3,286.1 163.6,287.8 163.9,289.1 164.2,290.7 164.5,292.6 164.8,293.2 165.1,294.1 165.4,296.3 165.7,298.4 166.0,299.7 166.3,300.8 166.6,302.3 166.9,303.9 167.2,304.7 167.5,305.0 167.8,305.3 168.1,306.2 168.4,308.3 168.7,310.3 169.0,311.0 169.3,311.5 169.6,312.0 169.9,312.9 170.2,314.6 170.5,315.0 170.8,315.0 171.1,315.7 171.4,316.6 171.7,317.3 172.0,317.6 172.3,317.6 172.6,317.9 172.9,318.4 173.2,318.7 173.5,318.9 173.8,318.9 174.1,319.0 174.4,319.1 174.7,319.2 175.0,319.2" stroke="#f2a93a" stroke-width="0.85"/>
<polyline points="152.2,319.2 152.5,319.2 152.8,319.1 153.1,319.2 153.4,319.2 153.7,318.8 154.0,318.3 154.3,318.1 154.6,317.6 154.9,316.7 155.2,315.6 155.5,314.4 155.8,313.1 156.1,310.8 156.4,307.4 156.7,304.5 157.0,301.7 157.3,297.4 157.6,293.3 157.9,290.6 158.2,287.6 158.5,282.4 158.8,278.8 159.1,278.5 159.4,277.3 159.7,274.9 160.0,273.8 160.3,273.7 160.6,274.5 160.9,276.2 161.2,277.6 161.5,278.4 161.8,279.1 162.1,280.7 162.4,282.9 162.7,284.2 163.0,284.6 163.3,286.0 163.6,288.5 163.9,290.1 164.2,291.5 164.5,292.9 164.8,293.9 165.1,295.7 165.4,297.6 165.7,299.0 166.0,299.9 166.3,300.7 166.6,301.6 166.9,302.4 167.2,303.8 167.5,305.8 167.8,307.2 168.1,308.0 168.4,309.3 168.7,311.2 169.0,312.3 169.3,313.4 169.6,314.7 169.9,315.1 170.2,315.5 170.5,316.5 170.8,317.0 171.1,317.2 171.4,317.5 171.7,317.6 172.0,317.8 172.3,318.4 172.6,318.8 172.9,318.7 173.2,318.7 173.5,319.1 173.8,319.2 174.1,319.1 174.4,319.1 174.7,319.2 175.0,319.2" stroke="#4aa85a" stroke-width="0.85"/>
<polyline points="152.8,319.2 153.1,319.2 153.4,319.0 153.7,318.7 154.0,318.3 154.3,317.6 154.6,316.3 154.9,314.9 155.2,312.7 155.5,308.4 155.8,303.9 156.1,300.7 156.4,296.1 156.7,290.3 157.0,283.9 157.3,277.2 157.6,272.1 157.9,269.6 158.2,269.6 158.5,269.2 158.8,267.8 159.1,268.2 159.4,270.5 159.7,272.6 160.0,274.2 160.3,277.4 160.6,281.3 160.9,284.8 161.2,289.2 161.5,292.9 161.8,296.0 162.1,299.2 162.4,301.3 162.7,302.9 163.0,305.4 163.3,308.0 163.6,309.8 163.9,311.2 164.2,312.8 164.5,314.6 164.8,316.1 165.1,316.7 165.4,317.1 165.7,317.7 166.0,318.3 166.3,318.7 166.6,318.8 166.9,318.7 167.2,319.0 167.5,319.2 167.8,319.2" stroke="#27365e" stroke-width="0.85"/>
<polyline points="153.1,319.2 153.4,319.2 153.7,319.2 154.0,318.8 154.3,318.1 154.6,317.1 154.9,316.1 155.2,314.6 155.5,312.0 155.8,308.6 156.1,304.2 156.4,299.2 156.7,294.0 157.0,287.5 157.3,281.0 157.6,275.7 157.9,269.8 158.2,266.0 158.5,265.6 158.8,266.4 159.1,268.9 159.4,271.2 159.7,272.5 160.0,275.4 160.3,279.3 160.6,282.1 160.9,284.0 161.2,287.1 161.5,291.5 161.8,294.8 162.1,297.8 162.4,301.5 162.7,304.3 163.0,306.4 163.3,308.7 163.6,311.0 163.9,312.4 164.2,313.0 164.5,314.1 164.8,315.6 165.1,316.6 165.4,317.1 165.7,317.7 166.0,318.1 166.3,318.2 166.6,318.5 166.9,318.8 167.2,319.0 167.5,319.2 167.8,319.2" stroke="#c4325c" stroke-width="0.85"/>
</g>
<rect x="149.23" y="260.4" width="60" height="59.1" fill="none" stroke="#1a1a1a" stroke-width="1.05"/>
<path d="M146.23 319.5H149.23M147.83 317.24H149.23M147.83 314.98H149.23M147.83 312.72H149.23M147.83 310.46H149.23M146.23 308.2H149.23M147.83 305.94H149.23M147.83 303.68H149.23M147.83 301.42H149.23M147.83 299.16H149.23M146.23 296.9H149.23M147.83 294.64H149.23M147.83 292.38H149.23M147.83 290.12H149.23M147.83 287.86H149.23M146.23 285.6H149.23M147.83 283.34H149.23M147.83 281.08H149.23M147.83 278.82H149.23M147.83 276.56H149.23M146.23 274.3H149.23M147.83 272.04H149.23M147.83 269.78H149.23M147.83 267.52H149.23M147.83 265.26H149.23M146.23 263H149.23M157.23 319.5V322.3M172.23 319.5V321.7M187.63 319.5V321.7M202.63 319.5V321.7M154.53 319.5V321.1M155.33 319.5V321.9M156.13 319.5V321.9M156.73 319.5V321.9M157.83 319.5V321.9M158.53 319.5V321.9M159.33 319.5V321.1M164.73 319.5V321.1M176.81 319.5V320.6M179.48 319.5V320.6M181.38 319.5V320.6M182.85 319.5V320.6M184.06 319.5V320.6M185.08 319.5V320.6M185.96 319.5V320.6M186.73 319.5V320.6M192.21 319.5V320.6M194.88 319.5V320.6M196.78 319.5V320.6M198.25 319.5V320.6M199.46 319.5V320.6M200.48 319.5V320.6M201.36 319.5V320.6M202.13 319.5V320.6" stroke="#222" stroke-width="0.7" fill="none"/>
<text x="142.93" y="322.4" font-size="6.4" text-anchor="end" fill="#2a2a2a" stroke="#2a2a2a" stroke-width="0.18">0</text>
<text x="142.93" y="311.1" font-size="6.4" text-anchor="end" fill="#2a2a2a" stroke="#2a2a2a" stroke-width="0.18">20</text>
<text x="142.93" y="299.8" font-size="6.4" text-anchor="end" fill="#2a2a2a" stroke="#2a2a2a" stroke-width="0.18">40</text>
<text x="142.93" y="288.5" font-size="6.4" text-anchor="end" fill="#2a2a2a" stroke="#2a2a2a" stroke-width="0.18">60</text>
<text x="142.93" y="277.2" font-size="6.4" text-anchor="end" fill="#2a2a2a" stroke="#2a2a2a" stroke-width="0.18">80</text>
<text x="142.93" y="265.9" font-size="6.4" text-anchor="end" fill="#2a2a2a" stroke="#2a2a2a" stroke-width="0.18">100</text>
<text x="179.23" y="248" font-size="6.2" text-anchor="middle" fill="#2a2a2a" stroke="#2a2a2a" stroke-width="0.08">Pre-B-ALL</text>
<text x="179.23" y="255.4" font-size="6.3" text-anchor="middle" textLength="59.5" lengthAdjust="spacingAndGlyphs" fill="#2a2a2a" stroke="#2a2a2a" stroke-width="0.08">E2A-PBX1 t(1;19) #2</text>
<g fill="none" stroke-linejoin="round">
<polyline points="253.7,319.2 254.0,319.2 254.3,319.0 254.6,318.7 254.9,318.5 255.2,318.3 255.5,317.6 255.8,316.9 256.1,316.4 256.4,315.7 256.7,314.9 257.0,313.4 257.3,311.9 257.6,310.8 257.9,309.4 258.2,308.1 258.5,306.6 258.8,303.8 259.1,301.1 259.4,299.6 259.7,296.9 260.0,292.7 260.3,290.0 260.6,288.4 260.9,286.7 261.2,284.6 261.5,281.5 261.8,279.7 262.1,278.9 262.4,278.3 262.7,278.4 263.0,278.0 263.3,277.4 263.6,277.2 263.9,276.7 264.2,276.2 264.5,276.6 264.8,278.3 265.1,281.0 265.4,282.3 265.7,283.6 266.0,287.2 266.3,290.0 266.6,290.7 266.9,292.0 267.2,294.2 267.5,296.3 267.8,298.6 268.1,301.1 268.4,303.5 268.7,305.0 269.0,306.4 269.3,308.4 269.6,309.3 269.9,310.2 270.2,312.0 270.5,313.1 270.8,313.3 271.1,314.6 271.4,316.2 271.7,316.9 272.0,317.3 272.3,317.8 272.6,317.8 272.9,317.8 273.2,318.5 273.5,318.9 273.8,318.9 274.1,319.0 274.4,319.2 274.7,319.2" stroke="#55a8d6" stroke-width="0.85"/>
<polyline points="254.3,319.2 254.6,319.2 254.9,318.9 255.2,318.6 255.5,318.1 255.8,317.5 256.1,316.7 256.4,314.6 256.7,312.3 257.0,310.5 257.3,308.1 257.6,305.2 257.9,301.8 258.2,297.8 258.5,293.9 258.8,290.2 259.1,286.6 259.4,282.5 259.7,279.0 260.0,276.7 260.3,274.9 260.6,273.4 260.9,272.7 261.2,272.4 261.5,270.3 261.8,269.3 262.1,272.4 262.4,275.3 262.7,277.6 263.0,280.1 263.3,282.3 263.6,284.5 263.9,286.6 264.2,289.3 264.5,292.1 264.8,294.4 265.1,296.9 265.4,299.4 265.7,301.8 266.0,304.0 266.3,305.4 266.6,307.6 266.9,309.8 267.2,311.0 267.5,312.1 267.8,313.2 268.1,314.2 268.4,315.1 268.7,316.0 269.0,316.6 269.3,317.0 269.6,317.6 269.9,317.7 270.2,317.8 270.5,318.5 270.8,319.0 271.1,319.0 271.4,319.0 271.7,319.1 272.0,319.2 272.3,319.2" stroke="#f2a93a" stroke-width="0.85"/>
<polyline points="253.1,319.2 253.4,319.2 253.7,319.1 254.0,319.0 254.3,318.9 254.6,318.7 254.9,318.5 255.2,318.4 255.5,318.2 255.8,317.9 256.1,317.5 256.4,316.4 256.7,315.4 257.0,315.0 257.3,314.3 257.6,312.9 257.9,311.1 258.2,309.0 258.5,306.9 258.8,305.5 259.1,303.7 259.4,300.7 259.7,298.2 260.0,295.8 260.3,292.5 260.6,289.5 260.9,286.7 261.2,284.5 261.5,284.0 261.8,282.6 262.1,278.9 262.4,276.1 262.7,275.4 263.0,274.3 263.3,272.8 263.6,272.2 263.9,273.9 264.2,276.6 264.5,278.2 264.8,278.6 265.1,278.1 265.4,280.9 265.7,285.1 266.0,285.5 266.3,286.0 266.6,288.0 266.9,290.8 267.2,294.9 267.5,298.1 267.8,299.4 268.1,300.8 268.4,302.9 268.7,305.0 269.0,306.7 269.3,308.6 269.6,310.2 269.9,311.7 270.2,312.9 270.5,313.8 270.8,314.7 271.1,315.5 271.4,316.1 271.7,316.6 272.0,317.0 272.3,317.5 272.6,317.9 272.9,318.4 273.2,318.8 273.5,318.7 273.8,318.8 274.1,319.2 274.4,319.2 274.7,319.2 275.0,319.2 275.3,319.2 275.6,319.2" stroke="#4aa85a" stroke-width="0.85"/>
<polyline points="253.4,319.2 253.7,319.2 254.0,318.8 254.3,318.6 254.6,318.4 254.9,317.7 255.2,317.0 255.5,316.5 255.8,315.2 256.1,312.8 256.4,310.0 256.7,306.1 257.0,302.0 257.3,299.1 257.6,295.0 257.9,288.8 258.2,282.1 258.5,276.5 258.8,273.5 259.1,271.4 259.4,270.1 259.7,269.6 260.0,269.4 260.3,269.8 260.6,271.3 260.9,273.4 261.2,275.9 261.5,278.7 261.8,280.6 262.1,281.7 262.4,283.4 262.7,286.9 263.0,290.2 263.3,293.3 263.6,297.4 263.9,300.8 264.2,302.6 264.5,303.6 264.8,304.3 265.1,306.5 265.4,310.2 265.7,312.0 266.0,312.6 266.3,313.6 266.6,314.4 266.9,315.0 267.2,316.3 267.5,317.1 267.8,317.4 268.1,318.1 268.4,318.4 268.7,318.4 269.0,318.7 269.3,318.9 269.6,319.1 269.9,319.2 270.2,319.2 270.5,319.2" stroke="#27365e" stroke-width="0.85"/>
<polyline points="253.4,319.2 253.7,319.2 254.0,319.1 254.3,318.8 254.6,318.4 254.9,317.7 255.2,316.5 255.5,315.3 255.8,313.3 256.1,310.2 256.4,306.5 256.7,301.8 257.0,296.4 257.3,290.7 257.6,284.2 257.9,277.8 258.2,273.8 258.5,270.7 258.8,267.7 259.1,266.9 259.4,266.8 259.7,267.6 260.0,269.3 260.3,270.2 260.6,271.6 260.9,273.3 261.2,276.0 261.5,278.9 261.8,281.3 262.1,285.1 262.4,289.7 262.7,292.2 263.0,293.9 263.3,296.9 263.6,299.8 263.9,302.1 264.2,304.3 264.5,306.3 264.8,308.6 265.1,310.4 265.4,311.8 265.7,313.2 266.0,314.3 266.3,315.1 266.6,315.9 266.9,316.6 267.2,317.3 267.5,317.8 267.8,318.0 268.1,318.3 268.4,318.8 268.7,319.0 269.0,319.0 269.3,319.2 269.6,319.2 269.9,319.2" stroke="#c4325c" stroke-width="0.85"/>
</g>
<rect x="248.86" y="260.4" width="60" height="59.1" fill="none" stroke="#1a1a1a" stroke-width="1.05"/>
<path d="M245.86 319.5H248.86M247.46 317.24H248.86M247.46 314.98H248.86M247.46 312.72H248.86M247.46 310.46H248.86M245.86 308.2H248.86M247.46 305.94H248.86M247.46 303.68H248.86M247.46 301.42H248.86M247.46 299.16H248.86M245.86 296.9H248.86M247.46 294.64H248.86M247.46 292.38H248.86M247.46 290.12H248.86M247.46 287.86H248.86M245.86 285.6H248.86M247.46 283.34H248.86M247.46 281.08H248.86M247.46 278.82H248.86M247.46 276.56H248.86M245.86 274.3H248.86M247.46 272.04H248.86M247.46 269.78H248.86M247.46 267.52H248.86M247.46 265.26H248.86M245.86 263H248.86M256.86 319.5V322.3M271.86 319.5V321.7M287.26 319.5V321.7M302.26 319.5V321.7M254.16 319.5V321.1M254.96 319.5V321.9M255.76 319.5V321.9M256.36 319.5V321.9M257.46 319.5V321.9M258.16 319.5V321.9M258.96 319.5V321.1M264.36 319.5V321.1M276.44 319.5V320.6M279.11 319.5V320.6M281.01 319.5V320.6M282.48 319.5V320.6M283.69 319.5V320.6M284.71 319.5V320.6M285.59 319.5V320.6M286.36 319.5V320.6M291.84 319.5V320.6M294.51 319.5V320.6M296.41 319.5V320.6M297.88 319.5V320.6M299.09 319.5V320.6M300.11 319.5V320.6M300.99 319.5V320.6M301.76 319.5V320.6" stroke="#222" stroke-width="0.7" fill="none"/>
<text x="242.56" y="322.4" font-size="6.4" text-anchor="end" fill="#2a2a2a" stroke="#2a2a2a" stroke-width="0.18">0</text>
<text x="242.56" y="311.1" font-size="6.4" text-anchor="end" fill="#2a2a2a" stroke="#2a2a2a" stroke-width="0.18">20</text>
<text x="242.56" y="299.8" font-size="6.4" text-anchor="end" fill="#2a2a2a" stroke="#2a2a2a" stroke-width="0.18">40</text>
<text x="242.56" y="288.5" font-size="6.4" text-anchor="end" fill="#2a2a2a" stroke="#2a2a2a" stroke-width="0.18">60</text>
<text x="242.56" y="277.2" font-size="6.4" text-anchor="end" fill="#2a2a2a" stroke="#2a2a2a" stroke-width="0.18">80</text>
<text x="242.56" y="265.9" font-size="6.4" text-anchor="end" fill="#2a2a2a" stroke="#2a2a2a" stroke-width="0.18">100</text>
<text x="278.86" y="248" font-size="6.2" text-anchor="middle" fill="#2a2a2a" stroke="#2a2a2a" stroke-width="0.08">Pre-B-ALL</text>
<text x="278.86" y="255.4" font-size="6.3" text-anchor="middle" textLength="59.5" lengthAdjust="spacingAndGlyphs" fill="#2a2a2a" stroke="#2a2a2a" stroke-width="0.08">E2A-PBX1 t(1;19) #3</text>
<g fill="none" stroke-linejoin="round">
<polyline points="353.9,319.2 354.2,319.2 354.5,319.1 354.8,318.8 355.1,318.5 355.4,318.2 355.7,317.7 356.0,316.9 356.3,316.2 356.6,315.7 356.9,314.9 357.2,313.5 357.5,311.6 357.8,309.5 358.1,307.9 358.4,305.9 358.7,302.5 359.0,299.2 359.3,296.4 359.6,293.0 359.9,289.6 360.2,286.0 360.5,282.3 360.8,279.6 361.1,277.0 361.4,276.0 361.7,276.0 362.0,274.3 362.3,272.8 362.6,272.9 362.9,273.4 363.2,273.9 363.5,275.0 363.8,275.1 364.1,275.2 364.4,277.4 364.7,279.7 365.0,280.3 365.3,280.9 365.6,282.8 365.9,285.0 366.2,288.5 366.5,292.1 366.8,292.8 367.1,293.2 367.4,296.2 367.7,298.9 368.0,300.6 368.3,302.7 368.6,304.2 368.9,305.7 369.2,307.2 369.5,308.1 369.8,309.8 370.1,311.4 370.4,311.9 370.7,312.7 371.0,313.8 371.3,314.9 371.6,315.5 371.9,315.8 372.2,316.1 372.5,316.5 372.8,317.1 373.1,317.5 373.4,318.0 373.7,318.4 374.0,318.6 374.3,319.0 374.6,319.1 374.9,319.0 375.2,319.1 375.5,319.2 375.8,319.2 376.1,319.2 376.4,319.2 376.7,319.2 377.0,319.2 377.3,319.2" stroke="#55a8d6" stroke-width="0.85"/>
<polyline points="354.2,319.2 354.5,319.2 354.8,319.1 355.1,318.9 355.4,318.6 355.7,318.2 356.0,317.4 356.3,316.0 356.6,314.1 356.9,312.0 357.2,309.5 357.5,305.2 357.8,300.7 358.1,296.4 358.4,291.3 358.7,286.5 359.0,281.3 359.3,277.5 359.6,275.1 359.9,272.4 360.2,273.4 360.5,276.7 360.8,277.5 361.1,278.0 361.4,280.7 361.7,283.8 362.0,286.7 362.3,290.7 362.6,293.8 362.9,296.6 363.2,300.2 363.5,303.3 363.8,306.3 364.1,308.4 364.4,309.8 364.7,311.9 365.0,314.3 365.3,315.6 365.6,316.1 365.9,316.7 366.2,317.6 366.5,318.1 366.8,318.2 367.1,318.7 367.4,319.1 367.7,319.2" stroke="#f2a93a" stroke-width="0.85"/>
<polyline points="354.5,319.2 354.8,319.0 355.1,318.7 355.4,318.3 355.7,317.4 356.0,316.2 356.3,315.0 356.6,313.4 356.9,311.1 357.2,308.8 357.5,305.6 357.8,301.4 358.1,297.6 358.4,293.6 358.7,288.4 359.0,283.9 359.3,280.1 359.6,275.1 359.9,271.5 360.2,271.3 360.5,272.5 360.8,274.9 361.1,277.6 361.4,277.3 361.7,277.0 362.0,280.2 362.3,284.5 362.6,288.7 362.9,292.0 363.2,294.0 363.5,296.3 363.8,299.2 364.1,302.1 364.4,304.7 364.7,307.8 365.0,310.8 365.3,312.4 365.6,313.1 365.9,314.2 366.2,315.5 366.5,316.5 366.8,317.4 367.1,317.9 367.4,318.4 367.7,318.9 368.0,319.2 368.3,319.2 368.6,319.2 368.9,319.2 369.2,319.2" stroke="#4aa85a" stroke-width="0.85"/>
<polyline points="354.5,319.2 354.8,319.2 355.1,319.0 355.4,318.7 355.7,317.9 356.0,316.8 356.3,315.7 356.6,313.7 356.9,310.9 357.2,307.9 357.5,304.3 357.8,299.0 358.1,292.5 358.4,286.7 358.7,282.0 359.0,277.6 359.3,273.8 359.6,272.4 359.9,273.5 360.2,273.2 360.5,271.6 360.8,272.6 361.1,275.0 361.4,278.6 361.7,282.5 362.0,285.7 362.3,289.3 362.6,292.4 362.9,295.6 363.2,299.7 363.5,303.2 363.8,305.8 364.1,308.2 364.4,310.2 364.7,311.7 365.0,313.3 365.3,314.8 365.6,315.9 365.9,316.8 366.2,317.5 366.5,318.1 366.8,318.4 367.1,318.7 367.4,319.0 367.7,319.1 368.0,319.2 368.3,319.2" stroke="#27365e" stroke-width="0.85"/>
<polyline points="355.4,319.2 355.7,319.2 356.0,319.0 356.3,318.3 356.6,316.7 356.9,313.9 357.2,309.9 357.5,305.3 357.8,299.7 358.1,291.8 358.4,281.8 358.7,272.8 359.0,267.0 359.3,265.0 359.6,266.2 359.9,268.4 360.2,271.0 360.5,275.2 360.8,282.1 361.1,288.3 361.4,293.4 361.7,299.4 362.0,304.7 362.3,308.6 362.6,311.4 362.9,313.8 363.2,315.8 363.5,317.1 363.8,318.0 364.1,318.5 364.4,318.9 364.7,319.2 365.0,319.2 365.3,319.2" stroke="#c4325c" stroke-width="0.85"/>
</g>
<rect x="348.49" y="260.4" width="60" height="59.1" fill="none" stroke="#1a1a1a" stroke-width="1.05"/>
<path d="M345.49 319.5H348.49M347.09 317.24H348.49M347.09 314.98H348.49M347.09 312.72H348.49M347.09 310.46H348.49M345.49 308.2H348.49M347.09 305.94H348.49M347.09 303.68H348.49M347.09 301.42H348.49M347.09 299.16H348.49M345.49 296.9H348.49M347.09 294.64H348.49M347.09 292.38H348.49M347.09 290.12H348.49M347.09 287.86H348.49M345.49 285.6H348.49M347.09 283.34H348.49M347.09 281.08H348.49M347.09 278.82H348.49M347.09 276.56H348.49M345.49 274.3H348.49M347.09 272.04H348.49M347.09 269.78H348.49M347.09 267.52H348.49M347.09 265.26H348.49M345.49 263H348.49M356.49 319.5V322.3M371.49 319.5V321.7M386.89 319.5V321.7M401.89 319.5V321.7M353.79 319.5V321.1M354.59 319.5V321.9M355.39 319.5V321.9M355.99 319.5V321.9M357.09 319.5V321.9M357.79 319.5V321.9M358.59 319.5V321.1M363.99 319.5V321.1M376.07 319.5V320.6M378.74 319.5V320.6M380.64 319.5V320.6M382.11 319.5V320.6M383.32 319.5V320.6M384.34 319.5V320.6M385.22 319.5V320.6M385.99 319.5V320.6M391.47 319.5V320.6M394.14 319.5V320.6M396.04 319.5V320.6M397.51 319.5V320.6M398.72 319.5V320.6M399.74 319.5V320.6M400.62 319.5V320.6M401.39 319.5V320.6" stroke="#222" stroke-width="0.7" fill="none"/>
<text x="342.19" y="322.4" font-size="6.4" text-anchor="end" fill="#2a2a2a" stroke="#2a2a2a" stroke-width="0.18">0</text>
<text x="342.19" y="311.1" font-size="6.4" text-anchor="end" fill="#2a2a2a" stroke="#2a2a2a" stroke-width="0.18">20</text>
<text x="342.19" y="299.8" font-size="6.4" text-anchor="end" fill="#2a2a2a" stroke="#2a2a2a" stroke-width="0.18">40</text>
<text x="342.19" y="288.5" font-size="6.4" text-anchor="end" fill="#2a2a2a" stroke="#2a2a2a" stroke-width="0.18">60</text>
<text x="342.19" y="277.2" font-size="6.4" text-anchor="end" fill="#2a2a2a" stroke="#2a2a2a" stroke-width="0.18">80</text>
<text x="342.19" y="265.9" font-size="6.4" text-anchor="end" fill="#2a2a2a" stroke="#2a2a2a" stroke-width="0.18">100</text>
<text x="378.49" y="248" font-size="6.2" text-anchor="middle" fill="#2a2a2a" stroke="#2a2a2a" stroke-width="0.08">Pre-B-ALL</text>
<text x="378.49" y="255.4" font-size="6.3" text-anchor="middle" textLength="59.5" lengthAdjust="spacingAndGlyphs" fill="#2a2a2a" stroke="#2a2a2a" stroke-width="0.08">E2A-PBX1 t(1;19) #4</text>
<g fill="none" stroke-linejoin="round">
<polyline points="452.3,319.2 452.6,319.2 452.9,319.2 453.2,319.1 453.5,318.5 453.8,318.1 454.1,318.0 454.4,317.4 454.7,316.2 455.0,314.8 455.3,313.3 455.6,311.7 455.9,310.0 456.2,308.4 456.5,306.3 456.8,302.8 457.1,298.9 457.4,295.7 457.7,293.0 458.0,290.1 458.3,286.7 458.6,284.0 458.9,282.8 459.2,281.5 459.5,280.9 459.8,281.3 460.1,281.5 460.4,281.9 460.7,282.6 461.0,282.8 461.3,283.6 461.6,285.8 461.9,288.1 462.2,289.6 462.5,290.3 462.8,291.8 463.1,294.1 463.4,295.7 463.7,297.9 464.0,299.9 464.3,301.1 464.6,302.7 464.9,303.9 465.2,305.6 465.5,308.0 465.8,309.5 466.1,310.3 466.4,311.2 466.7,312.5 467.0,313.4 467.3,314.0 467.6,315.2 467.9,316.0 468.2,316.1 468.5,316.7 468.8,317.3 469.1,317.5 469.4,318.0 469.7,318.3 470.0,318.4 470.3,318.7 470.6,318.9 470.9,318.9 471.2,319.1 471.5,319.2 471.8,319.2" stroke="#55a8d6" stroke-width="0.85"/>
<polyline points="453.2,319.2 453.5,319.2 453.8,318.7 454.1,318.3 454.4,317.8 454.7,317.2 455.0,316.1 455.3,313.9 455.6,311.5 455.9,309.2 456.2,306.1 456.5,302.7 456.8,299.1 457.1,294.2 457.4,290.4 457.7,287.9 458.0,283.4 458.3,278.9 458.6,277.4 458.9,278.1 459.2,279.1 459.5,278.9 459.8,279.7 460.1,281.1 460.4,281.7 460.7,284.2 461.0,287.8 461.3,289.9 461.6,290.2 461.9,291.7 462.2,294.0 462.5,296.1 462.8,298.9 463.1,302.0 463.4,304.3 463.7,306.3 464.0,308.2 464.3,310.2 464.6,311.2 464.9,311.9 465.2,313.5 465.5,315.0 465.8,315.9 466.1,316.8 466.4,317.4 466.7,317.4 467.0,317.7 467.3,318.0 467.6,318.1 467.9,318.5 468.2,318.8 468.5,318.9 468.8,319.1 469.1,319.2" stroke="#f2a93a" stroke-width="0.85"/>
<polyline points="452.6,319.2 452.9,319.2 453.2,319.0 453.5,318.5 453.8,318.0 454.1,317.7 454.4,317.3 454.7,316.3 455.0,315.0 455.3,313.1 455.6,311.2 455.9,309.6 456.2,306.6 456.5,302.8 456.8,299.3 457.1,295.6 457.4,292.2 457.7,290.0 458.0,287.3 458.3,284.5 458.6,283.1 458.9,282.0 459.2,281.3 459.5,280.8 459.8,280.0 460.1,280.3 460.4,283.0 460.7,285.2 461.0,285.8 461.3,286.9 461.6,288.2 461.9,289.6 462.2,292.1 462.5,295.1 462.8,296.4 463.1,297.7 463.4,300.6 463.7,302.6 464.0,304.7 464.3,307.5 464.6,309.1 464.9,310.2 465.2,310.9 465.5,311.6 465.8,313.4 466.1,314.3 466.4,314.5 466.7,315.6 467.0,316.9 467.3,317.7 467.6,318.0 467.9,317.9 468.2,318.3 468.5,318.9 468.8,319.0 469.1,318.9 469.4,318.9 469.7,318.9 470.0,319.2 470.3,319.2 470.6,319.2 470.9,319.2" stroke="#4aa85a" stroke-width="0.85"/>
<polyline points="452.9,319.2 453.2,319.1 453.5,319.0 453.8,318.7 454.1,318.2 454.4,317.5 454.7,316.3 455.0,314.2 455.3,312.0 455.6,309.4 455.9,305.2 456.2,300.7 456.5,296.0 456.8,290.2 457.1,285.6 457.4,281.4 457.7,276.8 458.0,274.7 458.3,274.7 458.6,274.6 458.9,274.1 459.2,274.4 459.5,277.3 459.8,280.4 460.1,282.7 460.4,286.1 460.7,288.6 461.0,291.2 461.3,294.3 461.6,295.6 461.9,297.8 462.2,300.6 462.5,302.4 462.8,304.3 463.1,306.8 463.4,309.2 463.7,311.2 464.0,312.7 464.3,313.5 464.6,314.3 464.9,315.6 465.2,316.0 465.5,316.3 465.8,317.3 466.1,318.0 466.4,318.3 466.7,318.5 467.0,318.7 467.3,319.0 467.6,319.2 467.9,319.2 468.2,319.2 468.5,319.2 468.8,319.2" stroke="#27365e" stroke-width="0.85"/>
<polyline points="452.9,319.2 453.2,319.2 453.5,318.8 453.8,318.0 454.1,316.7 454.4,314.4 454.7,311.8 455.0,308.7 455.3,303.1 455.6,295.8 455.9,287.6 456.2,279.2 456.5,271.6 456.8,265.9 457.1,264.1 457.4,265.0 457.7,267.0 458.0,269.5 458.3,271.5 458.6,275.6 458.9,280.9 459.2,284.4 459.5,287.9 459.8,293.3 460.1,298.2 460.4,300.5 460.7,303.1 461.0,306.8 461.3,309.6 461.6,311.7 461.9,313.5 462.2,314.8 462.5,316.3 462.8,317.4 463.1,317.8 463.4,318.1 463.7,318.6 464.0,319.0 464.3,319.2 464.6,319.2" stroke="#c4325c" stroke-width="0.85"/>
</g>
<rect x="448.12" y="260.4" width="60" height="59.1" fill="none" stroke="#1a1a1a" stroke-width="1.05"/>
<path d="M445.12 319.5H448.12M446.72 317.24H448.12M446.72 314.98H448.12M446.72 312.72H448.12M446.72 310.46H448.12M445.12 308.2H448.12M446.72 305.94H448.12M446.72 303.68H448.12M446.72 301.42H448.12M446.72 299.16H448.12M445.12 296.9H448.12M446.72 294.64H448.12M446.72 292.38H448.12M446.72 290.12H448.12M446.72 287.86H448.12M445.12 285.6H448.12M446.72 283.34H448.12M446.72 281.08H448.12M446.72 278.82H448.12M446.72 276.56H448.12M445.12 274.3H448.12M446.72 272.04H448.12M446.72 269.78H448.12M446.72 267.52H448.12M446.72 265.26H448.12M445.12 263H448.12M456.12 319.5V322.3M471.12 319.5V321.7M486.52 319.5V321.7M501.52 319.5V321.7M453.42 319.5V321.1M454.22 319.5V321.9M455.02 319.5V321.9M455.62 319.5V321.9M456.72 319.5V321.9M457.42 319.5V321.9M458.22 319.5V321.1M463.62 319.5V321.1M475.7 319.5V320.6M478.37 319.5V320.6M480.27 319.5V320.6M481.74 319.5V320.6M482.95 319.5V320.6M483.97 319.5V320.6M484.85 319.5V320.6M485.62 319.5V320.6M491.1 319.5V320.6M493.77 319.5V320.6M495.67 319.5V320.6M497.14 319.5V320.6M498.35 319.5V320.6M499.37 319.5V320.6M500.25 319.5V320.6M501.02 319.5V320.6" stroke="#222" stroke-width="0.7" fill="none"/>
<text x="441.82" y="322.4" font-size="6.4" text-anchor="end" fill="#2a2a2a" stroke="#2a2a2a" stroke-width="0.18">0</text>
<text x="441.82" y="311.1" font-size="6.4" text-anchor="end" fill="#2a2a2a" stroke="#2a2a2a" stroke-width="0.18">20</text>
<text x="441.82" y="299.8" font-size="6.4" text-anchor="end" fill="#2a2a2a" stroke="#2a2a2a" stroke-width="0.18">40</text>
<text x="441.82" y="288.5" font-size="6.4" text-anchor="end" fill="#2a2a2a" stroke="#2a2a2a" stroke-width="0.18">60</text>
<text x="441.82" y="277.2" font-size="6.4" text-anchor="end" fill="#2a2a2a" stroke="#2a2a2a" stroke-width="0.18">80</text>
<text x="441.82" y="265.9" font-size="6.4" text-anchor="end" fill="#2a2a2a" stroke="#2a2a2a" stroke-width="0.18">100</text>
<text x="478.12" y="248" font-size="6.2" text-anchor="middle" fill="#2a2a2a" stroke="#2a2a2a" stroke-width="0.08">Pre-B-ALL</text>
<text x="478.12" y="255.4" font-size="6.3" text-anchor="middle" textLength="59.5" lengthAdjust="spacingAndGlyphs" fill="#2a2a2a" stroke="#2a2a2a" stroke-width="0.08">E2A-PBX1 t(1;19) #5</text>
<text transform="translate(27.2,289.95) rotate(-90)" x="0" y="0" font-size="8.4" text-anchor="middle" font-weight="bold" textLength="44.8" lengthAdjust="spacingAndGlyphs" fill="#2a2a2a" >Normalized mode</text>
<line x1="50" y1="328.5" x2="503" y2="328.5" stroke="#222" stroke-width="1" />
<path d="M502 326.5 L507.6 328.5 L502 330.5 Z" fill="#222"/>
<text x="251.5" y="336.8" font-size="6.2" textLength="24.5" lengthAdjust="spacingAndGlyphs" >pPLCG2</text>
<text x="6.9" y="355.6" font-size="11.2" font-weight="bold" fill="#111" stroke="#111" stroke-width="0.25">C</text>
<g fill="none" stroke-linejoin="round">
<polyline points="63.7,432.4 64.0,432.4 64.3,432.3 64.6,432.1 64.9,432.0 65.2,431.9 65.5,431.7 65.8,431.4 66.1,431.0 66.4,430.5 66.7,430.0 67.0,429.6 67.3,429.3 67.6,428.9 67.9,428.0 68.2,427.1 68.5,426.1 68.8,424.3 69.1,421.9 69.4,420.1 69.7,418.9 70.0,416.9 70.3,414.2 70.6,412.0 70.9,410.0 71.2,408.1 71.5,406.3 71.8,403.8 72.1,402.2 72.4,400.7 72.7,397.6 73.0,393.9 73.3,391.2 73.6,389.8 73.9,387.8 74.2,385.3 74.5,383.1 74.8,380.4 75.1,379.2 75.4,379.3 75.7,379.5 76.0,380.8 76.3,382.2 76.6,382.2 76.9,382.6 77.2,386.5 77.5,392.9 77.8,397.5 78.1,399.8 78.4,402.4 78.7,406.5 79.0,411.4 79.3,415.0 79.6,417.7 79.9,420.6 80.2,422.6 80.5,424.3 80.8,426.2 81.1,427.7 81.4,429.1 81.7,430.3 82.0,430.8 82.3,431.1 82.6,431.5 82.9,432.0 83.2,432.2 83.5,432.3 83.8,432.4 84.1,432.4 84.4,432.4" stroke="#55a8d6" stroke-width="0.85"/>
<polyline points="54.4,432.4 54.7,432.4 55.0,432.3 55.3,432.0 55.6,431.9 55.9,432.0 56.2,431.9 56.5,431.8 56.8,431.7 57.1,431.5 57.4,431.5 57.7,431.4 58.0,431.1 58.3,430.5 58.6,430.1 58.9,430.1 59.2,429.8 59.5,429.0 59.8,428.6 60.1,428.0 60.4,427.0 60.7,426.1 61.0,425.6 61.3,425.4 61.6,424.7 61.9,423.5 62.2,421.5 62.5,419.3 62.8,417.9 63.1,417.1 63.4,416.2 63.7,415.2 64.0,414.1 64.3,412.3 64.6,409.4 64.9,406.9 65.2,406.2 65.5,404.8 65.8,402.4 66.1,400.5 66.4,398.7 66.7,397.6 67.0,396.1 67.3,392.6 67.6,389.6 67.9,388.1 68.2,387.7 68.5,387.7 68.8,385.9 69.1,384.5 69.4,384.0 69.7,383.6 70.0,382.5 70.3,380.8 70.6,381.1 70.9,382.0 71.2,382.6 71.5,382.7 71.8,382.4 72.1,384.4 72.4,387.8 72.7,389.8 73.0,391.7 73.3,395.2 73.6,398.6 73.9,400.7 74.2,404.2 74.5,408.5 74.8,411.4 75.1,413.7 75.4,416.4 75.7,419.0 76.0,421.1 76.3,423.0 76.6,424.6 76.9,425.7 77.2,427.0 77.5,428.4 77.8,429.4 78.1,430.2 78.4,430.9 78.7,431.3 79.0,431.4 79.3,431.7 79.6,432.2 79.9,432.3 80.2,432.3 80.5,432.4 80.8,432.4" stroke="#f2a93a" stroke-width="0.85"/>
<polyline points="54.1,432.4 54.4,432.4 54.7,432.3 55.0,432.3 55.3,432.4 55.6,432.2 55.9,432.0 56.2,431.9 56.5,431.9 56.8,431.9 57.1,431.7 57.4,431.4 57.7,431.3 58.0,430.9 58.3,430.5 58.6,430.2 58.9,430.0 59.2,429.6 59.5,428.9 59.8,427.9 60.1,427.2 60.4,426.9 60.7,426.5 61.0,425.6 61.3,424.3 61.6,423.2 61.9,422.0 62.2,420.4 62.5,418.9 62.8,417.7 63.1,416.7 63.4,415.5 63.7,413.7 64.0,411.7 64.3,410.4 64.6,409.1 64.9,407.7 65.2,406.3 65.5,404.3 65.8,401.4 66.1,398.9 66.4,397.2 66.7,396.0 67.0,394.4 67.3,391.9 67.6,390.2 67.9,390.4 68.2,389.7 68.5,387.3 68.8,384.3 69.1,382.8 69.4,383.8 69.7,382.9 70.0,380.2 70.3,379.2 70.6,378.4 70.9,377.7 71.2,377.2 71.5,378.3 71.8,382.2 72.1,384.4 72.4,385.3 72.7,388.9 73.0,391.8 73.3,393.4 73.6,397.4 73.9,401.4 74.2,404.1 74.5,407.3 74.8,411.2 75.1,414.0 75.4,415.8 75.7,418.2 76.0,420.5 76.3,421.8 76.6,423.4 76.9,425.4 77.2,426.7 77.5,427.8 77.8,428.9 78.1,429.7 78.4,430.4 78.7,430.7 79.0,430.9 79.3,431.4 79.6,431.9 79.9,432.2 80.2,432.4 80.5,432.4 80.8,432.4 81.1,432.4 81.4,432.4" stroke="#4aa85a" stroke-width="0.85"/>
<polyline points="51.1,432.4 51.4,432.4 51.7,432.4 52.0,432.4 52.3,432.3 52.6,432.1 52.9,432.1 53.2,432.3 53.5,432.2 53.8,432.0 54.1,432.0 54.4,431.9 54.7,431.4 55.0,431.1 55.3,431.1 55.6,430.8 55.9,430.6 56.2,430.7 56.5,430.3 56.8,429.7 57.1,429.0 57.4,428.2 57.7,427.9 58.0,427.5 58.3,427.1 58.6,426.7 58.9,425.8 59.2,425.1 59.5,424.5 59.8,422.9 60.1,421.5 60.4,421.0 60.7,420.1 61.0,419.1 61.3,418.4 61.6,417.4 61.9,416.3 62.2,414.9 62.5,412.9 62.8,410.8 63.1,409.2 63.4,406.7 63.7,404.7 64.0,404.0 64.3,402.6 64.6,401.1 64.9,399.8 65.2,397.8 65.5,395.9 65.8,394.1 66.1,393.5 66.4,393.3 66.7,391.5 67.0,391.0 67.3,390.6 67.6,388.6 67.9,388.0 68.2,386.8 68.5,385.0 68.8,385.3 69.1,385.3 69.4,384.8 69.7,385.2 70.0,385.9 70.3,386.3 70.6,387.3 70.9,387.8 71.2,388.4 71.5,390.9 71.8,393.4 72.1,395.5 72.4,398.5 72.7,401.0 73.0,404.5 73.3,408.0 73.6,408.9 73.9,410.9 74.2,415.1 74.5,417.9 74.8,419.7 75.1,421.6 75.4,423.1 75.7,424.3 76.0,425.5 76.3,426.8 76.6,427.8 76.9,428.6 77.2,429.7 77.5,430.5 77.8,431.0 78.1,431.5 78.4,431.7 78.7,431.9 79.0,432.1 79.3,432.1 79.6,432.1 79.9,432.2 80.2,432.4 80.5,432.4" stroke="#27365e" stroke-width="0.85"/>
<polyline points="49.6,431.0 49.9,430.5 50.2,429.8 50.5,429.1 50.8,428.2 51.1,427.2 51.4,426.2 51.7,425.3 52.0,423.9 52.3,422.1 52.6,420.0 52.9,417.6 53.2,415.5 53.5,413.9 53.8,412.2 54.1,409.7 54.4,406.6 54.7,402.8 55.0,399.1 55.3,396.2 55.6,393.8 55.9,391.9 56.2,390.2 56.5,389.0 56.8,386.7 57.1,383.5 57.4,382.8 57.7,383.0 58.0,381.3 58.3,381.6 58.6,382.2 58.9,380.4 59.2,379.6 59.5,381.1 59.8,382.7 60.1,382.5 60.4,383.5 60.7,386.4 61.0,388.4 61.3,389.8 61.6,391.3 61.9,392.7 62.2,395.5 62.5,399.1 62.8,401.7 63.1,404.1 63.4,406.4 63.7,409.0 64.0,411.2 64.3,412.5 64.6,413.8 64.9,414.9 65.2,416.5 65.5,419.5 65.8,421.8 66.1,422.4 66.4,423.5 66.7,425.0 67.0,426.0 67.3,427.0 67.6,427.7 67.9,427.9 68.2,428.0 68.5,428.4 68.8,429.3 69.1,430.3 69.4,430.7 69.7,430.7 70.0,431.0 70.3,431.5 70.6,432.0 70.9,432.1 71.2,432.0 71.5,432.0 71.8,432.1 72.1,432.2 72.4,432.4 72.7,432.4" stroke="#c4325c" stroke-width="0.85"/>
</g>
<rect x="49.6" y="373.6" width="60" height="59.1" fill="none" stroke="#1a1a1a" stroke-width="1.05"/>
<path d="M46.6 432.7H49.6M48.2 430.44H49.6M48.2 428.18H49.6M48.2 425.92H49.6M48.2 423.66H49.6M46.6 421.4H49.6M48.2 419.14H49.6M48.2 416.88H49.6M48.2 414.62H49.6M48.2 412.36H49.6M46.6 410.1H49.6M48.2 407.84H49.6M48.2 405.58H49.6M48.2 403.32H49.6M48.2 401.06H49.6M46.6 398.8H49.6M48.2 396.54H49.6M48.2 394.28H49.6M48.2 392.02H49.6M48.2 389.76H49.6M46.6 387.5H49.6M48.2 385.24H49.6M48.2 382.98H49.6M48.2 380.72H49.6M48.2 378.46H49.6M46.6 376.2H49.6M57.6 432.7V435.5M72.6 432.7V434.9M88 432.7V434.9M103 432.7V434.9M54.9 432.7V434.3M55.7 432.7V435.1M56.5 432.7V435.1M57.1 432.7V435.1M58.2 432.7V435.1M58.9 432.7V435.1M59.7 432.7V434.3M65.1 432.7V434.3M77.18 432.7V433.8M79.85 432.7V433.8M81.75 432.7V433.8M83.22 432.7V433.8M84.43 432.7V433.8M85.45 432.7V433.8M86.33 432.7V433.8M87.1 432.7V433.8M92.58 432.7V433.8M95.25 432.7V433.8M97.15 432.7V433.8M98.62 432.7V433.8M99.83 432.7V433.8M100.85 432.7V433.8M101.73 432.7V433.8M102.5 432.7V433.8" stroke="#222" stroke-width="0.7" fill="none"/>
<text x="43.3" y="435.6" font-size="6.4" text-anchor="end" fill="#2a2a2a" stroke="#2a2a2a" stroke-width="0.18">0</text>
<text x="43.3" y="424.3" font-size="6.4" text-anchor="end" fill="#2a2a2a" stroke="#2a2a2a" stroke-width="0.18">20</text>
<text x="43.3" y="413" font-size="6.4" text-anchor="end" fill="#2a2a2a" stroke="#2a2a2a" stroke-width="0.18">40</text>
<text x="43.3" y="401.7" font-size="6.4" text-anchor="end" fill="#2a2a2a" stroke="#2a2a2a" stroke-width="0.18">60</text>
<text x="43.3" y="390.4" font-size="6.4" text-anchor="end" fill="#2a2a2a" stroke="#2a2a2a" stroke-width="0.18">80</text>
<text x="43.3" y="379.1" font-size="6.4" text-anchor="end" fill="#2a2a2a" stroke="#2a2a2a" stroke-width="0.18">100</text>
<text x="79.6" y="361.2" font-size="6.2" text-anchor="middle" fill="#2a2a2a" stroke="#2a2a2a" stroke-width="0.08">ABL</text>
<text x="79.6" y="368.6" font-size="6.2" text-anchor="middle" fill="#2a2a2a" stroke="#2a2a2a" stroke-width="0.08">t(11;12)</text>
<g fill="none" stroke-linejoin="round">
<polyline points="158.5,432.4 158.8,432.4 159.1,432.3 159.4,432.3 159.7,432.3 160.0,432.1 160.3,432.0 160.6,432.0 160.9,431.7 161.2,431.7 161.5,431.8 161.8,431.4 162.1,430.7 162.4,430.5 162.7,430.4 163.0,430.0 163.3,429.4 163.6,429.0 163.9,428.7 164.2,428.2 164.5,427.5 164.8,427.0 165.1,426.5 165.4,425.3 165.7,423.7 166.0,422.3 166.3,420.9 166.6,419.7 166.9,419.9 167.2,419.3 167.5,416.4 167.8,414.8 168.1,415.0 168.4,413.7 168.7,410.8 169.0,409.2 169.3,408.6 169.6,406.7 169.9,404.5 170.2,403.1 170.5,401.5 170.8,399.5 171.1,397.8 171.4,396.2 171.7,394.4 172.0,392.9 172.3,391.8 172.6,390.7 172.9,389.1 173.2,386.7 173.5,383.9 173.8,382.8 174.1,384.2 174.4,385.4 174.7,384.0 175.0,382.0 175.3,383.0 175.6,385.7 175.9,387.0 176.2,388.8 176.5,391.4 176.8,393.7 177.1,396.7 177.4,399.7 177.7,403.2 178.0,407.3 178.3,410.3 178.6,413.2 178.9,416.6 179.2,419.1 179.5,420.8 179.8,423.1 180.1,425.2 180.4,426.8 180.7,427.7 181.0,428.2 181.3,429.4 181.6,430.3 181.9,430.6 182.2,430.9 182.5,431.5 182.8,432.1 183.1,432.3 183.4,432.3 183.7,432.3 184.0,432.4 184.3,432.4" stroke="#55a8d6" stroke-width="0.85"/>
<polyline points="160.3,432.4 160.6,432.4 160.9,432.3 161.2,432.0 161.5,431.9 161.8,431.9 162.1,432.0 162.4,432.1 162.7,432.0 163.0,431.8 163.3,431.6 163.6,431.6 163.9,431.5 164.2,431.3 164.5,431.3 164.8,431.2 165.1,431.0 165.4,430.5 165.7,429.7 166.0,429.3 166.3,428.9 166.6,428.8 166.9,429.0 167.2,428.1 167.5,427.2 167.8,426.8 168.1,425.7 168.4,424.3 168.7,423.6 169.0,423.0 169.3,422.2 169.6,421.6 169.9,420.6 170.2,419.7 170.5,419.0 170.8,417.6 171.1,416.4 171.4,415.3 171.7,413.4 172.0,411.9 172.3,411.5 172.6,410.7 172.9,408.0 173.2,405.8 173.5,405.5 173.8,406.3 174.1,405.1 174.4,401.4 174.7,399.5 175.0,398.2 175.3,395.7 175.6,394.1 175.9,393.6 176.2,393.0 176.5,391.5 176.8,389.6 177.1,387.8 177.4,386.7 177.7,386.5 178.0,386.6 178.3,385.0 178.6,382.7 178.9,382.6 179.2,382.7 179.5,384.5 179.8,384.9 180.1,381.4 180.4,380.5 180.7,383.7 181.0,386.6 181.3,387.9 181.6,389.5 181.9,391.7 182.2,394.6 182.5,396.3 182.8,397.4 183.1,400.8 183.4,405.7 183.7,409.0 184.0,411.4 184.3,413.0 184.6,414.5 184.9,417.8 185.2,420.5 185.5,421.1 185.8,422.2 186.1,424.0 186.4,425.9 186.7,427.2 187.0,428.0 187.3,429.0 187.6,430.2 187.9,430.9 188.2,431.1 188.5,431.4 188.8,431.6 189.1,431.7 189.4,431.9 189.7,432.1 190.0,432.2 190.3,432.4 190.6,432.4 190.9,432.4" stroke="#f2a93a" stroke-width="0.85"/>
<polyline points="159.4,432.4 159.7,432.4 160.0,432.4 160.3,432.4 160.6,432.4 160.9,432.4 161.2,432.3 161.5,432.1 161.8,432.0 162.1,432.1 162.4,432.2 162.7,432.0 163.0,431.8 163.3,431.6 163.6,431.2 163.9,431.0 164.2,431.1 164.5,430.9 164.8,430.4 165.1,430.2 165.4,430.1 165.7,429.9 166.0,429.3 166.3,428.4 166.6,427.9 166.9,427.7 167.2,427.3 167.5,426.8 167.8,426.4 168.1,425.8 168.4,425.0 168.7,424.0 169.0,422.9 169.3,421.9 169.6,421.5 169.9,421.0 170.2,419.6 170.5,418.4 170.8,417.5 171.1,416.2 171.4,415.4 171.7,413.9 172.0,412.0 172.3,411.9 172.6,410.6 172.9,407.5 173.2,405.5 173.5,404.3 173.8,402.5 174.1,401.0 174.4,399.6 174.7,398.1 175.0,397.2 175.3,396.7 175.6,395.5 175.9,392.8 176.2,389.5 176.5,388.5 176.8,388.4 177.1,386.7 177.4,386.3 177.7,385.2 178.0,384.2 178.3,386.0 178.6,385.9 178.9,384.2 179.2,383.8 179.5,383.6 179.8,383.9 180.1,384.4 180.4,383.7 180.7,382.8 181.0,384.7 181.3,387.8 181.6,389.8 181.9,392.2 182.2,395.5 182.5,398.2 182.8,400.2 183.1,403.7 183.4,406.6 183.7,408.7 184.0,411.7 184.3,413.6 184.6,415.6 184.9,419.4 185.2,422.4 185.5,423.7 185.8,424.9 186.1,425.9 186.4,427.0 186.7,428.2 187.0,429.1 187.3,429.7 187.6,430.3 187.9,430.8 188.2,431.3 188.5,431.8 188.8,432.0 189.1,432.0 189.4,432.3 189.7,432.4" stroke="#4aa85a" stroke-width="0.85"/>
<polyline points="158.5,432.4 158.8,432.4 159.1,432.4 159.4,432.4 159.7,432.3 160.0,432.3 160.3,432.3 160.6,432.2 160.9,432.0 161.2,431.9 161.5,431.6 161.8,431.1 162.1,430.8 162.4,430.6 162.7,430.3 163.0,430.0 163.3,429.5 163.6,428.8 163.9,428.0 164.2,427.8 164.5,427.7 164.8,426.6 165.1,425.1 165.4,424.6 165.7,424.6 166.0,423.8 166.3,422.3 166.6,420.6 166.9,418.9 167.2,417.7 167.5,416.8 167.8,415.8 168.1,414.7 168.4,412.4 168.7,409.5 169.0,407.5 169.3,405.9 169.6,404.5 169.9,403.4 170.2,401.8 170.5,399.6 170.8,397.5 171.1,396.2 171.4,395.4 171.7,394.0 172.0,392.3 172.3,391.6 172.6,391.3 172.9,389.5 173.2,386.0 173.5,383.9 173.8,385.5 174.1,386.7 174.4,385.4 174.7,384.2 175.0,383.8 175.3,384.2 175.6,383.7 175.9,384.9 176.2,388.3 176.5,391.3 176.8,394.4 177.1,397.1 177.4,398.5 177.7,401.5 178.0,406.3 178.3,409.8 178.6,412.3 178.9,414.7 179.2,417.0 179.5,419.9 179.8,422.2 180.1,423.4 180.4,425.5 180.7,427.3 181.0,428.3 181.3,429.7 181.6,430.8 181.9,431.1 182.2,431.5 182.5,431.9 182.8,432.1 183.1,432.2 183.4,432.3 183.7,432.4 184.0,432.4" stroke="#27365e" stroke-width="0.85"/>
<polyline points="149.2,430.6 149.5,430.0 149.8,428.9 150.1,427.5 150.4,427.0 150.7,426.9 151.0,425.4 151.3,423.2 151.6,421.2 151.9,419.5 152.2,417.9 152.5,416.1 152.8,414.3 153.1,412.4 153.4,408.9 153.7,405.8 154.0,404.1 154.3,401.1 154.6,397.8 154.9,396.2 155.2,393.7 155.5,390.6 155.8,389.4 156.1,387.6 156.4,385.3 156.7,384.4 157.0,384.1 157.3,385.3 157.6,386.7 157.9,385.1 158.2,383.6 158.5,383.5 158.8,383.1 159.1,384.1 159.4,386.6 159.7,389.7 160.0,392.0 160.3,393.7 160.6,396.4 160.9,398.6 161.2,400.2 161.5,402.1 161.8,404.0 162.1,406.5 162.4,409.6 162.7,411.6 163.0,413.6 163.3,415.9 163.6,417.8 163.9,419.7 164.2,421.0 164.5,422.3 164.8,424.5 165.1,425.8 165.4,425.9 165.7,426.2 166.0,427.8 166.3,429.2 166.6,429.6 166.9,430.2 167.2,430.6 167.5,430.6 167.8,430.9 168.1,431.1 168.4,431.2 168.7,431.4 169.0,431.8 169.3,432.2 169.6,432.4 169.9,432.4 170.2,432.4 170.5,432.4 170.8,432.4 171.1,432.4" stroke="#c4325c" stroke-width="0.85"/>
</g>
<rect x="149.23" y="373.6" width="60" height="59.1" fill="none" stroke="#1a1a1a" stroke-width="1.05"/>
<path d="M146.23 432.7H149.23M147.83 430.44H149.23M147.83 428.18H149.23M147.83 425.92H149.23M147.83 423.66H149.23M146.23 421.4H149.23M147.83 419.14H149.23M147.83 416.88H149.23M147.83 414.62H149.23M147.83 412.36H149.23M146.23 410.1H149.23M147.83 407.84H149.23M147.83 405.58H149.23M147.83 403.32H149.23M147.83 401.06H149.23M146.23 398.8H149.23M147.83 396.54H149.23M147.83 394.28H149.23M147.83 392.02H149.23M147.83 389.76H149.23M146.23 387.5H149.23M147.83 385.24H149.23M147.83 382.98H149.23M147.83 380.72H149.23M147.83 378.46H149.23M146.23 376.2H149.23M157.23 432.7V435.5M172.23 432.7V434.9M187.63 432.7V434.9M202.63 432.7V434.9M154.53 432.7V434.3M155.33 432.7V435.1M156.13 432.7V435.1M156.73 432.7V435.1M157.83 432.7V435.1M158.53 432.7V435.1M159.33 432.7V434.3M164.73 432.7V434.3M176.81 432.7V433.8M179.48 432.7V433.8M181.38 432.7V433.8M182.85 432.7V433.8M184.06 432.7V433.8M185.08 432.7V433.8M185.96 432.7V433.8M186.73 432.7V433.8M192.21 432.7V433.8M194.88 432.7V433.8M196.78 432.7V433.8M198.25 432.7V433.8M199.46 432.7V433.8M200.48 432.7V433.8M201.36 432.7V433.8M202.13 432.7V433.8" stroke="#222" stroke-width="0.7" fill="none"/>
<text x="142.93" y="435.6" font-size="6.4" text-anchor="end" fill="#2a2a2a" stroke="#2a2a2a" stroke-width="0.18">0</text>
<text x="142.93" y="424.3" font-size="6.4" text-anchor="end" fill="#2a2a2a" stroke="#2a2a2a" stroke-width="0.18">20</text>
<text x="142.93" y="413" font-size="6.4" text-anchor="end" fill="#2a2a2a" stroke="#2a2a2a" stroke-width="0.18">40</text>
<text x="142.93" y="401.7" font-size="6.4" text-anchor="end" fill="#2a2a2a" stroke="#2a2a2a" stroke-width="0.18">60</text>
<text x="142.93" y="390.4" font-size="6.4" text-anchor="end" fill="#2a2a2a" stroke="#2a2a2a" stroke-width="0.18">80</text>
<text x="142.93" y="379.1" font-size="6.4" text-anchor="end" fill="#2a2a2a" stroke="#2a2a2a" stroke-width="0.18">100</text>
<text x="179.23" y="361.2" font-size="6.2" text-anchor="middle" fill="#2a2a2a" stroke="#2a2a2a" stroke-width="0.08">Burkitt lymphoma</text>
<text x="179.23" y="368.6" font-size="6.2" text-anchor="middle" fill="#2a2a2a" stroke="#2a2a2a" stroke-width="0.08">t(8;14)</text>
<g fill="none" stroke-linejoin="round">
<polyline points="268.4,432.4 268.7,432.4 269.0,432.4 269.3,432.4 269.6,432.4 269.9,432.4 270.2,432.1 270.5,432.0 270.8,432.0 271.1,431.6 271.4,431.1 271.7,430.9 272.0,430.9 272.3,430.6 272.6,430.7 272.9,430.3 273.2,429.0 273.5,427.9 273.8,427.7 274.1,427.7 274.4,427.1 274.7,425.8 275.0,424.2 275.3,422.4 275.6,420.8 275.9,419.8 276.2,418.5 276.5,416.3 276.8,414.0 277.1,411.6 277.4,410.2 277.7,409.6 278.0,407.7 278.3,404.7 278.6,401.6 278.9,399.1 279.2,396.1 279.5,393.6 279.8,392.4 280.1,391.3 280.4,390.4 280.7,388.2 281.0,386.3 281.3,385.7 281.6,383.6 281.9,381.4 282.2,381.4 282.5,382.5 282.8,382.4 283.1,379.8 283.4,377.4 283.7,379.4 284.0,382.9 284.3,385.0 284.6,387.4 284.9,390.0 285.2,392.0 285.5,394.2 285.8,397.6 286.1,401.8 286.4,406.1 286.7,410.2 287.0,413.1 287.3,415.9 287.6,418.5 287.9,420.6 288.2,422.9 288.5,425.1 288.8,426.3 289.1,427.2 289.4,428.6 289.7,429.6 290.0,430.5 290.3,431.1 290.6,431.2 290.9,431.5 291.2,431.9 291.5,432.0 291.8,432.0 292.1,432.1 292.4,432.3 292.7,432.4" stroke="#55a8d6" stroke-width="0.85"/>
<polyline points="260.6,432.4 260.9,432.4 261.2,432.4 261.5,432.2 261.8,432.1 262.1,432.0 262.4,431.9 262.7,431.9 263.0,431.6 263.3,431.0 263.6,430.3 263.9,429.6 264.2,429.0 264.5,428.5 264.8,427.8 265.1,427.6 265.4,427.3 265.7,426.8 266.0,426.5 266.3,425.5 266.6,424.7 266.9,424.8 267.2,424.7 267.5,424.1 267.8,423.7 268.1,422.7 268.4,421.8 268.7,421.7 269.0,420.9 269.3,419.4 269.6,418.4 269.9,416.5 270.2,414.0 270.5,412.5 270.8,410.9 271.1,408.6 271.4,405.9 271.7,403.3 272.0,401.7 272.3,400.7 272.6,398.3 272.9,396.8 273.2,396.8 273.5,395.4 273.8,392.6 274.1,389.8 274.4,388.2 274.7,386.7 275.0,385.0 275.3,385.0 275.6,384.9 275.9,384.6 276.2,384.7 276.5,384.0 276.8,382.6 277.1,381.9 277.4,382.2 277.7,383.3 278.0,384.9 278.3,386.2 278.6,387.0 278.9,387.9 279.2,390.6 279.5,393.9 279.8,396.0 280.1,399.0 280.4,403.6 280.7,406.6 281.0,408.6 281.3,411.9 281.6,414.8 281.9,416.8 282.2,419.1 282.5,421.3 282.8,423.4 283.1,425.4 283.4,426.3 283.7,427.3 284.0,428.7 284.3,429.7 284.6,430.4 284.9,430.8 285.2,431.0 285.5,431.2 285.8,431.7 286.1,432.0 286.4,432.1 286.7,432.3 287.0,432.4 287.3,432.4" stroke="#f2a93a" stroke-width="0.85"/>
<polyline points="262.1,432.4 262.4,432.4 262.7,432.4 263.0,432.4 263.3,432.3 263.6,432.2 263.9,432.3 264.2,432.0 264.5,431.7 264.8,431.5 265.1,431.3 265.4,431.3 265.7,431.1 266.0,430.8 266.3,430.6 266.6,430.3 266.9,429.8 267.2,429.1 267.5,428.6 267.8,427.9 268.1,426.9 268.4,426.2 268.7,425.8 269.0,425.5 269.3,425.0 269.6,423.2 269.9,420.6 270.2,418.7 270.5,417.7 270.8,416.4 271.1,414.2 271.4,412.6 271.7,411.4 272.0,409.1 272.3,407.5 272.6,406.0 272.9,403.0 273.2,400.2 273.5,398.1 273.8,395.9 274.1,393.4 274.4,391.7 274.7,390.4 275.0,387.5 275.3,384.9 275.6,384.3 275.9,383.3 276.2,381.6 276.5,381.6 276.8,381.9 277.1,381.3 277.4,379.8 277.7,379.1 278.0,380.8 278.3,382.5 278.6,383.7 278.9,386.2 279.2,390.5 279.5,392.9 279.8,393.8 280.1,396.7 280.4,400.6 280.7,403.7 281.0,406.7 281.3,409.3 281.6,411.9 281.9,414.6 282.2,417.0 282.5,419.5 282.8,421.7 283.1,423.8 283.4,425.1 283.7,425.6 284.0,426.6 284.3,427.7 284.6,428.9 284.9,429.9 285.2,430.7 285.5,431.3 285.8,431.5 286.1,431.6 286.4,431.9 286.7,432.3 287.0,432.3 287.3,432.3 287.6,432.4 287.9,432.4" stroke="#4aa85a" stroke-width="0.85"/>
<polyline points="262.7,432.4 263.0,432.4 263.3,432.4 263.6,432.2 263.9,432.1 264.2,432.1 264.5,432.1 264.8,432.0 265.1,431.7 265.4,431.4 265.7,431.3 266.0,431.0 266.3,430.4 266.6,430.0 266.9,429.8 267.2,429.2 267.5,428.4 267.8,427.7 268.1,426.6 268.4,425.6 268.7,425.2 269.0,424.9 269.3,423.5 269.6,421.7 269.9,420.4 270.2,419.3 270.5,417.6 270.8,415.6 271.1,413.1 271.4,410.5 271.7,408.9 272.0,406.9 272.3,405.5 272.6,404.7 272.9,402.0 273.2,398.6 273.5,396.6 273.8,394.5 274.1,392.2 274.4,391.1 274.7,390.1 275.0,388.6 275.3,387.7 275.6,386.2 275.9,382.3 276.2,378.7 276.5,378.1 276.8,378.9 277.1,378.7 277.4,378.4 277.7,377.9 278.0,377.5 278.3,379.2 278.6,381.5 278.9,383.2 279.2,385.6 279.5,389.7 279.8,393.5 280.1,395.3 280.4,397.9 280.7,402.6 281.0,406.8 281.3,408.9 281.6,410.8 281.9,413.7 282.2,416.1 282.5,418.3 282.8,420.7 283.1,422.9 283.4,425.0 283.7,426.5 284.0,427.4 284.3,428.1 284.6,429.0 284.9,429.6 285.2,430.1 285.5,430.8 285.8,431.4 286.1,431.9 286.4,432.3 286.7,432.4 287.0,432.4 287.3,432.4 287.6,432.4 287.9,432.4" stroke="#27365e" stroke-width="0.85"/>
<polyline points="248.9,431.4 249.2,431.3 249.5,431.1 249.8,430.7 250.1,430.2 250.4,429.7 250.7,428.8 251.0,427.6 251.3,426.5 251.6,425.8 251.9,424.7 252.2,423.3 252.5,421.6 252.8,419.9 253.1,418.1 253.4,415.3 253.7,412.7 254.0,410.8 254.3,408.1 254.6,404.5 254.9,401.0 255.2,397.7 255.5,395.2 255.8,393.6 256.1,391.8 256.4,388.6 256.7,386.4 257.0,385.3 257.3,383.7 257.6,382.8 257.9,381.2 258.2,379.8 258.5,379.7 258.8,380.1 259.1,382.1 259.4,384.6 259.7,386.0 260.0,387.8 260.3,388.8 260.6,390.1 260.9,392.7 261.2,395.5 261.5,398.9 261.8,400.6 262.1,401.3 262.4,402.8 262.7,403.8 263.0,405.2 263.3,407.1 263.6,409.8 263.9,413.6 264.2,416.0 264.5,417.2 264.8,419.1 265.1,420.8 265.4,422.3 265.7,423.6 266.0,424.8 266.3,426.1 266.6,427.0 266.9,427.6 267.2,428.2 267.5,429.0 267.8,429.8 268.1,430.2 268.4,430.2 268.7,430.5 269.0,431.2 269.3,431.7 269.6,431.8 269.9,431.8 270.2,431.9 270.5,432.2 270.8,432.4 271.1,432.4" stroke="#c4325c" stroke-width="0.85"/>
</g>
<rect x="248.86" y="373.6" width="60" height="59.1" fill="none" stroke="#1a1a1a" stroke-width="1.05"/>
<path d="M245.86 432.7H248.86M247.46 430.44H248.86M247.46 428.18H248.86M247.46 425.92H248.86M247.46 423.66H248.86M245.86 421.4H248.86M247.46 419.14H248.86M247.46 416.88H248.86M247.46 414.62H248.86M247.46 412.36H248.86M245.86 410.1H248.86M247.46 407.84H248.86M247.46 405.58H248.86M247.46 403.32H248.86M247.46 401.06H248.86M245.86 398.8H248.86M247.46 396.54H248.86M247.46 394.28H248.86M247.46 392.02H248.86M247.46 389.76H248.86M245.86 387.5H248.86M247.46 385.24H248.86M247.46 382.98H248.86M247.46 380.72H248.86M247.46 378.46H248.86M245.86 376.2H248.86M256.86 432.7V435.5M271.86 432.7V434.9M287.26 432.7V434.9M302.26 432.7V434.9M254.16 432.7V434.3M254.96 432.7V435.1M255.76 432.7V435.1M256.36 432.7V435.1M257.46 432.7V435.1M258.16 432.7V435.1M258.96 432.7V434.3M264.36 432.7V434.3M276.44 432.7V433.8M279.11 432.7V433.8M281.01 432.7V433.8M282.48 432.7V433.8M283.69 432.7V433.8M284.71 432.7V433.8M285.59 432.7V433.8M286.36 432.7V433.8M291.84 432.7V433.8M294.51 432.7V433.8M296.41 432.7V433.8M297.88 432.7V433.8M299.09 432.7V433.8M300.11 432.7V433.8M300.99 432.7V433.8M301.76 432.7V433.8" stroke="#222" stroke-width="0.7" fill="none"/>
<text x="242.56" y="435.6" font-size="6.4" text-anchor="end" fill="#2a2a2a" stroke="#2a2a2a" stroke-width="0.18">0</text>
<text x="242.56" y="424.3" font-size="6.4" text-anchor="end" fill="#2a2a2a" stroke="#2a2a2a" stroke-width="0.18">20</text>
<text x="242.56" y="413" font-size="6.4" text-anchor="end" fill="#2a2a2a" stroke="#2a2a2a" stroke-width="0.18">40</text>
<text x="242.56" y="401.7" font-size="6.4" text-anchor="end" fill="#2a2a2a" stroke="#2a2a2a" stroke-width="0.18">60</text>
<text x="242.56" y="390.4" font-size="6.4" text-anchor="end" fill="#2a2a2a" stroke="#2a2a2a" stroke-width="0.18">80</text>
<text x="242.56" y="379.1" font-size="6.4" text-anchor="end" fill="#2a2a2a" stroke="#2a2a2a" stroke-width="0.18">100</text>
<text x="278.86" y="361.2" font-size="6.2" text-anchor="middle" fill="#2a2a2a" stroke="#2a2a2a" stroke-width="0.08">Burkitt lymphoma</text>
<text x="278.86" y="368.6" font-size="6.2" text-anchor="middle" fill="#2a2a2a" stroke="#2a2a2a" stroke-width="0.08">t(8;14)</text>
<g fill="none" stroke-linejoin="round">
<polyline points="359.0,432.4 359.3,432.4 359.6,432.4 359.9,432.4 360.2,432.3 360.5,431.9 360.8,431.5 361.1,431.3 361.4,431.6 361.7,431.7 362.0,431.6 362.3,431.5 362.6,431.2 362.9,430.9 363.2,430.6 363.5,430.1 363.8,429.9 364.1,429.7 364.4,428.8 364.7,428.1 365.0,427.3 365.3,426.4 365.6,425.7 365.9,425.2 366.2,424.4 366.5,422.6 366.8,421.3 367.1,421.0 367.4,419.8 367.7,418.1 368.0,416.8 368.3,415.2 368.6,413.7 368.9,413.2 369.2,412.4 369.5,410.1 369.8,408.2 370.1,406.7 370.4,404.3 370.7,401.9 371.0,399.7 371.3,397.4 371.6,396.1 371.9,394.3 372.2,391.9 372.5,391.5 372.8,391.3 373.1,390.4 373.4,389.5 373.7,386.5 374.0,383.8 374.3,383.4 374.6,383.3 374.9,384.6 375.2,386.1 375.5,384.8 375.8,382.3 376.1,381.5 376.4,383.9 376.7,388.4 377.0,392.1 377.3,393.7 377.6,395.6 377.9,398.3 378.2,400.1 378.5,402.6 378.8,406.8 379.1,410.1 379.4,413.7 379.7,417.8 380.0,419.9 380.3,421.3 380.6,424.0 380.9,426.5 381.2,427.5 381.5,427.8 381.8,428.5 382.1,429.5 382.4,430.2 382.7,430.6 383.0,431.0 383.3,431.6 383.6,432.0 383.9,432.2 384.2,432.3 384.5,432.3 384.8,432.4 385.1,432.4 385.4,432.4" stroke="#55a8d6" stroke-width="0.85"/>
<polyline points="360.8,432.4 361.1,432.4 361.4,432.4 361.7,432.4 362.0,432.4 362.3,432.3 362.6,432.4 362.9,432.4 363.2,432.4 363.5,432.4 363.8,432.0 364.1,431.8 364.4,431.6 364.7,431.4 365.0,431.2 365.3,431.1 365.6,430.9 365.9,430.6 366.2,430.3 366.5,430.2 366.8,429.8 367.1,429.0 367.4,428.4 367.7,427.8 368.0,427.0 368.3,426.3 368.6,425.8 368.9,424.7 369.2,423.4 369.5,422.5 369.8,421.6 370.1,420.3 370.4,418.4 370.7,416.9 371.0,416.6 371.3,415.0 371.6,413.2 371.9,412.8 372.2,411.6 372.5,409.6 372.8,407.8 373.1,405.4 373.4,402.4 373.7,400.5 374.0,399.3 374.3,398.3 374.6,397.9 374.9,396.9 375.2,394.5 375.5,392.6 375.8,391.2 376.1,389.3 376.4,388.7 376.7,388.9 377.0,387.1 377.3,386.0 377.6,385.9 377.9,385.1 378.2,384.6 378.5,384.2 378.8,384.8 379.1,386.7 379.4,387.5 379.7,387.4 380.0,390.5 380.3,394.7 380.6,396.8 380.9,399.8 381.2,402.6 381.5,404.4 381.8,407.7 382.1,412.5 382.4,416.5 382.7,418.5 383.0,420.3 383.3,422.3 383.6,423.7 383.9,425.1 384.2,426.8 384.5,428.3 384.8,429.3 385.1,429.6 385.4,430.0 385.7,430.7 386.0,431.4 386.3,431.9 386.6,432.1 386.9,432.1 387.2,432.3 387.5,432.4 387.8,432.4 388.1,432.4" stroke="#f2a93a" stroke-width="0.85"/>
<polyline points="361.7,432.4 362.0,432.4 362.3,432.3 362.6,432.3 362.9,432.3 363.2,432.3 363.5,432.1 363.8,431.8 364.1,431.8 364.4,431.8 364.7,431.5 365.0,431.4 365.3,431.5 365.6,431.3 365.9,430.8 366.2,430.1 366.5,429.6 366.8,429.0 367.1,428.4 367.4,427.9 367.7,427.3 368.0,426.6 368.3,426.0 368.6,425.2 368.9,424.1 369.2,423.0 369.5,421.8 369.8,420.7 370.1,420.0 370.4,419.2 370.7,417.5 371.0,416.3 371.3,415.2 371.6,412.2 371.9,408.9 372.2,408.6 372.5,409.3 372.8,407.5 373.1,405.1 373.4,404.3 373.7,402.0 374.0,398.8 374.3,396.7 374.6,395.6 374.9,393.9 375.2,391.9 375.5,391.2 375.8,389.9 376.1,387.2 376.4,385.8 376.7,384.8 377.0,382.2 377.3,381.9 377.6,384.5 377.9,384.9 378.2,383.5 378.5,382.6 378.8,381.9 379.1,382.9 379.4,385.4 379.7,388.2 380.0,390.9 380.3,393.2 380.6,396.5 380.9,399.9 381.2,402.4 381.5,406.5 381.8,411.0 382.1,413.2 382.4,415.2 382.7,418.0 383.0,420.2 383.3,422.8 383.6,425.3 383.9,426.5 384.2,427.3 384.5,428.7 384.8,429.9 385.1,430.4 385.4,431.1 385.7,431.8 386.0,432.0 386.3,431.8 386.6,431.9 386.9,432.2 387.2,432.4" stroke="#4aa85a" stroke-width="0.85"/>
<polyline points="348.5,432.2 348.8,432.2 349.1,432.2 349.4,432.2 349.7,432.3 350.0,432.2 350.3,431.9 350.6,431.9 350.9,431.8 351.2,431.5 351.5,431.3 351.8,431.2 352.1,431.0 352.4,431.2 352.7,431.1 353.0,430.9 353.3,430.8 353.6,430.7 353.9,430.6 354.2,430.7 354.5,430.9 354.8,431.1 355.1,430.7 355.4,430.0 355.7,429.2 356.0,429.0 356.3,429.4 356.6,429.6 356.9,429.7 357.2,429.6 357.5,429.2 357.8,428.9 358.1,428.5 358.4,428.2 358.7,428.2 359.0,428.0 359.3,427.9 359.6,427.9 359.9,427.8 360.2,427.7 360.5,427.6 360.8,427.1 361.1,426.9 361.4,426.9 361.7,427.0 362.0,426.6 362.3,425.5 362.6,425.2 362.9,425.8 363.2,425.7 363.5,424.6 363.8,423.9 364.1,423.6 364.4,422.8 364.7,422.6 365.0,422.6 365.3,421.6 365.6,420.1 365.9,418.9 366.2,418.1 366.5,417.1 366.8,415.6 367.1,414.3 367.4,412.7 367.7,410.5 368.0,409.2 368.3,408.9 368.6,407.4 368.9,405.8 369.2,405.2 369.5,402.9 369.8,399.5 370.1,397.4 370.4,396.9 370.7,396.7 371.0,394.8 371.3,392.8 371.6,392.0 371.9,390.9 372.2,388.7 372.5,387.5 372.8,387.1 373.1,385.6 373.4,384.1 373.7,382.9 374.0,381.8 374.3,381.3 374.6,381.9 374.9,383.4 375.2,384.7 375.5,385.5 375.8,386.8 376.1,390.3 376.4,393.1 376.7,394.3 377.0,397.4 377.3,401.4 377.6,404.2 377.9,406.1 378.2,408.2 378.5,412.2 378.8,417.2 379.1,420.1 379.4,421.5 379.7,423.1 380.0,425.4 380.3,427.1 380.6,428.3 380.9,429.4 381.2,430.2 381.5,430.8 381.8,431.0 382.1,431.2 382.4,431.6 382.7,431.8 383.0,432.2 383.3,432.4" stroke="#27365e" stroke-width="0.85"/>
<polyline points="348.5,432.3 348.8,432.4 349.1,432.2 349.4,431.8 349.7,431.3 350.0,430.7 350.3,430.2 350.6,429.5 350.9,428.6 351.2,427.9 351.5,426.5 351.8,423.5 352.1,420.3 352.4,418.0 352.7,415.2 353.0,411.6 353.3,407.8 353.6,403.9 353.9,401.1 354.2,397.5 354.5,392.2 354.8,388.3 355.1,385.4 355.4,383.5 355.7,381.4 356.0,379.1 356.3,379.2 356.6,379.5 356.9,380.0 357.2,381.9 357.5,382.8 357.8,383.3 358.1,385.6 358.4,389.4 358.7,392.4 359.0,394.1 359.3,396.3 359.6,399.1 359.9,402.4 360.2,405.8 360.5,407.8 360.8,409.3 361.1,412.4 361.4,415.8 361.7,417.8 362.0,419.1 362.3,420.7 362.6,422.1 362.9,424.2 363.2,426.3 363.5,427.4 363.8,427.9 364.1,428.5 364.4,429.3 364.7,430.2 365.0,430.9 365.3,431.4 365.6,431.5 365.9,431.8 366.2,432.1 366.5,432.1 366.8,432.0 367.1,432.1 367.4,432.4 367.7,432.4" stroke="#c4325c" stroke-width="0.85"/>
</g>
<rect x="348.49" y="373.6" width="60" height="59.1" fill="none" stroke="#1a1a1a" stroke-width="1.05"/>
<path d="M345.49 432.7H348.49M347.09 430.44H348.49M347.09 428.18H348.49M347.09 425.92H348.49M347.09 423.66H348.49M345.49 421.4H348.49M347.09 419.14H348.49M347.09 416.88H348.49M347.09 414.62H348.49M347.09 412.36H348.49M345.49 410.1H348.49M347.09 407.84H348.49M347.09 405.58H348.49M347.09 403.32H348.49M347.09 401.06H348.49M345.49 398.8H348.49M347.09 396.54H348.49M347.09 394.28H348.49M347.09 392.02H348.49M347.09 389.76H348.49M345.49 387.5H348.49M347.09 385.24H348.49M347.09 382.98H348.49M347.09 380.72H348.49M347.09 378.46H348.49M345.49 376.2H348.49M356.49 432.7V435.5M371.49 432.7V434.9M386.89 432.7V434.9M401.89 432.7V434.9M353.79 432.7V434.3M354.59 432.7V435.1M355.39 432.7V435.1M355.99 432.7V435.1M357.09 432.7V435.1M357.79 432.7V435.1M358.59 432.7V434.3M363.99 432.7V434.3M376.07 432.7V433.8M378.74 432.7V433.8M380.64 432.7V433.8M382.11 432.7V433.8M383.32 432.7V433.8M384.34 432.7V433.8M385.22 432.7V433.8M385.99 432.7V433.8M391.47 432.7V433.8M394.14 432.7V433.8M396.04 432.7V433.8M397.51 432.7V433.8M398.72 432.7V433.8M399.74 432.7V433.8M400.62 432.7V433.8M401.39 432.7V433.8" stroke="#222" stroke-width="0.7" fill="none"/>
<text x="342.19" y="435.6" font-size="6.4" text-anchor="end" fill="#2a2a2a" stroke="#2a2a2a" stroke-width="0.18">0</text>
<text x="342.19" y="424.3" font-size="6.4" text-anchor="end" fill="#2a2a2a" stroke="#2a2a2a" stroke-width="0.18">20</text>
<text x="342.19" y="413" font-size="6.4" text-anchor="end" fill="#2a2a2a" stroke="#2a2a2a" stroke-width="0.18">40</text>
<text x="342.19" y="401.7" font-size="6.4" text-anchor="end" fill="#2a2a2a" stroke="#2a2a2a" stroke-width="0.18">60</text>
<text x="342.19" y="390.4" font-size="6.4" text-anchor="end" fill="#2a2a2a" stroke="#2a2a2a" stroke-width="0.18">80</text>
<text x="342.19" y="379.1" font-size="6.4" text-anchor="end" fill="#2a2a2a" stroke="#2a2a2a" stroke-width="0.18">100</text>
<text x="378.49" y="361.2" font-size="6.2" text-anchor="middle" fill="#2a2a2a" stroke="#2a2a2a" stroke-width="0.08">c-ALL</text>
<text x="378.49" y="368.6" font-size="6.2" text-anchor="middle" fill="#2a2a2a" stroke="#2a2a2a" stroke-width="0.08">t(X;6)</text>
<g fill="none" stroke-linejoin="round">
<polyline points="455.9,432.4 456.2,432.4 456.5,432.3 456.8,432.4 457.1,432.4 457.4,432.3 457.7,432.1 458.0,432.0 458.3,432.0 458.6,431.9 458.9,431.5 459.2,431.2 459.5,431.3 459.8,431.1 460.1,430.5 460.4,430.1 460.7,430.3 461.0,430.2 461.3,429.2 461.6,428.4 461.9,428.3 462.2,428.3 462.5,427.5 462.8,426.5 463.1,426.0 463.4,425.6 463.7,424.9 464.0,424.2 464.3,423.2 464.6,421.7 464.9,420.5 465.2,419.7 465.5,418.5 465.8,417.0 466.1,415.9 466.4,414.5 466.7,412.4 467.0,410.6 467.3,410.2 467.6,409.6 467.9,408.1 468.2,406.5 468.5,403.6 468.8,401.3 469.1,400.1 469.4,399.0 469.7,398.2 470.0,397.2 470.3,395.7 470.6,393.8 470.9,392.3 471.2,390.5 471.5,388.9 471.8,389.6 472.1,389.9 472.4,387.1 472.7,384.7 473.0,384.0 473.3,384.2 473.6,384.5 473.9,385.0 474.2,386.1 474.5,387.9 474.8,389.4 475.1,389.4 475.4,390.5 475.7,393.1 476.0,395.1 476.3,397.4 476.6,399.2 476.9,401.4 477.2,405.1 477.5,408.0 477.8,409.9 478.1,412.6 478.4,415.6 478.7,418.0 479.0,419.8 479.3,421.7 479.6,423.9 479.9,425.8 480.2,427.0 480.5,428.1 480.8,428.9 481.1,429.4 481.4,430.0 481.7,430.5 482.0,431.1 482.3,431.6 482.6,431.8 482.9,432.0 483.2,432.2 483.5,432.3 483.8,432.4 484.1,432.4" stroke="#55a8d6" stroke-width="0.85"/>
<polyline points="454.7,432.4 455.0,432.4 455.3,432.4 455.6,432.4 455.9,432.4 456.2,432.2 456.5,432.2 456.8,432.1 457.1,432.1 457.4,432.1 457.7,431.9 458.0,431.9 458.3,431.9 458.6,431.2 458.9,430.6 459.2,430.8 459.5,431.1 459.8,430.8 460.1,430.1 460.4,429.5 460.7,429.1 461.0,428.8 461.3,428.2 461.6,427.6 461.9,426.6 462.2,425.6 462.5,424.9 462.8,423.9 463.1,423.0 463.4,421.9 463.7,420.6 464.0,419.8 464.3,419.2 464.6,417.8 464.9,415.7 465.2,413.9 465.5,413.6 465.8,413.2 466.1,411.2 466.4,409.0 466.7,407.1 467.0,405.6 467.3,403.8 467.6,402.0 467.9,400.5 468.2,398.4 468.5,396.1 468.8,394.9 469.1,395.3 469.4,394.9 469.7,392.7 470.0,390.9 470.3,389.8 470.6,387.5 470.9,385.6 471.2,386.2 471.5,387.1 471.8,386.9 472.1,385.0 472.4,382.9 472.7,383.4 473.0,385.3 473.3,386.0 473.6,384.9 473.9,385.1 474.2,387.0 474.5,388.0 474.8,388.7 475.1,390.8 475.4,393.9 475.7,397.8 476.0,401.3 476.3,403.7 476.6,406.3 476.9,409.3 477.2,412.9 477.5,416.4 477.8,419.1 478.1,421.3 478.4,422.5 478.7,423.7 479.0,425.4 479.3,426.8 479.6,428.3 479.9,429.2 480.2,429.7 480.5,430.5 480.8,430.9 481.1,431.2 481.4,431.5 481.7,431.8 482.0,432.2 482.3,432.4 482.6,432.4 482.9,432.4 483.2,432.4" stroke="#f2a93a" stroke-width="0.85"/>
<polyline points="457.1,432.4 457.4,432.4 457.7,432.4 458.0,432.4 458.3,432.4 458.6,432.2 458.9,432.0 459.2,431.9 459.5,431.8 459.8,431.5 460.1,431.2 460.4,431.2 460.7,431.0 461.0,430.6 461.3,430.5 461.6,430.0 461.9,429.6 462.2,429.6 462.5,429.4 462.8,428.8 463.1,427.8 463.4,427.3 463.7,426.8 464.0,425.8 464.3,424.5 464.6,423.7 464.9,423.2 465.2,422.0 465.5,421.3 465.8,421.0 466.1,419.6 466.4,417.8 466.7,416.7 467.0,416.0 467.3,414.9 467.6,413.2 467.9,411.1 468.2,408.7 468.5,407.8 468.8,407.6 469.1,406.4 469.4,404.5 469.7,402.0 470.0,399.8 470.3,398.5 470.6,396.4 470.9,393.5 471.2,392.6 471.5,393.3 471.8,392.1 472.1,390.4 472.4,389.8 472.7,388.0 473.0,384.8 473.3,382.9 473.6,384.5 473.9,386.2 474.2,384.3 474.5,382.3 474.8,381.3 475.1,380.8 475.4,381.8 475.7,383.0 476.0,384.0 476.3,385.3 476.6,386.6 476.9,388.7 477.2,391.8 477.5,395.3 477.8,398.6 478.1,401.3 478.4,403.7 478.7,406.3 479.0,408.7 479.3,411.5 479.6,414.7 479.9,416.9 480.2,418.8 480.5,420.5 480.8,421.9 481.1,423.9 481.4,425.8 481.7,426.7 482.0,427.6 482.3,428.6 482.6,429.1 482.9,430.0 483.2,430.9 483.5,431.5 483.8,431.8 484.1,431.8 484.4,431.9 484.7,432.2 485.0,432.4 485.3,432.4 485.6,432.4 485.9,432.4" stroke="#4aa85a" stroke-width="0.85"/>
<polyline points="449.0,432.4 449.3,432.4 449.6,432.4 449.9,432.3 450.2,432.3 450.5,432.4 450.8,432.4 451.1,432.0 451.4,431.9 451.7,431.9 452.0,431.7 452.3,431.5 452.6,431.6 452.9,431.4 453.2,431.0 453.5,430.3 453.8,429.5 454.1,429.0 454.4,428.9 454.7,428.5 455.0,427.5 455.3,426.7 455.6,426.2 455.9,425.1 456.2,423.6 456.5,422.5 456.8,421.8 457.1,421.0 457.4,419.3 457.7,417.3 458.0,416.6 458.3,415.5 458.6,413.6 458.9,412.3 459.2,410.8 459.5,408.6 459.8,406.7 460.1,403.9 460.4,400.8 460.7,398.8 461.0,398.4 461.3,398.4 461.6,397.8 461.9,397.0 462.2,395.5 462.5,393.7 462.8,391.8 463.1,390.6 463.4,389.6 463.7,387.7 464.0,386.7 464.3,385.9 464.6,385.2 464.9,386.1 465.2,387.5 465.5,387.4 465.8,387.4 466.1,388.3 466.4,389.5 466.7,389.8 467.0,388.9 467.3,388.7 467.6,389.9 467.9,389.0 468.2,386.2 468.5,386.7 468.8,388.2 469.1,387.8 469.4,387.5 469.7,388.0 470.0,387.4 470.3,388.6 470.6,391.6 470.9,392.9 471.2,393.0 471.5,394.4 471.8,396.9 472.1,400.0 472.4,403.4 472.7,406.8 473.0,410.6 473.3,414.1 473.6,416.3 473.9,417.6 474.2,419.6 474.5,421.7 474.8,423.2 475.1,425.3 475.4,427.1 475.7,427.8 476.0,428.7 476.3,429.6 476.6,430.3 476.9,430.6 477.2,431.0 477.5,431.6 477.8,431.9 478.1,432.1 478.4,432.4 478.7,432.4 479.0,432.4 479.3,432.4 479.6,432.4 479.9,432.4 480.2,432.4" stroke="#27365e" stroke-width="0.85"/>
<polyline points="449.9,432.4 450.2,432.4 450.5,432.4 450.8,432.2 451.1,431.9 451.4,431.3 451.7,430.2 452.0,429.1 452.3,427.5 452.6,424.8 452.9,422.1 453.2,419.4 453.5,415.9 453.8,411.7 454.1,406.3 454.4,400.3 454.7,394.6 455.0,389.7 455.3,386.5 455.6,383.9 455.9,381.6 456.2,379.8 456.5,379.0 456.8,379.6 457.1,380.7 457.4,382.4 457.7,385.3 458.0,390.1 458.3,395.7 458.6,400.1 458.9,403.0 459.2,405.2 459.5,407.3 459.8,410.9 460.1,415.2 460.4,417.8 460.7,420.4 461.0,423.1 461.3,425.3 461.6,427.0 461.9,428.1 462.2,429.4 462.5,430.3 462.8,430.7 463.1,431.1 463.4,431.4 463.7,431.8 464.0,432.2 464.3,432.4 464.6,432.4 464.9,432.4 465.2,432.4 465.5,432.4" stroke="#c4325c" stroke-width="0.85"/>
</g>
<rect x="448.12" y="373.6" width="60" height="59.1" fill="none" stroke="#1a1a1a" stroke-width="1.05"/>
<path d="M445.12 432.7H448.12M446.72 430.44H448.12M446.72 428.18H448.12M446.72 425.92H448.12M446.72 423.66H448.12M445.12 421.4H448.12M446.72 419.14H448.12M446.72 416.88H448.12M446.72 414.62H448.12M446.72 412.36H448.12M445.12 410.1H448.12M446.72 407.84H448.12M446.72 405.58H448.12M446.72 403.32H448.12M446.72 401.06H448.12M445.12 398.8H448.12M446.72 396.54H448.12M446.72 394.28H448.12M446.72 392.02H448.12M446.72 389.76H448.12M445.12 387.5H448.12M446.72 385.24H448.12M446.72 382.98H448.12M446.72 380.72H448.12M446.72 378.46H448.12M445.12 376.2H448.12M456.12 432.7V435.5M471.12 432.7V434.9M486.52 432.7V434.9M501.52 432.7V434.9M453.42 432.7V434.3M454.22 432.7V435.1M455.02 432.7V435.1M455.62 432.7V435.1M456.72 432.7V435.1M457.42 432.7V435.1M458.22 432.7V434.3M463.62 432.7V434.3M475.7 432.7V433.8M478.37 432.7V433.8M480.27 432.7V433.8M481.74 432.7V433.8M482.95 432.7V433.8M483.97 432.7V433.8M484.85 432.7V433.8M485.62 432.7V433.8M491.1 432.7V433.8M493.77 432.7V433.8M495.67 432.7V433.8M497.14 432.7V433.8M498.35 432.7V433.8M499.37 432.7V433.8M500.25 432.7V433.8M501.02 432.7V433.8" stroke="#222" stroke-width="0.7" fill="none"/>
<text x="441.82" y="435.6" font-size="6.4" text-anchor="end" fill="#2a2a2a" stroke="#2a2a2a" stroke-width="0.18">0</text>
<text x="441.82" y="424.3" font-size="6.4" text-anchor="end" fill="#2a2a2a" stroke="#2a2a2a" stroke-width="0.18">20</text>
<text x="441.82" y="413" font-size="6.4" text-anchor="end" fill="#2a2a2a" stroke="#2a2a2a" stroke-width="0.18">40</text>
<text x="441.82" y="401.7" font-size="6.4" text-anchor="end" fill="#2a2a2a" stroke="#2a2a2a" stroke-width="0.18">60</text>
<text x="441.82" y="390.4" font-size="6.4" text-anchor="end" fill="#2a2a2a" stroke="#2a2a2a" stroke-width="0.18">80</text>
<text x="441.82" y="379.1" font-size="6.4" text-anchor="end" fill="#2a2a2a" stroke="#2a2a2a" stroke-width="0.18">100</text>
<text x="478.12" y="361.2" font-size="6.2" text-anchor="middle" fill="#2a2a2a" stroke="#2a2a2a" stroke-width="0.08">pro-B-ALL</text>
<text x="478.12" y="368.6" font-size="6.2" text-anchor="middle" fill="#2a2a2a" stroke="#2a2a2a" stroke-width="0.08">MLLr</text>
<text transform="translate(27.2,403.15) rotate(-90)" x="0" y="0" font-size="8.4" text-anchor="middle" font-weight="bold" textLength="44.8" lengthAdjust="spacingAndGlyphs" fill="#2a2a2a" >Normalized mode</text>
<g fill="none" stroke-linejoin="round">
<polyline points="55.0,519.3 55.3,519.3 55.6,519.2 55.9,519.0 56.2,519.0 56.5,519.2 56.8,518.9 57.1,518.5 57.4,518.3 57.7,518.1 58.0,517.6 58.3,517.1 58.6,516.8 58.9,516.4 59.2,515.6 59.5,514.7 59.8,513.7 60.1,513.3 60.4,512.9 60.7,511.5 61.0,510.0 61.3,508.6 61.6,506.8 61.9,505.6 62.2,504.7 62.5,502.3 62.8,499.9 63.1,497.8 63.4,494.2 63.7,491.3 64.0,489.6 64.3,486.7 64.6,484.7 64.9,484.6 65.2,483.4 65.5,480.8 65.8,479.6 66.1,478.2 66.4,475.2 66.7,473.4 67.0,472.8 67.3,473.3 67.6,472.8 67.9,470.2 68.2,470.1 68.5,471.6 68.8,473.0 69.1,475.3 69.4,475.8 69.7,473.9 70.0,474.4 70.3,477.8 70.6,480.3 70.9,482.3 71.2,484.2 71.5,485.9 71.8,488.7 72.1,491.0 72.4,492.4 72.7,493.8 73.0,494.6 73.3,495.4 73.6,497.4 73.9,500.0 74.2,502.6 74.5,504.9 74.8,505.9 75.1,506.8 75.4,507.8 75.7,508.9 76.0,510.1 76.3,511.0 76.6,512.1 76.9,513.3 77.2,514.3 77.5,515.2 77.8,515.8 78.1,515.9 78.4,516.4 78.7,517.3 79.0,517.8 79.3,517.6 79.6,517.6 79.9,518.0 80.2,518.4 80.5,518.6 80.8,518.9 81.1,519.1 81.4,519.1 81.7,519.2 82.0,519.3 82.3,519.3" stroke="#55a8d6" stroke-width="0.85"/>
<polyline points="55.3,519.3 55.6,519.3 55.9,518.9 56.2,518.6 56.5,518.4 56.8,518.2 57.1,517.7 57.4,516.9 57.7,516.5 58.0,515.3 58.3,513.6 58.6,512.4 58.9,510.5 59.2,507.8 59.5,504.9 59.8,501.8 60.1,498.2 60.4,494.9 60.7,492.5 61.0,488.4 61.3,482.5 61.6,478.8 61.9,476.5 62.2,473.8 62.5,470.9 62.8,469.2 63.1,468.4 63.4,467.1 63.7,467.5 64.0,468.1 64.3,468.8 64.6,469.7 64.9,470.2 65.2,471.5 65.5,472.8 65.8,475.9 66.1,479.2 66.4,480.9 66.7,484.2 67.0,488.9 67.3,491.9 67.6,492.9 67.9,495.0 68.2,498.5 68.5,500.8 68.8,502.3 69.1,504.1 69.4,505.3 69.7,506.9 70.0,509.3 70.3,510.9 70.6,512.2 70.9,513.8 71.2,514.9 71.5,515.4 71.8,516.0 72.1,516.9 72.4,517.8 72.7,518.3 73.0,518.4 73.3,518.7 73.6,518.9 73.9,519.0 74.2,519.0 74.5,519.2 74.8,519.3 75.1,519.3" stroke="#f2a93a" stroke-width="0.85"/>
<polyline points="55.6,519.3 55.9,519.2 56.2,519.0 56.5,518.9 56.8,518.7 57.1,518.8 57.4,518.5 57.7,517.9 58.0,517.5 58.3,517.1 58.6,517.0 58.9,516.7 59.2,516.0 59.5,515.4 59.8,514.8 60.1,513.5 60.4,512.0 60.7,510.7 61.0,509.7 61.3,508.3 61.6,506.0 61.9,504.5 62.2,503.7 62.5,502.2 62.8,499.2 63.1,496.0 63.4,494.4 63.7,492.8 64.0,490.7 64.3,488.0 64.6,484.0 64.9,480.0 65.2,478.1 65.5,478.3 65.8,477.2 66.1,474.9 66.4,473.8 66.7,472.3 67.0,470.3 67.3,470.2 67.6,472.0 67.9,473.0 68.2,471.4 68.5,469.7 68.8,469.5 69.1,471.5 69.4,473.8 69.7,474.7 70.0,476.3 70.3,478.1 70.6,480.2 70.9,482.7 71.2,484.6 71.5,486.3 71.8,488.5 72.1,491.1 72.4,493.8 72.7,496.3 73.0,499.0 73.3,501.6 73.6,503.5 73.9,504.4 74.2,505.0 74.5,506.3 74.8,508.6 75.1,510.4 75.4,511.3 75.7,512.2 76.0,513.2 76.3,514.3 76.6,515.1 76.9,515.9 77.2,517.0 77.5,517.6 77.8,517.8 78.1,518.0 78.4,518.2 78.7,518.2 79.0,518.4 79.3,518.8 79.6,519.2 79.9,519.3 80.2,519.3 80.5,519.3 80.8,519.3 81.1,519.3" stroke="#4aa85a" stroke-width="0.85"/>
<polyline points="55.3,519.3 55.6,519.3 55.9,519.0 56.2,518.1 56.5,517.0 56.8,515.7 57.1,514.0 57.4,510.9 57.7,507.1 58.0,503.7 58.3,499.0 58.6,493.4 58.9,487.6 59.2,480.4 59.5,475.6 59.8,473.4 60.1,471.9 60.4,471.3 60.7,471.6 61.0,472.6 61.3,473.6 61.6,475.4 61.9,477.5 62.2,478.4 62.5,480.3 62.8,484.2 63.1,487.6 63.4,490.2 63.7,494.0 64.0,498.3 64.3,501.2 64.6,503.5 64.9,505.2 65.2,506.9 65.5,509.2 65.8,511.3 66.1,513.4 66.4,515.2 66.7,516.2 67.0,517.0 67.3,517.3 67.6,517.6 67.9,518.3 68.2,518.9 68.5,519.2 68.8,519.1 69.1,519.0 69.4,519.1 69.7,519.1 70.0,519.3 70.3,519.3" stroke="#27365e" stroke-width="0.85"/>
<polyline points="55.6,519.3 55.9,519.1 56.2,518.5 56.5,517.6 56.8,515.2 57.1,510.4 57.4,504.6 57.7,498.9 58.0,491.8 58.3,482.2 58.6,474.4 58.9,469.9 59.2,466.5 59.5,464.8 59.8,465.6 60.1,468.1 60.4,471.2 60.7,475.0 61.0,480.0 61.3,486.3 61.6,491.2 61.9,494.4 62.2,498.3 62.5,502.7 62.8,506.5 63.1,509.9 63.4,512.6 63.7,514.5 64.0,515.6 64.3,516.6 64.6,517.5 64.9,518.1 65.2,518.6 65.5,518.9 65.8,519.1 66.1,519.3 66.4,519.3" stroke="#c4325c" stroke-width="0.85"/>
</g>
<rect x="49.6" y="460.5" width="60" height="59.1" fill="none" stroke="#1a1a1a" stroke-width="1.05"/>
<path d="M46.6 519.6H49.6M48.2 517.34H49.6M48.2 515.08H49.6M48.2 512.82H49.6M48.2 510.56H49.6M46.6 508.3H49.6M48.2 506.04H49.6M48.2 503.78H49.6M48.2 501.52H49.6M48.2 499.26H49.6M46.6 497H49.6M48.2 494.74H49.6M48.2 492.48H49.6M48.2 490.22H49.6M48.2 487.96H49.6M46.6 485.7H49.6M48.2 483.44H49.6M48.2 481.18H49.6M48.2 478.92H49.6M48.2 476.66H49.6M46.6 474.4H49.6M48.2 472.14H49.6M48.2 469.88H49.6M48.2 467.62H49.6M48.2 465.36H49.6M46.6 463.1H49.6M57.6 519.6V522.4M72.6 519.6V521.8M88 519.6V521.8M103 519.6V521.8M54.9 519.6V521.2M55.7 519.6V522M56.5 519.6V522M57.1 519.6V522M58.2 519.6V522M58.9 519.6V522M59.7 519.6V521.2M65.1 519.6V521.2M77.18 519.6V520.7M79.85 519.6V520.7M81.75 519.6V520.7M83.22 519.6V520.7M84.43 519.6V520.7M85.45 519.6V520.7M86.33 519.6V520.7M87.1 519.6V520.7M92.58 519.6V520.7M95.25 519.6V520.7M97.15 519.6V520.7M98.62 519.6V520.7M99.83 519.6V520.7M100.85 519.6V520.7M101.73 519.6V520.7M102.5 519.6V520.7" stroke="#222" stroke-width="0.7" fill="none"/>
<text x="43.3" y="522.5" font-size="6.4" text-anchor="end" fill="#2a2a2a" stroke="#2a2a2a" stroke-width="0.18">0</text>
<text x="43.3" y="511.2" font-size="6.4" text-anchor="end" fill="#2a2a2a" stroke="#2a2a2a" stroke-width="0.18">20</text>
<text x="43.3" y="499.9" font-size="6.4" text-anchor="end" fill="#2a2a2a" stroke="#2a2a2a" stroke-width="0.18">40</text>
<text x="43.3" y="488.6" font-size="6.4" text-anchor="end" fill="#2a2a2a" stroke="#2a2a2a" stroke-width="0.18">60</text>
<text x="43.3" y="477.3" font-size="6.4" text-anchor="end" fill="#2a2a2a" stroke="#2a2a2a" stroke-width="0.18">80</text>
<text x="43.3" y="466" font-size="6.4" text-anchor="end" fill="#2a2a2a" stroke="#2a2a2a" stroke-width="0.18">100</text>
<text x="79.6" y="448.1" font-size="6.2" text-anchor="middle" fill="#2a2a2a" stroke="#2a2a2a" stroke-width="0.08">Pre-B-ALL</text>
<text x="79.6" y="455.5" font-size="6.3" text-anchor="middle" textLength="59.5" lengthAdjust="spacingAndGlyphs" fill="#2a2a2a" stroke="#2a2a2a" stroke-width="0.08">E2A-PBX1 t(1;19) #1</text>
<g fill="none" stroke-linejoin="round">
<polyline points="154.3,519.3 154.6,519.3 154.9,519.1 155.2,519.0 155.5,518.9 155.8,518.9 156.1,519.0 156.4,518.8 156.7,518.6 157.0,518.6 157.3,518.4 157.6,518.1 157.9,518.0 158.2,518.0 158.5,517.8 158.8,517.6 159.1,517.3 159.4,516.9 159.7,516.5 160.0,516.2 160.3,515.8 160.6,515.2 160.9,514.3 161.2,513.4 161.5,512.9 161.8,512.7 162.1,512.1 162.4,511.4 162.7,510.7 163.0,510.4 163.3,509.8 163.6,508.9 163.9,506.9 164.2,505.3 164.5,504.9 164.8,503.8 165.1,502.1 165.4,500.5 165.7,498.6 166.0,497.3 166.3,496.8 166.6,495.9 166.9,494.2 167.2,494.2 167.5,493.3 167.8,489.2 168.1,486.6 168.4,487.4 168.7,487.3 169.0,484.9 169.3,483.3 169.6,483.3 169.9,482.2 170.2,479.2 170.5,476.1 170.8,474.7 171.1,474.0 171.4,474.0 171.7,474.5 172.0,474.2 172.3,473.9 172.6,473.4 172.9,472.1 173.2,470.7 173.5,470.5 173.8,471.4 174.1,471.5 174.4,471.7 174.7,472.5 175.0,473.5 175.3,476.2 175.6,478.8 175.9,480.0 176.2,481.8 176.5,484.4 176.8,487.9 177.1,491.4 177.4,493.3 177.7,494.2 178.0,496.0 178.3,498.8 178.6,500.8 178.9,502.7 179.2,505.3 179.5,507.3 179.8,509.1 180.1,510.6 180.4,512.0 180.7,513.6 181.0,514.6 181.3,515.0 181.6,515.8 181.9,516.5 182.2,516.9 182.5,517.6 182.8,518.1 183.1,518.2 183.4,518.5 183.7,518.9 184.0,519.0 184.3,519.0 184.6,519.2 184.9,519.2 185.2,519.3 185.5,519.3" stroke="#55a8d6" stroke-width="0.85"/>
<polyline points="152.5,519.3 152.8,519.3 153.1,519.2 153.4,519.2 153.7,519.2 154.0,519.2 154.3,519.2 154.6,519.2 154.9,519.0 155.2,518.7 155.5,518.7 155.8,518.7 156.1,518.3 156.4,518.0 156.7,517.9 157.0,517.7 157.3,517.0 157.6,516.5 157.9,516.6 158.2,516.6 158.5,516.0 158.8,515.1 159.1,514.7 159.4,514.6 159.7,514.1 160.0,512.7 160.3,511.7 160.6,510.9 160.9,510.1 161.2,509.4 161.5,508.3 161.8,506.6 162.1,505.5 162.4,505.4 162.7,503.9 163.0,502.3 163.3,501.9 163.6,501.2 163.9,500.0 164.2,498.4 164.5,496.1 164.8,493.6 165.1,491.3 165.4,489.4 165.7,488.1 166.0,486.6 166.3,485.2 166.6,484.1 166.9,480.6 167.2,478.0 167.5,477.2 167.8,475.8 168.1,475.0 168.4,474.2 168.7,471.8 169.0,469.7 169.3,469.4 169.6,469.4 169.9,467.3 170.2,466.1 170.5,467.7 170.8,467.9 171.1,467.9 171.4,470.0 171.7,470.6 172.0,469.6 172.3,469.7 172.6,470.4 172.9,472.8 173.2,475.5 173.5,476.9 173.8,479.5 174.1,483.0 174.4,485.5 174.7,487.3 175.0,488.9 175.3,491.2 175.6,495.0 175.9,499.0 176.2,501.6 176.5,503.6 176.8,505.3 177.1,506.7 177.4,508.9 177.7,511.1 178.0,512.2 178.3,512.7 178.6,513.8 178.9,515.3 179.2,516.7 179.5,517.5 179.8,517.6 180.1,517.6 180.4,517.9 180.7,518.2 181.0,518.5 181.3,518.9 181.6,519.0 181.9,519.1 182.2,519.3 182.5,519.3" stroke="#f2a93a" stroke-width="0.85"/>
<polyline points="153.1,519.3 153.4,519.3 153.7,519.3 154.0,519.3 154.3,519.1 154.6,519.2 154.9,519.1 155.2,518.9 155.5,519.1 155.8,519.1 156.1,518.8 156.4,518.7 156.7,518.6 157.0,518.3 157.3,517.8 157.6,517.4 157.9,517.2 158.2,517.1 158.5,516.9 158.8,516.9 159.1,516.5 159.4,515.6 159.7,515.1 160.0,514.5 160.3,513.7 160.6,513.8 160.9,513.9 161.2,512.8 161.5,511.6 161.8,510.8 162.1,509.8 162.4,509.0 162.7,509.2 163.0,509.0 163.3,506.7 163.6,505.2 163.9,505.1 164.2,503.9 164.5,501.5 164.8,499.9 165.1,499.4 165.4,498.1 165.7,495.6 166.0,493.5 166.3,492.3 166.6,491.4 166.9,490.2 167.2,488.8 167.5,487.2 167.8,485.3 168.1,483.3 168.4,481.4 168.7,480.0 169.0,478.4 169.3,476.3 169.6,474.8 169.9,474.0 170.2,472.8 170.5,472.0 170.8,471.1 171.1,470.0 171.4,470.3 171.7,470.0 172.0,469.4 172.3,468.7 172.6,467.4 172.9,466.6 173.2,467.4 173.5,469.3 173.8,471.1 174.1,472.4 174.4,472.7 174.7,473.0 175.0,474.1 175.3,475.4 175.6,477.3 175.9,480.4 176.2,483.6 176.5,486.9 176.8,489.7 177.1,492.3 177.4,494.8 177.7,497.1 178.0,499.2 178.3,501.1 178.6,503.7 178.9,505.8 179.2,507.3 179.5,509.1 179.8,510.4 180.1,512.1 180.4,513.8 180.7,514.9 181.0,515.7 181.3,516.2 181.6,516.5 181.9,516.9 182.2,517.5 182.5,518.1 182.8,518.5 183.1,518.7 183.4,519.0 183.7,519.2 184.0,519.2 184.3,519.3 184.6,519.3 184.9,519.3 185.2,519.3 185.5,519.3" stroke="#4aa85a" stroke-width="0.85"/>
<polyline points="154.0,519.3 154.3,519.3 154.6,519.2 154.9,519.1 155.2,518.9 155.5,518.4 155.8,517.6 156.1,516.3 156.4,514.5 156.7,512.3 157.0,509.6 157.3,506.0 157.6,502.1 157.9,497.9 158.2,494.4 158.5,491.3 158.8,486.5 159.1,481.3 159.4,477.3 159.7,474.5 160.0,473.2 160.3,472.9 160.6,473.7 160.9,474.8 161.2,474.7 161.5,475.5 161.8,478.2 162.1,482.0 162.4,485.2 162.7,487.4 163.0,489.2 163.3,491.0 163.6,493.0 163.9,495.4 164.2,497.6 164.5,499.8 164.8,502.9 165.1,506.2 165.4,508.0 165.7,508.9 166.0,510.6 166.3,512.0 166.6,513.0 166.9,514.1 167.2,515.1 167.5,515.7 167.8,516.4 168.1,517.5 168.4,518.1 168.7,518.2 169.0,518.4 169.3,518.7 169.6,519.0 169.9,519.2 170.2,519.3 170.5,519.3" stroke="#27365e" stroke-width="0.85"/>
<polyline points="156.1,519.3 156.4,518.9 156.7,517.5 157.0,514.5 157.3,510.8 157.6,505.7 157.9,497.7 158.2,487.4 158.5,477.7 158.8,472.6 159.1,472.0 159.4,473.1 159.7,477.7 160.0,482.9 160.3,486.4 160.6,491.5 160.9,498.0 161.2,503.4 161.5,507.3 161.8,510.2 162.1,513.2 162.4,516.0 162.7,517.6 163.0,518.3 163.3,518.9 163.6,519.2 163.9,519.3" stroke="#c4325c" stroke-width="0.85"/>
</g>
<rect x="149.23" y="460.5" width="60" height="59.1" fill="none" stroke="#1a1a1a" stroke-width="1.05"/>
<path d="M146.23 519.6H149.23M147.83 517.34H149.23M147.83 515.08H149.23M147.83 512.82H149.23M147.83 510.56H149.23M146.23 508.3H149.23M147.83 506.04H149.23M147.83 503.78H149.23M147.83 501.52H149.23M147.83 499.26H149.23M146.23 497H149.23M147.83 494.74H149.23M147.83 492.48H149.23M147.83 490.22H149.23M147.83 487.96H149.23M146.23 485.7H149.23M147.83 483.44H149.23M147.83 481.18H149.23M147.83 478.92H149.23M147.83 476.66H149.23M146.23 474.4H149.23M147.83 472.14H149.23M147.83 469.88H149.23M147.83 467.62H149.23M147.83 465.36H149.23M146.23 463.1H149.23M157.23 519.6V522.4M172.23 519.6V521.8M187.63 519.6V521.8M202.63 519.6V521.8M154.53 519.6V521.2M155.33 519.6V522M156.13 519.6V522M156.73 519.6V522M157.83 519.6V522M158.53 519.6V522M159.33 519.6V521.2M164.73 519.6V521.2M176.81 519.6V520.7M179.48 519.6V520.7M181.38 519.6V520.7M182.85 519.6V520.7M184.06 519.6V520.7M185.08 519.6V520.7M185.96 519.6V520.7M186.73 519.6V520.7M192.21 519.6V520.7M194.88 519.6V520.7M196.78 519.6V520.7M198.25 519.6V520.7M199.46 519.6V520.7M200.48 519.6V520.7M201.36 519.6V520.7M202.13 519.6V520.7" stroke="#222" stroke-width="0.7" fill="none"/>
<text x="142.93" y="522.5" font-size="6.4" text-anchor="end" fill="#2a2a2a" stroke="#2a2a2a" stroke-width="0.18">0</text>
<text x="142.93" y="511.2" font-size="6.4" text-anchor="end" fill="#2a2a2a" stroke="#2a2a2a" stroke-width="0.18">20</text>
<text x="142.93" y="499.9" font-size="6.4" text-anchor="end" fill="#2a2a2a" stroke="#2a2a2a" stroke-width="0.18">40</text>
<text x="142.93" y="488.6" font-size="6.4" text-anchor="end" fill="#2a2a2a" stroke="#2a2a2a" stroke-width="0.18">60</text>
<text x="142.93" y="477.3" font-size="6.4" text-anchor="end" fill="#2a2a2a" stroke="#2a2a2a" stroke-width="0.18">80</text>
<text x="142.93" y="466" font-size="6.4" text-anchor="end" fill="#2a2a2a" stroke="#2a2a2a" stroke-width="0.18">100</text>
<text x="179.23" y="448.1" font-size="6.2" text-anchor="middle" fill="#2a2a2a" stroke="#2a2a2a" stroke-width="0.08">Pre-B-ALL</text>
<text x="179.23" y="455.5" font-size="6.3" text-anchor="middle" textLength="59.5" lengthAdjust="spacingAndGlyphs" fill="#2a2a2a" stroke="#2a2a2a" stroke-width="0.08">E2A-PBX1 t(1;19) #2</text>
<g fill="none" stroke-linejoin="round">
<polyline points="261.2,519.3 261.5,519.2 261.8,519.0 262.1,518.9 262.4,518.8 262.7,518.6 263.0,518.5 263.3,518.2 263.6,517.8 263.9,517.7 264.2,517.3 264.5,516.8 264.8,516.6 265.1,516.4 265.4,516.4 265.7,515.9 266.0,514.8 266.3,514.3 266.6,513.7 266.9,512.2 267.2,511.6 267.5,511.6 267.8,510.2 268.1,507.9 268.4,506.0 268.7,505.0 269.0,504.6 269.3,503.4 269.6,501.2 269.9,499.5 270.2,497.9 270.5,495.9 270.8,495.0 271.1,494.1 271.4,491.9 271.7,490.7 272.0,489.2 272.3,486.7 272.6,485.3 272.9,484.3 273.2,481.6 273.5,478.1 273.8,476.1 274.1,476.5 274.4,475.8 274.7,472.5 275.0,470.3 275.3,469.7 275.6,468.5 275.9,467.2 276.2,466.7 276.5,467.1 276.8,466.8 277.1,466.5 277.4,467.7 277.7,469.1 278.0,469.3 278.3,470.2 278.6,471.7 278.9,473.0 279.2,475.6 279.5,479.0 279.8,481.5 280.1,482.5 280.4,483.6 280.7,486.6 281.0,489.3 281.3,490.7 281.6,492.7 281.9,495.3 282.2,498.2 282.5,500.7 282.8,502.7 283.1,504.5 283.4,505.5 283.7,506.7 284.0,508.6 284.3,510.2 284.6,511.7 284.9,512.3 285.2,512.8 285.5,513.9 285.8,514.7 286.1,515.6 286.4,516.6 286.7,516.8 287.0,516.8 287.3,517.4 287.6,518.0 287.9,518.1 288.2,518.3 288.5,518.7 288.8,518.9 289.1,519.1 289.4,519.3" stroke="#55a8d6" stroke-width="0.85"/>
<polyline points="254.6,519.3 254.9,519.1 255.2,518.9 255.5,518.8 255.8,518.5 256.1,518.6 256.4,518.7 256.7,518.5 257.0,517.8 257.3,517.4 257.6,517.3 257.9,517.0 258.2,516.7 258.5,516.2 258.8,515.5 259.1,514.9 259.4,514.4 259.7,513.8 260.0,512.9 260.3,512.0 260.6,511.1 260.9,510.4 261.2,509.6 261.5,508.1 261.8,506.5 262.1,505.3 262.4,503.8 262.7,502.0 263.0,500.6 263.3,498.9 263.6,498.0 263.9,496.8 264.2,493.9 264.5,491.4 264.8,489.5 265.1,487.2 265.4,486.1 265.7,485.8 266.0,483.1 266.3,480.8 266.6,480.2 266.9,478.3 267.2,475.5 267.5,473.8 267.8,473.2 268.1,472.0 268.4,470.2 268.7,468.1 269.0,466.1 269.3,465.2 269.6,465.4 269.9,467.1 270.2,468.5 270.5,468.3 270.8,468.2 271.1,469.3 271.4,470.2 271.7,470.6 272.0,472.2 272.3,475.3 272.6,478.1 272.9,479.9 273.2,481.4 273.5,484.5 273.8,489.3 274.1,492.9 274.4,493.8 274.7,495.0 275.0,497.4 275.3,500.0 275.6,503.3 275.9,506.0 276.2,507.4 276.5,508.1 276.8,509.4 277.1,511.9 277.4,513.6 277.7,514.2 278.0,515.2 278.3,516.1 278.6,517.0 278.9,517.8 279.2,518.0 279.5,518.1 279.8,518.4 280.1,518.8 280.4,518.9 280.7,518.9 281.0,519.0 281.3,519.2 281.6,519.3" stroke="#f2a93a" stroke-width="0.85"/>
<polyline points="254.9,519.3 255.2,519.3 255.5,519.3 255.8,519.2 256.1,519.2 256.4,519.1 256.7,518.9 257.0,518.8 257.3,518.6 257.6,518.4 257.9,518.0 258.2,517.9 258.5,517.9 258.8,517.5 259.1,517.1 259.4,516.6 259.7,516.1 260.0,515.7 260.3,515.0 260.6,514.1 260.9,513.7 261.2,513.3 261.5,513.1 261.8,512.3 262.1,510.9 262.4,510.4 262.7,509.4 263.0,507.2 263.3,506.8 263.6,506.8 263.9,505.6 264.2,503.4 264.5,500.4 264.8,498.3 265.1,497.4 265.4,496.9 265.7,495.1 266.0,492.4 266.3,490.8 266.6,489.2 266.9,486.4 267.2,485.1 267.5,484.4 267.8,482.3 268.1,479.5 268.4,477.7 268.7,476.8 269.0,475.3 269.3,474.5 269.6,474.1 269.9,473.1 270.2,473.2 270.5,473.5 270.8,471.5 271.1,469.8 271.4,470.8 271.7,471.7 272.0,470.9 272.3,471.9 272.6,474.4 272.9,475.4 273.2,476.6 273.5,478.4 273.8,480.6 274.1,484.0 274.4,486.9 274.7,489.0 275.0,491.7 275.3,494.7 275.6,496.8 275.9,497.9 276.2,499.6 276.5,502.2 276.8,504.4 277.1,506.8 277.4,509.1 277.7,510.5 278.0,512.0 278.3,513.4 278.6,514.2 278.9,515.0 279.2,516.0 279.5,516.3 279.8,516.6 280.1,517.1 280.4,517.4 280.7,517.9 281.0,518.4 281.3,518.7 281.6,519.0 281.9,519.2 282.2,519.3 282.5,519.3 282.8,519.3 283.1,519.3" stroke="#4aa85a" stroke-width="0.85"/>
<polyline points="254.3,519.3 254.6,519.3 254.9,519.2 255.2,519.0 255.5,518.7 255.8,518.6 256.1,518.4 256.4,517.8 256.7,517.0 257.0,516.0 257.3,515.2 257.6,514.5 257.9,512.9 258.2,510.9 258.5,508.7 258.8,506.5 259.1,504.3 259.4,501.3 259.7,497.4 260.0,493.0 260.3,488.5 260.6,485.1 260.9,481.7 261.2,477.6 261.5,474.9 261.8,474.2 262.1,472.7 262.4,470.7 262.7,471.0 263.0,471.9 263.3,472.3 263.6,473.0 263.9,473.1 264.2,474.2 264.5,475.9 264.8,477.8 265.1,479.9 265.4,482.2 265.7,484.7 266.0,487.5 266.3,490.1 266.6,491.2 266.9,493.1 267.2,496.9 267.5,499.3 267.8,501.8 268.1,505.0 268.4,507.0 268.7,508.7 269.0,510.1 269.3,510.7 269.6,511.0 269.9,512.4 270.2,513.9 270.5,514.6 270.8,515.4 271.1,516.3 271.4,517.1 271.7,518.0 272.0,518.3 272.3,518.3 272.6,518.6 272.9,518.9 273.2,519.1 273.5,519.2 273.8,519.3 274.1,519.3 274.4,519.3" stroke="#27365e" stroke-width="0.85"/>
<polyline points="255.8,519.3 256.1,518.9 256.4,517.7 256.7,516.1 257.0,513.4 257.3,508.6 257.6,502.2 257.9,493.6 258.2,482.9 258.5,472.8 258.8,466.7 259.1,465.6 259.4,467.2 259.7,472.1 260.0,478.6 260.3,482.8 260.6,488.0 260.9,495.6 261.2,502.5 261.5,508.1 261.8,512.3 262.1,514.9 262.4,516.4 262.7,517.4 263.0,518.5 263.3,519.3" stroke="#c4325c" stroke-width="0.85"/>
</g>
<rect x="248.86" y="460.5" width="60" height="59.1" fill="none" stroke="#1a1a1a" stroke-width="1.05"/>
<path d="M245.86 519.6H248.86M247.46 517.34H248.86M247.46 515.08H248.86M247.46 512.82H248.86M247.46 510.56H248.86M245.86 508.3H248.86M247.46 506.04H248.86M247.46 503.78H248.86M247.46 501.52H248.86M247.46 499.26H248.86M245.86 497H248.86M247.46 494.74H248.86M247.46 492.48H248.86M247.46 490.22H248.86M247.46 487.96H248.86M245.86 485.7H248.86M247.46 483.44H248.86M247.46 481.18H248.86M247.46 478.92H248.86M247.46 476.66H248.86M245.86 474.4H248.86M247.46 472.14H248.86M247.46 469.88H248.86M247.46 467.62H248.86M247.46 465.36H248.86M245.86 463.1H248.86M256.86 519.6V522.4M271.86 519.6V521.8M287.26 519.6V521.8M302.26 519.6V521.8M254.16 519.6V521.2M254.96 519.6V522M255.76 519.6V522M256.36 519.6V522M257.46 519.6V522M258.16 519.6V522M258.96 519.6V521.2M264.36 519.6V521.2M276.44 519.6V520.7M279.11 519.6V520.7M281.01 519.6V520.7M282.48 519.6V520.7M283.69 519.6V520.7M284.71 519.6V520.7M285.59 519.6V520.7M286.36 519.6V520.7M291.84 519.6V520.7M294.51 519.6V520.7M296.41 519.6V520.7M297.88 519.6V520.7M299.09 519.6V520.7M300.11 519.6V520.7M300.99 519.6V520.7M301.76 519.6V520.7" stroke="#222" stroke-width="0.7" fill="none"/>
<text x="242.56" y="522.5" font-size="6.4" text-anchor="end" fill="#2a2a2a" stroke="#2a2a2a" stroke-width="0.18">0</text>
<text x="242.56" y="511.2" font-size="6.4" text-anchor="end" fill="#2a2a2a" stroke="#2a2a2a" stroke-width="0.18">20</text>
<text x="242.56" y="499.9" font-size="6.4" text-anchor="end" fill="#2a2a2a" stroke="#2a2a2a" stroke-width="0.18">40</text>
<text x="242.56" y="488.6" font-size="6.4" text-anchor="end" fill="#2a2a2a" stroke="#2a2a2a" stroke-width="0.18">60</text>
<text x="242.56" y="477.3" font-size="6.4" text-anchor="end" fill="#2a2a2a" stroke="#2a2a2a" stroke-width="0.18">80</text>
<text x="242.56" y="466" font-size="6.4" text-anchor="end" fill="#2a2a2a" stroke="#2a2a2a" stroke-width="0.18">100</text>
<text x="278.86" y="448.1" font-size="6.2" text-anchor="middle" fill="#2a2a2a" stroke="#2a2a2a" stroke-width="0.08">Pre-B-ALL</text>
<text x="278.86" y="455.5" font-size="6.3" text-anchor="middle" textLength="59.5" lengthAdjust="spacingAndGlyphs" fill="#2a2a2a" stroke="#2a2a2a" stroke-width="0.08">E2A-PBX1 t(1;19) #3</text>
<g fill="none" stroke-linejoin="round">
<polyline points="353.9,519.3 354.2,519.3 354.5,519.2 354.8,519.3 355.1,519.3 355.4,519.2 355.7,519.0 356.0,519.0 356.3,519.1 356.6,519.0 356.9,518.7 357.2,518.5 357.5,518.2 357.8,517.8 358.1,517.5 358.4,517.2 358.7,516.9 359.0,516.4 359.3,516.2 359.6,515.8 359.9,515.3 360.2,514.6 360.5,514.1 360.8,513.8 361.1,512.7 361.4,511.5 361.7,510.9 362.0,509.8 362.3,508.5 362.6,507.4 362.9,506.7 363.2,506.2 363.5,504.5 363.8,502.1 364.1,501.1 364.4,500.1 364.7,497.7 365.0,495.3 365.3,494.0 365.6,492.9 365.9,490.7 366.2,487.8 366.5,486.3 366.8,485.7 367.1,484.0 367.4,482.1 367.7,480.3 368.0,478.0 368.3,476.2 368.6,475.5 368.9,474.5 369.2,472.8 369.5,471.1 369.8,469.7 370.1,469.7 370.4,470.7 370.7,470.5 371.0,470.5 371.3,470.4 371.6,470.3 371.9,471.2 372.2,472.7 372.5,474.7 372.8,475.7 373.1,477.0 373.4,480.1 373.7,482.4 374.0,483.8 374.3,486.6 374.6,490.0 374.9,491.5 375.2,492.7 375.5,494.3 375.8,496.1 376.1,499.4 376.4,502.3 376.7,504.4 377.0,505.7 377.3,506.4 377.6,508.1 377.9,509.9 378.2,511.2 378.5,512.7 378.8,513.8 379.1,514.9 379.4,515.8 379.7,516.1 380.0,516.7 380.3,517.4 380.6,517.8 380.9,518.0 381.2,518.1 381.5,518.3 381.8,518.6 382.1,519.0 382.4,519.2 382.7,519.3 383.0,519.3" stroke="#55a8d6" stroke-width="0.85"/>
<polyline points="352.7,519.3 353.0,519.3 353.3,519.3 353.6,519.3 353.9,519.3 354.2,519.2 354.5,519.1 354.8,519.1 355.1,518.9 355.4,518.5 355.7,518.1 356.0,517.9 356.3,518.0 356.6,517.8 356.9,517.2 357.2,516.6 357.5,516.4 357.8,516.2 358.1,516.0 358.4,515.1 358.7,513.6 359.0,513.2 359.3,512.7 359.6,511.5 359.9,511.0 360.2,510.7 360.5,509.7 360.8,508.0 361.1,505.8 361.4,504.5 361.7,504.0 362.0,502.7 362.3,500.5 362.6,499.1 362.9,498.4 363.2,496.0 363.5,493.6 363.8,492.6 364.1,491.5 364.4,490.1 364.7,487.4 365.0,485.1 365.3,484.0 365.6,481.8 365.9,478.8 366.2,477.7 366.5,478.4 366.8,478.8 367.1,477.4 367.4,475.4 367.7,474.7 368.0,472.8 368.3,470.8 368.6,471.2 368.9,472.2 369.2,473.2 369.5,473.6 369.8,473.9 370.1,474.6 370.4,475.3 370.7,476.0 371.0,477.4 371.3,479.0 371.6,481.0 371.9,483.9 372.2,487.2 372.5,490.2 372.8,492.4 373.1,494.0 373.4,495.5 373.7,497.6 374.0,500.3 374.3,502.8 374.6,505.6 374.9,507.8 375.2,508.9 375.5,510.3 375.8,512.0 376.1,513.5 376.4,514.2 376.7,514.9 377.0,515.8 377.3,516.3 377.6,516.8 377.9,517.3 378.2,517.7 378.5,518.1 378.8,518.4 379.1,518.6 379.4,518.7 379.7,518.7 380.0,518.9 380.3,519.2 380.6,519.3" stroke="#f2a93a" stroke-width="0.85"/>
<polyline points="354.5,519.3 354.8,519.3 355.1,519.3 355.4,519.2 355.7,519.3 356.0,519.3 356.3,519.1 356.6,519.1 356.9,518.9 357.2,518.5 357.5,518.3 357.8,518.2 358.1,518.0 358.4,517.4 358.7,516.8 359.0,516.7 359.3,516.5 359.6,515.9 359.9,515.4 360.2,515.0 360.5,514.4 360.8,513.8 361.1,513.2 361.4,512.2 361.7,510.9 362.0,509.7 362.3,508.2 362.6,506.8 362.9,505.9 363.2,504.6 363.5,502.8 363.8,501.4 364.1,500.0 364.4,498.7 364.7,496.8 365.0,493.5 365.3,490.8 365.6,489.6 365.9,488.3 366.2,486.6 366.5,485.3 366.8,483.9 367.1,482.9 367.4,481.7 367.7,479.7 368.0,477.9 368.3,476.8 368.6,475.6 368.9,474.6 369.2,474.7 369.5,474.4 369.8,472.1 370.1,470.3 370.4,469.7 370.7,468.1 371.0,466.8 371.3,467.4 371.6,469.2 371.9,470.4 372.2,472.3 372.5,475.2 372.8,476.3 373.1,478.2 373.4,481.6 373.7,483.8 374.0,485.5 374.3,487.8 374.6,491.0 374.9,494.1 375.2,496.2 375.5,497.8 375.8,499.4 376.1,501.5 376.4,504.1 376.7,506.1 377.0,507.7 377.3,509.6 377.6,511.7 377.9,512.9 378.2,513.4 378.5,514.4 378.8,515.7 379.1,516.3 379.4,516.8 379.7,517.7 380.0,518.4 380.3,518.7 380.6,518.8 380.9,518.7 381.2,518.7 381.5,518.8 381.8,519.2 382.1,519.3 382.4,519.3" stroke="#4aa85a" stroke-width="0.85"/>
<polyline points="351.8,519.3 352.1,519.1 352.4,518.9 352.7,518.9 353.0,518.9 353.3,518.6 353.6,518.0 353.9,517.6 354.2,517.0 354.5,516.2 354.8,515.6 355.1,515.0 355.4,514.1 355.7,512.9 356.0,512.0 356.3,511.5 356.6,509.9 356.9,507.9 357.2,505.9 357.5,503.6 357.8,501.4 358.1,498.6 358.4,496.8 358.7,495.8 359.0,493.0 359.3,489.8 359.6,486.4 359.9,483.1 360.2,481.0 360.5,478.5 360.8,477.0 361.1,476.0 361.4,473.5 361.7,472.0 362.0,473.0 362.3,472.7 362.6,470.4 362.9,468.6 363.2,467.6 363.5,467.6 363.8,469.7 364.1,472.7 364.4,474.8 364.7,476.5 365.0,477.8 365.3,479.8 365.6,483.7 365.9,487.7 366.2,489.9 366.5,490.9 366.8,492.9 367.1,496.0 367.4,498.6 367.7,501.3 368.0,504.0 368.3,505.5 368.6,506.7 368.9,508.5 369.2,510.1 369.5,511.1 369.8,512.0 370.1,513.0 370.4,514.2 370.7,515.2 371.0,516.3 371.3,516.9 371.6,517.2 371.9,517.6 372.2,518.0 372.5,518.4 372.8,518.6 373.1,518.7 373.4,519.1 373.7,519.3 374.0,519.3 374.3,519.3 374.6,519.3 374.9,519.3" stroke="#27365e" stroke-width="0.85"/>
<polyline points="355.4,519.3 355.7,519.2 356.0,518.5 356.3,517.2 356.6,515.0 356.9,512.4 357.2,508.4 357.5,501.9 357.8,494.4 358.1,486.8 358.4,478.3 358.7,470.7 359.0,467.6 359.3,467.9 359.6,470.0 359.9,474.4 360.2,479.3 360.5,485.0 360.8,490.2 361.1,494.4 361.4,499.0 361.7,503.3 362.0,507.7 362.3,511.3 362.6,513.7 362.9,515.5 363.2,516.7 363.5,517.5 363.8,518.3 364.1,518.9 364.4,519.1 364.7,519.3 365.0,519.3" stroke="#c4325c" stroke-width="0.85"/>
</g>
<rect x="348.49" y="460.5" width="60" height="59.1" fill="none" stroke="#1a1a1a" stroke-width="1.05"/>
<path d="M345.49 519.6H348.49M347.09 517.34H348.49M347.09 515.08H348.49M347.09 512.82H348.49M347.09 510.56H348.49M345.49 508.3H348.49M347.09 506.04H348.49M347.09 503.78H348.49M347.09 501.52H348.49M347.09 499.26H348.49M345.49 497H348.49M347.09 494.74H348.49M347.09 492.48H348.49M347.09 490.22H348.49M347.09 487.96H348.49M345.49 485.7H348.49M347.09 483.44H348.49M347.09 481.18H348.49M347.09 478.92H348.49M347.09 476.66H348.49M345.49 474.4H348.49M347.09 472.14H348.49M347.09 469.88H348.49M347.09 467.62H348.49M347.09 465.36H348.49M345.49 463.1H348.49M356.49 519.6V522.4M371.49 519.6V521.8M386.89 519.6V521.8M401.89 519.6V521.8M353.79 519.6V521.2M354.59 519.6V522M355.39 519.6V522M355.99 519.6V522M357.09 519.6V522M357.79 519.6V522M358.59 519.6V521.2M363.99 519.6V521.2M376.07 519.6V520.7M378.74 519.6V520.7M380.64 519.6V520.7M382.11 519.6V520.7M383.32 519.6V520.7M384.34 519.6V520.7M385.22 519.6V520.7M385.99 519.6V520.7M391.47 519.6V520.7M394.14 519.6V520.7M396.04 519.6V520.7M397.51 519.6V520.7M398.72 519.6V520.7M399.74 519.6V520.7M400.62 519.6V520.7M401.39 519.6V520.7" stroke="#222" stroke-width="0.7" fill="none"/>
<text x="342.19" y="522.5" font-size="6.4" text-anchor="end" fill="#2a2a2a" stroke="#2a2a2a" stroke-width="0.18">0</text>
<text x="342.19" y="511.2" font-size="6.4" text-anchor="end" fill="#2a2a2a" stroke="#2a2a2a" stroke-width="0.18">20</text>
<text x="342.19" y="499.9" font-size="6.4" text-anchor="end" fill="#2a2a2a" stroke="#2a2a2a" stroke-width="0.18">40</text>
<text x="342.19" y="488.6" font-size="6.4" text-anchor="end" fill="#2a2a2a" stroke="#2a2a2a" stroke-width="0.18">60</text>
<text x="342.19" y="477.3" font-size="6.4" text-anchor="end" fill="#2a2a2a" stroke="#2a2a2a" stroke-width="0.18">80</text>
<text x="342.19" y="466" font-size="6.4" text-anchor="end" fill="#2a2a2a" stroke="#2a2a2a" stroke-width="0.18">100</text>
<text x="378.49" y="448.1" font-size="6.2" text-anchor="middle" fill="#2a2a2a" stroke="#2a2a2a" stroke-width="0.08">Pre-B-ALL</text>
<text x="378.49" y="455.5" font-size="6.3" text-anchor="middle" textLength="59.5" lengthAdjust="spacingAndGlyphs" fill="#2a2a2a" stroke="#2a2a2a" stroke-width="0.08">E2A-PBX1 t(1;19) #4</text>
<g fill="none" stroke-linejoin="round">
<polyline points="451.4,519.3 451.7,519.3 452.0,519.1 452.3,518.8 452.6,518.7 452.9,518.6 453.2,518.5 453.5,518.3 453.8,518.1 454.1,517.9 454.4,517.8 454.7,517.8 455.0,517.4 455.3,516.5 455.6,516.0 455.9,515.3 456.2,514.1 456.5,513.6 456.8,512.9 457.1,511.1 457.4,509.7 457.7,509.1 458.0,508.8 458.3,507.6 458.6,505.3 458.9,503.1 459.2,501.2 459.5,500.2 459.8,499.5 460.1,496.9 460.4,494.5 460.7,493.2 461.0,491.5 461.3,489.1 461.6,485.8 461.9,483.9 462.2,482.2 462.5,480.6 462.8,480.4 463.1,478.4 463.4,475.6 463.7,475.1 464.0,475.9 464.3,475.6 464.6,473.9 464.9,472.3 465.2,472.1 465.5,471.2 465.8,470.7 466.1,471.6 466.4,472.1 466.7,473.4 467.0,475.8 467.3,478.0 467.6,479.3 467.9,478.5 468.2,478.3 468.5,479.9 468.8,482.2 469.1,485.0 469.4,486.8 469.7,487.9 470.0,490.1 470.3,492.3 470.6,493.6 470.9,495.3 471.2,497.6 471.5,499.2 471.8,500.3 472.1,501.4 472.4,503.9 472.7,506.8 473.0,507.5 473.3,508.0 473.6,509.6 473.9,510.7 474.2,511.7 474.5,513.1 474.8,514.3 475.1,515.3 475.4,516.3 475.7,516.4 476.0,516.2 476.3,516.5 476.6,517.1 476.9,517.5 477.2,517.6 477.5,517.8 477.8,518.4 478.1,518.9 478.4,519.1 478.7,519.0 479.0,519.1 479.3,519.2 479.6,519.2 479.9,519.2 480.2,519.3 480.5,519.3 480.8,519.3" stroke="#55a8d6" stroke-width="0.85"/>
<polyline points="454.4,519.3 454.7,519.3 455.0,519.2 455.3,519.0 455.6,518.7 455.9,518.4 456.2,518.4 456.5,518.5 456.8,518.5 457.1,518.2 457.4,517.7 457.7,517.6 458.0,517.2 458.3,516.5 458.6,515.9 458.9,515.1 459.2,514.2 459.5,514.1 459.8,513.9 460.1,512.8 460.4,511.8 460.7,510.9 461.0,509.9 461.3,509.0 461.6,507.9 461.9,506.8 462.2,505.6 462.5,503.6 462.8,502.4 463.1,501.1 463.4,498.4 463.7,496.8 464.0,495.8 464.3,493.5 464.6,491.1 464.9,489.1 465.2,486.8 465.5,485.4 465.8,484.8 466.1,482.5 466.4,480.2 466.7,479.0 467.0,477.0 467.3,475.1 467.6,473.7 467.9,471.6 468.2,470.5 468.5,471.8 468.8,472.1 469.1,469.9 469.4,468.1 469.7,468.4 470.0,468.4 470.3,468.5 470.6,470.3 470.9,471.5 471.2,471.4 471.5,472.3 471.8,474.2 472.1,475.7 472.4,476.9 472.7,478.9 473.0,481.9 473.3,483.6 473.6,485.3 473.9,487.8 474.2,489.2 474.5,491.7 474.8,494.6 475.1,496.7 475.4,498.7 475.7,500.4 476.0,502.0 476.3,503.7 476.6,505.8 476.9,507.6 477.2,509.4 477.5,510.7 477.8,511.6 478.1,512.6 478.4,513.5 478.7,514.4 479.0,515.4 479.3,516.2 479.6,516.7 479.9,517.1 480.2,517.3 480.5,517.6 480.8,517.9 481.1,518.3 481.4,518.6 481.7,518.7 482.0,518.7 482.3,519.0 482.6,519.2 482.9,519.3 483.2,519.3 483.5,519.3" stroke="#f2a93a" stroke-width="0.85"/>
<polyline points="452.9,519.3 453.2,519.3 453.5,519.3 453.8,519.3 454.1,519.3 454.4,519.3 454.7,519.3 455.0,519.2 455.3,519.1 455.6,518.9 455.9,518.9 456.2,518.8 456.5,518.5 456.8,518.1 457.1,518.1 457.4,518.1 457.7,517.9 458.0,517.4 458.3,516.6 458.6,516.1 458.9,515.9 459.2,515.6 459.5,515.2 459.8,514.7 460.1,514.2 460.4,513.7 460.7,512.8 461.0,511.5 461.3,510.6 461.6,509.8 461.9,508.6 462.2,506.8 462.5,505.1 462.8,502.9 463.1,502.3 463.4,502.5 463.7,500.2 464.0,497.8 464.3,496.9 464.6,494.9 464.9,492.6 465.2,492.3 465.5,491.8 465.8,489.1 466.1,486.6 466.4,485.3 466.7,482.7 467.0,480.1 467.3,479.8 467.6,479.8 467.9,478.8 468.2,476.9 468.5,474.3 468.8,472.5 469.1,471.0 469.4,469.6 469.7,469.9 470.0,470.2 470.3,469.4 470.6,469.2 470.9,470.6 471.2,471.7 471.5,471.5 471.8,472.6 472.1,473.7 472.4,473.7 472.7,474.1 473.0,476.1 473.3,479.9 473.6,483.0 473.9,485.6 474.2,487.5 474.5,488.4 474.8,490.4 475.1,493.7 475.4,496.3 475.7,498.3 476.0,500.7 476.3,502.8 476.6,503.7 476.9,505.0 477.2,506.7 477.5,508.3 477.8,509.7 478.1,510.8 478.4,511.7 478.7,512.4 479.0,513.7 479.3,514.8 479.6,515.5 479.9,516.3 480.2,516.9 480.5,517.4 480.8,517.8 481.1,518.0 481.4,518.4 481.7,518.6 482.0,518.6 482.3,518.7 482.6,518.9 482.9,519.2 483.2,519.3 483.5,519.3 483.8,519.3 484.1,519.3" stroke="#4aa85a" stroke-width="0.85"/>
<polyline points="450.2,519.3 450.5,519.3 450.8,519.3 451.1,519.3 451.4,519.2 451.7,519.1 452.0,519.1 452.3,518.9 452.6,518.5 452.9,518.2 453.2,518.1 453.5,517.9 453.8,517.5 454.1,517.1 454.4,516.7 454.7,516.2 455.0,515.3 455.3,514.6 455.6,514.0 455.9,513.1 456.2,512.4 456.5,512.3 456.8,511.4 457.1,509.2 457.4,507.3 457.7,506.8 458.0,506.3 458.3,504.7 458.6,502.1 458.9,500.3 459.2,498.9 459.5,496.7 459.8,494.6 460.1,492.0 460.4,490.4 460.7,490.1 461.0,488.3 461.3,485.3 461.6,482.9 461.9,481.6 462.2,480.5 462.5,478.7 462.8,476.8 463.1,475.1 463.4,473.5 463.7,472.5 464.0,473.3 464.3,474.3 464.6,472.7 464.9,469.7 465.2,469.0 465.5,471.3 465.8,472.7 466.1,471.6 466.4,471.8 466.7,473.7 467.0,475.3 467.3,476.8 467.6,478.1 467.9,480.1 468.2,481.9 468.5,483.3 468.8,485.0 469.1,486.0 469.4,487.4 469.7,489.9 470.0,492.9 470.3,495.0 470.6,495.6 470.9,497.7 471.2,500.9 471.5,502.0 471.8,502.0 472.1,503.3 472.4,505.8 472.7,507.8 473.0,509.0 473.3,510.3 473.6,511.7 473.9,512.9 474.2,513.7 474.5,514.2 474.8,514.6 475.1,515.2 475.4,516.1 475.7,516.7 476.0,516.9 476.3,517.2 476.6,517.9 476.9,518.3 477.2,518.7 477.5,518.7 477.8,518.5 478.1,518.7 478.4,518.9 478.7,519.1 479.0,519.2 479.3,519.2 479.6,519.3 479.9,519.3 480.2,519.3 480.5,519.3" stroke="#27365e" stroke-width="0.85"/>
<polyline points="453.5,519.3 453.8,519.3 454.1,518.9 454.4,518.2 454.7,516.6 455.0,513.2 455.3,508.4 455.6,501.7 455.9,492.8 456.2,483.4 456.5,474.5 456.8,465.7 457.1,463.0 457.4,466.9 457.7,471.3 458.0,476.3 458.3,483.7 458.6,491.7 458.9,498.6 459.2,504.8 459.5,509.9 459.8,513.7 460.1,516.2 460.4,517.6 460.7,518.5 461.0,519.0 461.3,519.3 461.6,519.3" stroke="#c4325c" stroke-width="0.85"/>
</g>
<rect x="448.12" y="460.5" width="60" height="59.1" fill="none" stroke="#1a1a1a" stroke-width="1.05"/>
<path d="M445.12 519.6H448.12M446.72 517.34H448.12M446.72 515.08H448.12M446.72 512.82H448.12M446.72 510.56H448.12M445.12 508.3H448.12M446.72 506.04H448.12M446.72 503.78H448.12M446.72 501.52H448.12M446.72 499.26H448.12M445.12 497H448.12M446.72 494.74H448.12M446.72 492.48H448.12M446.72 490.22H448.12M446.72 487.96H448.12M445.12 485.7H448.12M446.72 483.44H448.12M446.72 481.18H448.12M446.72 478.92H448.12M446.72 476.66H448.12M445.12 474.4H448.12M446.72 472.14H448.12M446.72 469.88H448.12M446.72 467.62H448.12M446.72 465.36H448.12M445.12 463.1H448.12M456.12 519.6V522.4M471.12 519.6V521.8M486.52 519.6V521.8M501.52 519.6V521.8M453.42 519.6V521.2M454.22 519.6V522M455.02 519.6V522M455.62 519.6V522M456.72 519.6V522M457.42 519.6V522M458.22 519.6V521.2M463.62 519.6V521.2M475.7 519.6V520.7M478.37 519.6V520.7M480.27 519.6V520.7M481.74 519.6V520.7M482.95 519.6V520.7M483.97 519.6V520.7M484.85 519.6V520.7M485.62 519.6V520.7M491.1 519.6V520.7M493.77 519.6V520.7M495.67 519.6V520.7M497.14 519.6V520.7M498.35 519.6V520.7M499.37 519.6V520.7M500.25 519.6V520.7M501.02 519.6V520.7" stroke="#222" stroke-width="0.7" fill="none"/>
<text x="441.82" y="522.5" font-size="6.4" text-anchor="end" fill="#2a2a2a" stroke="#2a2a2a" stroke-width="0.18">0</text>
<text x="441.82" y="511.2" font-size="6.4" text-anchor="end" fill="#2a2a2a" stroke="#2a2a2a" stroke-width="0.18">20</text>
<text x="441.82" y="499.9" font-size="6.4" text-anchor="end" fill="#2a2a2a" stroke="#2a2a2a" stroke-width="0.18">40</text>
<text x="441.82" y="488.6" font-size="6.4" text-anchor="end" fill="#2a2a2a" stroke="#2a2a2a" stroke-width="0.18">60</text>
<text x="441.82" y="477.3" font-size="6.4" text-anchor="end" fill="#2a2a2a" stroke="#2a2a2a" stroke-width="0.18">80</text>
<text x="441.82" y="466" font-size="6.4" text-anchor="end" fill="#2a2a2a" stroke="#2a2a2a" stroke-width="0.18">100</text>
<text x="478.12" y="448.1" font-size="6.2" text-anchor="middle" fill="#2a2a2a" stroke="#2a2a2a" stroke-width="0.08">Pre-B-ALL</text>
<text x="478.12" y="455.5" font-size="6.3" text-anchor="middle" textLength="59.5" lengthAdjust="spacingAndGlyphs" fill="#2a2a2a" stroke="#2a2a2a" stroke-width="0.08">E2A-PBX1 t(1;19) #5</text>
<text transform="translate(27.2,490.05) rotate(-90)" x="0" y="0" font-size="8.4" text-anchor="middle" font-weight="bold" textLength="44.8" lengthAdjust="spacingAndGlyphs" fill="#2a2a2a" >Normalized mode</text>
<line x1="50" y1="530" x2="503" y2="530" stroke="#222" stroke-width="1" />
<path d="M502 528 L507.6 530 L502 532 Z" fill="#222"/>
<text x="256" y="538.3" font-size="6.2" textLength="15.3" lengthAdjust="spacingAndGlyphs" >pBTK</text>
<rect x="156.6" y="551.5" width="9.9" height="6.6" fill="#fdf1f5" stroke="#9b3352" stroke-width="1.2"/>
<text x="169.4" y="557.2" font-size="6.1" textLength="27.3" lengthAdjust="spacingAndGlyphs" >Unstained</text>
<rect x="203.3" y="551.5" width="9.9" height="6.6" fill="#eef7fc" stroke="#74a9c9" stroke-width="1.2"/>
<text x="216.6" y="557.2" font-size="6.1" textLength="19" lengthAdjust="spacingAndGlyphs" >DMSO</text>
<rect x="242.6" y="551.5" width="9.9" height="6.6" fill="#fffaf0" stroke="#d9a25e" stroke-width="1.2"/>
<text x="255.8" y="557.2" font-size="6.1" textLength="25.6" lengthAdjust="spacingAndGlyphs" >Dasatinib</text>
<rect x="287.4" y="551.5" width="9.9" height="6.6" fill="#f3fbf3" stroke="#6b9d6e" stroke-width="1.2"/>
<text x="300.7" y="557.2" font-size="6.1" textLength="20.8" lengthAdjust="spacingAndGlyphs" >Ibrutinib</text>
<rect x="328.8" y="551.5" width="9.9" height="6.6" fill="#f4f6fa" stroke="#4b5b7a" stroke-width="1.2"/>
<text x="342" y="557.2" font-size="6.1" textLength="55" lengthAdjust="spacingAndGlyphs" >Dasatinib + Ibrutinib</text>
</svg></body></html>
